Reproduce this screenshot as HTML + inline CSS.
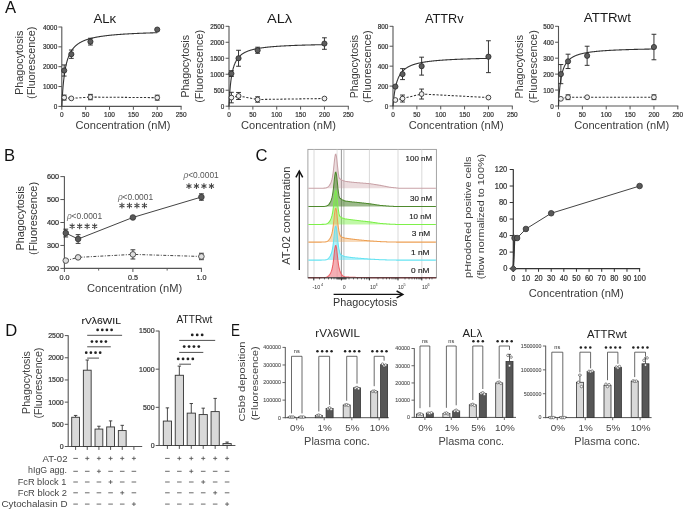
<!DOCTYPE html>
<html><head><meta charset="utf-8"><style>
html,body{margin:0;padding:0;background:#fff;}
svg{display:block;font-family:"Liberation Sans", sans-serif;-webkit-font-smoothing:antialiased;will-change:transform;}
</style></head><body>
<svg width="685" height="511" viewBox="0 0 685 511">
<rect width="685" height="511" fill="#fff"/>
<text x="4.90" y="12.90" font-size="16.6" fill="#111" >A</text>
<text x="3.95" y="160.80" font-size="16.6" fill="#111" >B</text>
<text x="255.60" y="161.20" font-size="16.6" fill="#111" >C</text>
<text x="5.25" y="335.50" font-size="16.6" fill="#111" >D</text>
<text x="230.90" y="335.80" font-size="16.6" fill="#111" textLength="9.0" lengthAdjust="spacingAndGlyphs" >E</text>
<line x1="61.80" y1="26.70" x2="61.80" y2="106.90" stroke="#555" stroke-width="1.1"/>
<line x1="61.30" y1="106.40" x2="181.60" y2="106.40" stroke="#555" stroke-width="1.1"/>
<line x1="61.80" y1="106.40" x2="61.80" y2="109.80" stroke="#555" stroke-width="1"/>
<text x="59.99" y="117.00" font-size="7.4" fill="#333" stroke="#333" stroke-width="0.22" textLength="3.61" lengthAdjust="spacingAndGlyphs">0</text>
<line x1="85.66" y1="106.40" x2="85.66" y2="109.80" stroke="#555" stroke-width="1"/>
<text x="82.05" y="117.00" font-size="7.4" fill="#333" stroke="#333" stroke-width="0.22" textLength="7.23" lengthAdjust="spacingAndGlyphs">50</text>
<line x1="109.52" y1="106.40" x2="109.52" y2="109.80" stroke="#555" stroke-width="1"/>
<text x="104.10" y="117.00" font-size="7.4" fill="#333" stroke="#333" stroke-width="0.22" textLength="10.84" lengthAdjust="spacingAndGlyphs">100</text>
<line x1="133.38" y1="106.40" x2="133.38" y2="109.80" stroke="#555" stroke-width="1"/>
<text x="127.96" y="117.00" font-size="7.4" fill="#333" stroke="#333" stroke-width="0.22" textLength="10.84" lengthAdjust="spacingAndGlyphs">150</text>
<line x1="157.24" y1="106.40" x2="157.24" y2="109.80" stroke="#555" stroke-width="1"/>
<text x="151.82" y="117.00" font-size="7.4" fill="#333" stroke="#333" stroke-width="0.22" textLength="10.84" lengthAdjust="spacingAndGlyphs">200</text>
<line x1="181.10" y1="106.40" x2="181.10" y2="109.80" stroke="#555" stroke-width="1"/>
<text x="175.68" y="117.00" font-size="7.4" fill="#333" stroke="#333" stroke-width="0.22" textLength="10.84" lengthAdjust="spacingAndGlyphs">250</text>
<line x1="58.40" y1="106.40" x2="61.80" y2="106.40" stroke="#555" stroke-width="1"/>
<text x="53.64" y="108.90" font-size="7.0" fill="#333" stroke="#333" stroke-width="0.22" textLength="3.56" lengthAdjust="spacingAndGlyphs">0</text>
<line x1="58.40" y1="86.55" x2="61.80" y2="86.55" stroke="#555" stroke-width="1"/>
<text x="42.96" y="89.05" font-size="7.0" fill="#333" stroke="#333" stroke-width="0.22" textLength="14.24" lengthAdjust="spacingAndGlyphs">1000</text>
<line x1="58.40" y1="66.70" x2="61.80" y2="66.70" stroke="#555" stroke-width="1"/>
<text x="42.96" y="69.20" font-size="7.0" fill="#333" stroke="#333" stroke-width="0.22" textLength="14.24" lengthAdjust="spacingAndGlyphs">2000</text>
<line x1="58.40" y1="46.85" x2="61.80" y2="46.85" stroke="#555" stroke-width="1"/>
<text x="42.96" y="49.35" font-size="7.0" fill="#333" stroke="#333" stroke-width="0.22" textLength="14.24" lengthAdjust="spacingAndGlyphs">3000</text>
<line x1="58.40" y1="27.00" x2="61.80" y2="27.00" stroke="#555" stroke-width="1"/>
<text x="42.96" y="29.50" font-size="7.0" fill="#333" stroke="#333" stroke-width="0.22" textLength="14.24" lengthAdjust="spacingAndGlyphs">4000</text>
<text x="123.00" y="128.80" font-size="10.2" fill="#3a3a3a" text-anchor="middle" textLength="94.8" lengthAdjust="spacingAndGlyphs" >Concentration (nM)</text>
<text x="22.60" y="62.80" font-size="10.9" fill="#3a3a3a" text-anchor="middle" textLength="64.3" lengthAdjust="spacingAndGlyphs" transform="rotate(-90 22.60 62.80)" >Phagocytosis</text>
<text x="35.00" y="62.80" font-size="10.9" fill="#3a3a3a" text-anchor="middle" textLength="72.2" lengthAdjust="spacingAndGlyphs" transform="rotate(-90 35.00 62.80)" >(Fluorescence)</text>
<text x="93.48" y="22.60" font-size="13.4" fill="#1a1a1a" textLength="22.75" lengthAdjust="spacingAndGlyphs">ALκ</text>
<polyline points="61.80,106.40 61.80,106.39 61.80,106.35 61.81,106.29 61.81,106.20 61.81,106.09 61.82,105.95 61.83,105.79 61.84,105.61 61.85,105.40 61.86,105.17 61.87,104.91 61.89,104.63 61.90,104.34 61.92,104.02 61.93,103.68 61.95,103.32 61.97,102.94 61.99,102.54 62.02,102.12 62.04,101.69 62.06,101.24 62.09,100.77 62.12,100.29 62.14,99.80 62.17,99.29 62.20,98.76 62.23,98.23 62.27,97.68 62.30,97.13 62.34,96.56 62.37,95.98 62.41,95.40 62.45,94.80 62.49,94.21 62.53,93.60 62.57,92.99 62.62,92.37 62.66,91.75 62.71,91.12 62.75,90.50 62.80,89.86 62.85,89.23 62.90,88.60 62.95,87.96 63.01,87.32 63.06,86.69 63.12,86.05 63.17,85.42 63.23,84.78 63.29,84.15 63.35,83.52 63.41,82.89 63.48,82.27 63.54,81.65 63.60,81.03 63.67,80.41 63.74,79.80 63.81,79.20 63.88,78.59 63.95,78.00 64.02,77.40 64.09,76.82 64.17,76.23 64.24,75.66 64.32,75.08 64.40,74.52 64.48,73.96 64.56,73.40 64.64,72.85 64.72,72.31 64.81,71.77 64.89,71.24 64.98,70.72 65.07,70.20 65.16,69.69 65.25,69.18 65.34,68.68 65.43,68.19 65.52,67.70 65.62,67.22 65.71,66.74 65.81,66.28 65.91,65.81 66.01,65.36 66.11,64.91 66.21,64.46 66.31,64.03 66.42,63.59 66.52,63.17 66.63,62.75 66.74,62.34 66.85,61.93 66.96,61.53 67.07,61.13 67.18,60.74 67.30,60.35 67.41,59.98 67.53,59.60 67.65,59.23 67.77,58.87 67.88,58.51 68.01,58.16 68.13,57.82 68.25,57.47 68.38,57.14 68.50,56.81 68.63,56.48 68.76,56.16 68.89,55.84 69.02,55.53 69.15,55.22 69.28,54.92 69.42,54.62 69.55,54.32 69.69,54.04 69.83,53.75 69.97,53.47 70.11,53.19 70.25,52.92 70.39,52.65 70.53,52.39 70.68,52.13 70.82,51.87 70.97,51.62 71.12,51.37 71.27,51.12 71.42,50.88 71.57,50.64 71.73,50.41 71.88,50.18 72.04,49.95 72.19,49.73 72.35,49.51 72.51,49.29 72.67,49.07 72.83,48.86 73.00,48.65 73.16,48.45 73.32,48.25 73.49,48.05 73.66,47.85 73.83,47.66 74.00,47.47 74.17,47.28 74.34,47.09 74.51,46.91 74.69,46.73 74.87,46.55 75.04,46.38 75.22,46.21 75.40,46.04 75.58,45.87 75.76,45.70 75.95,45.54 76.13,45.38 76.32,45.22 76.50,45.07 76.69,44.91 76.88,44.76 77.07,44.61 77.26,44.46 77.45,44.32 77.65,44.18 77.84,44.03 78.04,43.89 78.24,43.76 78.44,43.62 78.64,43.49 78.84,43.35 79.04,43.22 79.24,43.10 79.45,42.97 79.65,42.84 79.86,42.72 80.07,42.60 80.28,42.48 80.49,42.36 80.70,42.24 80.91,42.13 81.13,42.01 81.34,41.90 81.56,41.79 81.78,41.68 82.00,41.57 82.22,41.46 82.44,41.36 82.66,41.25 82.88,41.15 83.11,41.05 83.33,40.95 83.56,40.85 83.79,40.75 84.02,40.66 84.25,40.56 84.48,40.47 84.72,40.38 84.95,40.28 85.19,40.19 85.42,40.10 85.66,40.02 85.90,39.93 86.14,39.84 86.38,39.76 86.62,39.67 86.87,39.59 87.11,39.51 87.36,39.43 87.61,39.35 87.86,39.27 88.11,39.19 88.36,39.11 88.61,39.04 88.86,38.96 89.12,38.89 89.37,38.81 89.63,38.74 89.89,38.67 90.15,38.60 90.41,38.53 90.67,38.46 90.93,38.39 91.20,38.32 91.46,38.25 91.73,38.19 92.00,38.12 92.27,38.06 92.54,37.99 92.81,37.93 93.08,37.86 93.35,37.80 93.63,37.74 93.91,37.68 94.18,37.62 94.46,37.56 94.74,37.50 95.02,37.45 95.30,37.39 95.59,37.33 95.87,37.28 96.16,37.22 96.45,37.16 96.73,37.11 97.02,37.06 97.31,37.00 97.60,36.95 97.90,36.90 98.19,36.85 98.49,36.80 98.78,36.75 99.08,36.70 99.38,36.65 99.68,36.60 99.98,36.55 100.28,36.50 100.59,36.46 100.89,36.41 101.20,36.36 101.51,36.32 101.81,36.27 102.12,36.23 102.43,36.18 102.75,36.14 103.06,36.09 103.37,36.05 103.69,36.01 104.01,35.97 104.32,35.92 104.64,35.88 104.96,35.84 105.28,35.80 105.61,35.76 105.93,35.72 106.26,35.68 106.58,35.64 106.91,35.60 107.24,35.57 107.57,35.53 107.90,35.49 108.23,35.45 108.57,35.42 108.90,35.38 109.24,35.34 109.57,35.31 109.91,35.27 110.25,35.24 110.59,35.20 110.93,35.17 111.28,35.14 111.62,35.10 111.97,35.07 112.31,35.04 112.66,35.00 113.01,34.97 113.36,34.94 113.71,34.91 114.06,34.87 114.42,34.84 114.77,34.81 115.13,34.78 115.48,34.75 115.84,34.72 116.20,34.69 116.56,34.66 116.93,34.63 117.29,34.60 117.65,34.57 118.02,34.55 118.39,34.52 118.75,34.49 119.12,34.46 119.49,34.43 119.87,34.41 120.24,34.38 120.61,34.35 120.99,34.33 121.36,34.30 121.74,34.27 122.12,34.25 122.50,34.22 122.88,34.20 123.26,34.17 123.65,34.15 124.03,34.12 124.42,34.10 124.81,34.07 125.19,34.05 125.58,34.02 125.97,34.00 126.37,33.98 126.76,33.95 127.15,33.93 127.55,33.91 127.95,33.88 128.34,33.86 128.74,33.84 129.14,33.82 129.54,33.80 129.95,33.77 130.35,33.75 130.76,33.73 131.16,33.71 131.57,33.69 131.98,33.67 132.39,33.65 132.80,33.63 133.21,33.60 133.62,33.58 134.04,33.56 134.45,33.54 134.87,33.52 135.29,33.50 135.71,33.49 136.13,33.47 136.55,33.45 136.97,33.43 137.40,33.41 137.82,33.39 138.25,33.37 138.68,33.35 139.11,33.33 139.54,33.32 139.97,33.30 140.40,33.28 140.83,33.26 141.27,33.25 141.70,33.23 142.14,33.21 142.58,33.19 143.02,33.18 143.46,33.16 143.90,33.14 144.35,33.13 144.79,33.11 145.24,33.09 145.68,33.08 146.13,33.06 146.58,33.04 147.03,33.03 147.48,33.01 147.93,33.00 148.39,32.98 148.84,32.97 149.30,32.95 149.76,32.94 150.22,32.92 150.68,32.91 151.14,32.89 151.60,32.88 152.06,32.86 152.53,32.85 152.99,32.83 153.46,32.82 153.93,32.80 154.40,32.79 154.87,32.77 155.34,32.76 155.81,32.75 156.29,32.73 156.76,32.72 157.24,32.71" stroke="#333" stroke-width="1.1" fill="none"/>
<polyline points="64.19,97.59 71.34,98.38 90.43,97.07 157.24,97.67" stroke="#333" stroke-width="1.05" fill="none" stroke-dasharray="2.2,1.6"/>
<line x1="64.19" y1="100.07" x2="64.19" y2="95.11" stroke="#2a2a2a" stroke-width="0.95"/>
<line x1="61.79" y1="95.11" x2="66.59" y2="95.11" stroke="#2a2a2a" stroke-width="0.95"/>
<line x1="61.79" y1="100.07" x2="66.59" y2="100.07" stroke="#2a2a2a" stroke-width="0.95"/>
<circle cx="64.19" cy="97.59" r="2.4" fill="#eeeeee" stroke="#333" stroke-width="0.9"/>
<circle cx="71.34" cy="98.38" r="2.4" fill="#eeeeee" stroke="#333" stroke-width="0.9"/>
<line x1="90.43" y1="99.75" x2="90.43" y2="94.39" stroke="#2a2a2a" stroke-width="0.95"/>
<line x1="88.03" y1="94.39" x2="92.83" y2="94.39" stroke="#2a2a2a" stroke-width="0.95"/>
<line x1="88.03" y1="99.75" x2="92.83" y2="99.75" stroke="#2a2a2a" stroke-width="0.95"/>
<circle cx="90.43" cy="97.07" r="2.4" fill="#eeeeee" stroke="#333" stroke-width="0.9"/>
<line x1="157.24" y1="100.15" x2="157.24" y2="95.18" stroke="#2a2a2a" stroke-width="0.95"/>
<line x1="154.84" y1="95.18" x2="159.64" y2="95.18" stroke="#2a2a2a" stroke-width="0.95"/>
<line x1="154.84" y1="100.15" x2="159.64" y2="100.15" stroke="#2a2a2a" stroke-width="0.95"/>
<circle cx="157.24" cy="97.67" r="2.4" fill="#eeeeee" stroke="#333" stroke-width="0.9"/>
<line x1="64.19" y1="76.07" x2="64.19" y2="64.95" stroke="#2a2a2a" stroke-width="0.95"/>
<line x1="61.79" y1="64.95" x2="66.59" y2="64.95" stroke="#2a2a2a" stroke-width="0.95"/>
<line x1="61.79" y1="76.07" x2="66.59" y2="76.07" stroke="#2a2a2a" stroke-width="0.95"/>
<circle cx="64.19" cy="70.51" r="2.6" fill="#5e5e5e" stroke="#2a2a2a" stroke-width="0.8"/>
<line x1="71.34" y1="58.36" x2="71.34" y2="50.03" stroke="#2a2a2a" stroke-width="0.95"/>
<line x1="68.94" y1="50.03" x2="73.74" y2="50.03" stroke="#2a2a2a" stroke-width="0.95"/>
<line x1="68.94" y1="58.36" x2="73.74" y2="58.36" stroke="#2a2a2a" stroke-width="0.95"/>
<circle cx="71.34" cy="54.19" r="2.6" fill="#5e5e5e" stroke="#2a2a2a" stroke-width="0.8"/>
<line x1="90.43" y1="45.02" x2="90.43" y2="38.27" stroke="#2a2a2a" stroke-width="0.95"/>
<line x1="88.03" y1="38.27" x2="92.83" y2="38.27" stroke="#2a2a2a" stroke-width="0.95"/>
<line x1="88.03" y1="45.02" x2="92.83" y2="45.02" stroke="#2a2a2a" stroke-width="0.95"/>
<circle cx="90.43" cy="41.65" r="2.6" fill="#5e5e5e" stroke="#2a2a2a" stroke-width="0.8"/>
<circle cx="157.24" cy="29.58" r="2.6" fill="#5e5e5e" stroke="#2a2a2a" stroke-width="0.8"/>
<line x1="229.00" y1="26.00" x2="229.00" y2="106.70" stroke="#555" stroke-width="1.1"/>
<line x1="228.50" y1="106.20" x2="348.80" y2="106.20" stroke="#555" stroke-width="1.1"/>
<line x1="229.00" y1="106.20" x2="229.00" y2="109.60" stroke="#555" stroke-width="1"/>
<text x="227.19" y="116.80" font-size="7.4" fill="#333" stroke="#333" stroke-width="0.22" textLength="3.61" lengthAdjust="spacingAndGlyphs">0</text>
<line x1="252.86" y1="106.20" x2="252.86" y2="109.60" stroke="#555" stroke-width="1"/>
<text x="249.25" y="116.80" font-size="7.4" fill="#333" stroke="#333" stroke-width="0.22" textLength="7.23" lengthAdjust="spacingAndGlyphs">50</text>
<line x1="276.72" y1="106.20" x2="276.72" y2="109.60" stroke="#555" stroke-width="1"/>
<text x="271.30" y="116.80" font-size="7.4" fill="#333" stroke="#333" stroke-width="0.22" textLength="10.84" lengthAdjust="spacingAndGlyphs">100</text>
<line x1="300.58" y1="106.20" x2="300.58" y2="109.60" stroke="#555" stroke-width="1"/>
<text x="295.16" y="116.80" font-size="7.4" fill="#333" stroke="#333" stroke-width="0.22" textLength="10.84" lengthAdjust="spacingAndGlyphs">150</text>
<line x1="324.44" y1="106.20" x2="324.44" y2="109.60" stroke="#555" stroke-width="1"/>
<text x="319.02" y="116.80" font-size="7.4" fill="#333" stroke="#333" stroke-width="0.22" textLength="10.84" lengthAdjust="spacingAndGlyphs">200</text>
<line x1="348.30" y1="106.20" x2="348.30" y2="109.60" stroke="#555" stroke-width="1"/>
<text x="342.88" y="116.80" font-size="7.4" fill="#333" stroke="#333" stroke-width="0.22" textLength="10.84" lengthAdjust="spacingAndGlyphs">250</text>
<line x1="225.60" y1="106.20" x2="229.00" y2="106.20" stroke="#555" stroke-width="1"/>
<text x="220.84" y="108.70" font-size="7.0" fill="#333" stroke="#333" stroke-width="0.22" textLength="3.56" lengthAdjust="spacingAndGlyphs">0</text>
<line x1="225.60" y1="90.22" x2="229.00" y2="90.22" stroke="#555" stroke-width="1"/>
<text x="213.72" y="92.72" font-size="7.0" fill="#333" stroke="#333" stroke-width="0.22" textLength="10.68" lengthAdjust="spacingAndGlyphs">500</text>
<line x1="225.60" y1="74.24" x2="229.00" y2="74.24" stroke="#555" stroke-width="1"/>
<text x="210.16" y="76.74" font-size="7.0" fill="#333" stroke="#333" stroke-width="0.22" textLength="14.24" lengthAdjust="spacingAndGlyphs">1000</text>
<line x1="225.60" y1="58.26" x2="229.00" y2="58.26" stroke="#555" stroke-width="1"/>
<text x="210.16" y="60.76" font-size="7.0" fill="#333" stroke="#333" stroke-width="0.22" textLength="14.24" lengthAdjust="spacingAndGlyphs">1500</text>
<line x1="225.60" y1="42.28" x2="229.00" y2="42.28" stroke="#555" stroke-width="1"/>
<text x="210.16" y="44.78" font-size="7.0" fill="#333" stroke="#333" stroke-width="0.22" textLength="14.24" lengthAdjust="spacingAndGlyphs">2000</text>
<line x1="225.60" y1="26.30" x2="229.00" y2="26.30" stroke="#555" stroke-width="1"/>
<text x="210.16" y="28.80" font-size="7.0" fill="#333" stroke="#333" stroke-width="0.22" textLength="14.24" lengthAdjust="spacingAndGlyphs">2500</text>
<text x="288.50" y="128.80" font-size="10.2" fill="#3a3a3a" text-anchor="middle" textLength="94.8" lengthAdjust="spacingAndGlyphs" >Concentration (nM)</text>
<text x="189.50" y="66.30" font-size="10.0" fill="#3a3a3a" text-anchor="middle" textLength="62.5" lengthAdjust="spacingAndGlyphs" transform="rotate(-90 189.50 66.30)" >Phagocytosis</text>
<text x="203.20" y="66.30" font-size="10.0" fill="#3a3a3a" text-anchor="middle" textLength="73.0" lengthAdjust="spacingAndGlyphs" transform="rotate(-90 203.20 66.30)" >(Fluorescence)</text>
<text x="267.02" y="23.30" font-size="13.5" fill="#1a1a1a" textLength="25.16" lengthAdjust="spacingAndGlyphs">ALλ</text>
<polyline points="229.00,106.20 229.00,106.19 229.00,106.15 229.01,106.08 229.01,105.99 229.01,105.87 229.02,105.73 229.03,105.56 229.04,105.36 229.05,105.14 229.06,104.90 229.07,104.63 229.09,104.34 229.10,104.03 229.12,103.70 229.13,103.35 229.15,102.97 229.17,102.58 229.19,102.17 229.22,101.74 229.24,101.30 229.26,100.84 229.29,100.37 229.32,99.88 229.34,99.38 229.37,98.86 229.40,98.34 229.43,97.80 229.47,97.26 229.50,96.71 229.54,96.15 229.57,95.58 229.61,95.01 229.65,94.43 229.69,93.84 229.73,93.26 229.77,92.67 229.82,92.07 229.86,91.48 229.91,90.88 229.95,90.29 230.00,89.69 230.05,89.10 230.10,88.50 230.15,87.91 230.21,87.32 230.26,86.73 230.32,86.15 230.37,85.57 230.43,84.99 230.49,84.41 230.55,83.84 230.61,83.28 230.68,82.72 230.74,82.16 230.80,81.61 230.87,81.07 230.94,80.53 231.01,80.00 231.08,79.47 231.15,78.95 231.22,78.43 231.29,77.92 231.37,77.42 231.44,76.93 231.52,76.44 231.60,75.95 231.68,75.48 231.76,75.01 231.84,74.55 231.92,74.09 232.01,73.64 232.09,73.20 232.18,72.76 232.27,72.33 232.36,71.91 232.45,71.49 232.54,71.08 232.63,70.68 232.72,70.28 232.82,69.89 232.91,69.50 233.01,69.13 233.11,68.75 233.21,68.39 233.31,68.03 233.41,67.67 233.51,67.32 233.62,66.98 233.72,66.64 233.83,66.31 233.94,65.99 234.05,65.66 234.16,65.35 234.27,65.04 234.38,64.73 234.50,64.44 234.61,64.14 234.73,63.85 234.85,63.57 234.97,63.29 235.08,63.01 235.21,62.74 235.33,62.48 235.45,62.21 235.58,61.96 235.70,61.70 235.83,61.46 235.96,61.21 236.09,60.97 236.22,60.74 236.35,60.50 236.48,60.28 236.62,60.05 236.75,59.83 236.89,59.61 237.03,59.40 237.17,59.19 237.31,58.99 237.45,58.78 237.59,58.58 237.73,58.39 237.88,58.20 238.02,58.01 238.17,57.82 238.32,57.64 238.47,57.46 238.62,57.28 238.77,57.10 238.93,56.93 239.08,56.76 239.24,56.60 239.39,56.43 239.55,56.27 239.71,56.11 239.87,55.96 240.03,55.80 240.20,55.65 240.36,55.51 240.52,55.36 240.69,55.22 240.86,55.07 241.03,54.93 241.20,54.80 241.37,54.66 241.54,54.53 241.71,54.40 241.89,54.27 242.07,54.14 242.24,54.02 242.42,53.89 242.60,53.77 242.78,53.65 242.96,53.54 243.15,53.42 243.33,53.31 243.52,53.19 243.70,53.08 243.89,52.97 244.08,52.87 244.27,52.76 244.46,52.66 244.65,52.55 244.85,52.45 245.04,52.35 245.24,52.25 245.44,52.16 245.64,52.06 245.84,51.97 246.04,51.88 246.24,51.78 246.44,51.69 246.65,51.61 246.85,51.52 247.06,51.43 247.27,51.35 247.48,51.26 247.69,51.18 247.90,51.10 248.11,51.02 248.33,50.94 248.54,50.86 248.76,50.78 248.98,50.71 249.20,50.63 249.42,50.56 249.64,50.48 249.86,50.41 250.08,50.34 250.31,50.27 250.53,50.20 250.76,50.13 250.99,50.06 251.22,50.00 251.45,49.93 251.68,49.87 251.92,49.80 252.15,49.74 252.39,49.68 252.62,49.62 252.86,49.55 253.10,49.49 253.34,49.44 253.58,49.38 253.82,49.32 254.07,49.26 254.31,49.21 254.56,49.15 254.81,49.10 255.06,49.04 255.31,48.99 255.56,48.93 255.81,48.88 256.06,48.83 256.32,48.78 256.57,48.73 256.83,48.68 257.09,48.63 257.35,48.58 257.61,48.53 257.87,48.49 258.13,48.44 258.40,48.39 258.66,48.35 258.93,48.30 259.20,48.26 259.47,48.21 259.74,48.17 260.01,48.13 260.28,48.08 260.55,48.04 260.83,48.00 261.11,47.96 261.38,47.92 261.66,47.88 261.94,47.84 262.22,47.80 262.50,47.76 262.79,47.72 263.07,47.68 263.36,47.65 263.65,47.61 263.93,47.57 264.22,47.54 264.51,47.50 264.80,47.46 265.10,47.43 265.39,47.39 265.69,47.36 265.98,47.33 266.28,47.29 266.58,47.26 266.88,47.23 267.18,47.19 267.48,47.16 267.79,47.13 268.09,47.10 268.40,47.07 268.71,47.04 269.01,47.01 269.32,46.98 269.63,46.95 269.95,46.92 270.26,46.89 270.57,46.86 270.89,46.83 271.21,46.80 271.52,46.77 271.84,46.74 272.16,46.72 272.48,46.69 272.81,46.66 273.13,46.64 273.46,46.61 273.78,46.58 274.11,46.56 274.44,46.53 274.77,46.51 275.10,46.48 275.43,46.46 275.77,46.43 276.10,46.41 276.44,46.38 276.77,46.36 277.11,46.34 277.45,46.31 277.79,46.29 278.13,46.27 278.48,46.24 278.82,46.22 279.17,46.20 279.51,46.18 279.86,46.15 280.21,46.13 280.56,46.11 280.91,46.09 281.26,46.07 281.62,46.05 281.97,46.03 282.33,46.01 282.69,45.99 283.04,45.97 283.40,45.95 283.76,45.93 284.13,45.91 284.49,45.89 284.85,45.87 285.22,45.85 285.59,45.83 285.95,45.81 286.32,45.79 286.69,45.78 287.07,45.76 287.44,45.74 287.81,45.72 288.19,45.70 288.56,45.69 288.94,45.67 289.32,45.65 289.70,45.63 290.08,45.62 290.46,45.60 290.85,45.58 291.23,45.57 291.62,45.55 292.01,45.53 292.39,45.52 292.78,45.50 293.17,45.49 293.57,45.47 293.96,45.46 294.35,45.44 294.75,45.42 295.15,45.41 295.54,45.39 295.94,45.38 296.34,45.36 296.74,45.35 297.15,45.34 297.55,45.32 297.96,45.31 298.36,45.29 298.77,45.28 299.18,45.27 299.59,45.25 300.00,45.24 300.41,45.22 300.82,45.21 301.24,45.20 301.65,45.18 302.07,45.17 302.49,45.16 302.91,45.14 303.33,45.13 303.75,45.12 304.17,45.11 304.60,45.09 305.02,45.08 305.45,45.07 305.88,45.06 306.31,45.05 306.74,45.03 307.17,45.02 307.60,45.01 308.03,45.00 308.47,44.99 308.90,44.97 309.34,44.96 309.78,44.95 310.22,44.94 310.66,44.93 311.10,44.92 311.55,44.91 311.99,44.90 312.44,44.88 312.88,44.87 313.33,44.86 313.78,44.85 314.23,44.84 314.68,44.83 315.13,44.82 315.59,44.81 316.04,44.80 316.50,44.79 316.96,44.78 317.42,44.77 317.88,44.76 318.34,44.75 318.80,44.74 319.26,44.73 319.73,44.72 320.19,44.71 320.66,44.70 321.13,44.69 321.60,44.68 322.07,44.67 322.54,44.67 323.01,44.66 323.49,44.65 323.96,44.64 324.44,44.63" stroke="#333" stroke-width="1.1" fill="none"/>
<polyline points="231.39,97.57 238.54,95.97 257.63,99.49 324.44,98.53" stroke="#333" stroke-width="1.05" fill="none" stroke-dasharray="2.2,1.6"/>
<line x1="231.39" y1="102.84" x2="231.39" y2="92.30" stroke="#2a2a2a" stroke-width="0.95"/>
<line x1="228.99" y1="92.30" x2="233.79" y2="92.30" stroke="#2a2a2a" stroke-width="0.95"/>
<line x1="228.99" y1="102.84" x2="233.79" y2="102.84" stroke="#2a2a2a" stroke-width="0.95"/>
<circle cx="231.39" cy="97.57" r="2.4" fill="#eeeeee" stroke="#333" stroke-width="0.9"/>
<line x1="238.54" y1="99.49" x2="238.54" y2="92.46" stroke="#2a2a2a" stroke-width="0.95"/>
<line x1="236.14" y1="92.46" x2="240.94" y2="92.46" stroke="#2a2a2a" stroke-width="0.95"/>
<line x1="236.14" y1="99.49" x2="240.94" y2="99.49" stroke="#2a2a2a" stroke-width="0.95"/>
<circle cx="238.54" cy="95.97" r="2.4" fill="#eeeeee" stroke="#333" stroke-width="0.9"/>
<line x1="257.63" y1="102.20" x2="257.63" y2="96.77" stroke="#2a2a2a" stroke-width="0.95"/>
<line x1="255.23" y1="96.77" x2="260.03" y2="96.77" stroke="#2a2a2a" stroke-width="0.95"/>
<line x1="255.23" y1="102.20" x2="260.03" y2="102.20" stroke="#2a2a2a" stroke-width="0.95"/>
<circle cx="257.63" cy="99.49" r="2.4" fill="#eeeeee" stroke="#333" stroke-width="0.9"/>
<circle cx="324.44" cy="98.53" r="2.4" fill="#eeeeee" stroke="#333" stroke-width="0.9"/>
<line x1="231.39" y1="76.48" x2="231.39" y2="70.72" stroke="#2a2a2a" stroke-width="0.95"/>
<line x1="228.99" y1="70.72" x2="233.79" y2="70.72" stroke="#2a2a2a" stroke-width="0.95"/>
<line x1="228.99" y1="76.48" x2="233.79" y2="76.48" stroke="#2a2a2a" stroke-width="0.95"/>
<circle cx="231.39" cy="73.60" r="2.6" fill="#5e5e5e" stroke="#2a2a2a" stroke-width="0.8"/>
<line x1="238.54" y1="66.25" x2="238.54" y2="50.27" stroke="#2a2a2a" stroke-width="0.95"/>
<line x1="236.14" y1="50.27" x2="240.94" y2="50.27" stroke="#2a2a2a" stroke-width="0.95"/>
<line x1="236.14" y1="66.25" x2="240.94" y2="66.25" stroke="#2a2a2a" stroke-width="0.95"/>
<circle cx="238.54" cy="58.26" r="2.6" fill="#5e5e5e" stroke="#2a2a2a" stroke-width="0.8"/>
<line x1="257.63" y1="53.31" x2="257.63" y2="47.23" stroke="#2a2a2a" stroke-width="0.95"/>
<line x1="255.23" y1="47.23" x2="260.03" y2="47.23" stroke="#2a2a2a" stroke-width="0.95"/>
<line x1="255.23" y1="53.31" x2="260.03" y2="53.31" stroke="#2a2a2a" stroke-width="0.95"/>
<circle cx="257.63" cy="50.27" r="2.6" fill="#5e5e5e" stroke="#2a2a2a" stroke-width="0.8"/>
<line x1="324.44" y1="49.31" x2="324.44" y2="37.81" stroke="#2a2a2a" stroke-width="0.95"/>
<line x1="322.04" y1="37.81" x2="326.84" y2="37.81" stroke="#2a2a2a" stroke-width="0.95"/>
<line x1="322.04" y1="49.31" x2="326.84" y2="49.31" stroke="#2a2a2a" stroke-width="0.95"/>
<circle cx="324.44" cy="43.56" r="2.6" fill="#5e5e5e" stroke="#2a2a2a" stroke-width="0.8"/>
<line x1="393.00" y1="26.00" x2="393.00" y2="106.50" stroke="#555" stroke-width="1.1"/>
<line x1="392.50" y1="106.00" x2="512.80" y2="106.00" stroke="#555" stroke-width="1.1"/>
<line x1="393.00" y1="106.00" x2="393.00" y2="109.40" stroke="#555" stroke-width="1"/>
<text x="391.19" y="116.60" font-size="7.4" fill="#333" stroke="#333" stroke-width="0.22" textLength="3.61" lengthAdjust="spacingAndGlyphs">0</text>
<line x1="416.86" y1="106.00" x2="416.86" y2="109.40" stroke="#555" stroke-width="1"/>
<text x="413.25" y="116.60" font-size="7.4" fill="#333" stroke="#333" stroke-width="0.22" textLength="7.23" lengthAdjust="spacingAndGlyphs">50</text>
<line x1="440.72" y1="106.00" x2="440.72" y2="109.40" stroke="#555" stroke-width="1"/>
<text x="435.30" y="116.60" font-size="7.4" fill="#333" stroke="#333" stroke-width="0.22" textLength="10.84" lengthAdjust="spacingAndGlyphs">100</text>
<line x1="464.58" y1="106.00" x2="464.58" y2="109.40" stroke="#555" stroke-width="1"/>
<text x="459.16" y="116.60" font-size="7.4" fill="#333" stroke="#333" stroke-width="0.22" textLength="10.84" lengthAdjust="spacingAndGlyphs">150</text>
<line x1="488.44" y1="106.00" x2="488.44" y2="109.40" stroke="#555" stroke-width="1"/>
<text x="483.02" y="116.60" font-size="7.4" fill="#333" stroke="#333" stroke-width="0.22" textLength="10.84" lengthAdjust="spacingAndGlyphs">200</text>
<line x1="512.30" y1="106.00" x2="512.30" y2="109.40" stroke="#555" stroke-width="1"/>
<text x="506.88" y="116.60" font-size="7.4" fill="#333" stroke="#333" stroke-width="0.22" textLength="10.84" lengthAdjust="spacingAndGlyphs">250</text>
<line x1="389.60" y1="106.00" x2="393.00" y2="106.00" stroke="#555" stroke-width="1"/>
<text x="384.84" y="108.50" font-size="7.0" fill="#333" stroke="#333" stroke-width="0.22" textLength="3.56" lengthAdjust="spacingAndGlyphs">0</text>
<line x1="389.60" y1="86.08" x2="393.00" y2="86.08" stroke="#555" stroke-width="1"/>
<text x="377.72" y="88.58" font-size="7.0" fill="#333" stroke="#333" stroke-width="0.22" textLength="10.68" lengthAdjust="spacingAndGlyphs">200</text>
<line x1="389.60" y1="66.15" x2="393.00" y2="66.15" stroke="#555" stroke-width="1"/>
<text x="377.72" y="68.65" font-size="7.0" fill="#333" stroke="#333" stroke-width="0.22" textLength="10.68" lengthAdjust="spacingAndGlyphs">400</text>
<line x1="389.60" y1="46.22" x2="393.00" y2="46.22" stroke="#555" stroke-width="1"/>
<text x="377.72" y="48.72" font-size="7.0" fill="#333" stroke="#333" stroke-width="0.22" textLength="10.68" lengthAdjust="spacingAndGlyphs">600</text>
<line x1="389.60" y1="26.30" x2="393.00" y2="26.30" stroke="#555" stroke-width="1"/>
<text x="377.72" y="28.80" font-size="7.0" fill="#333" stroke="#333" stroke-width="0.22" textLength="10.68" lengthAdjust="spacingAndGlyphs">800</text>
<text x="456.20" y="128.80" font-size="10.2" fill="#3a3a3a" text-anchor="middle" textLength="94.8" lengthAdjust="spacingAndGlyphs" >Concentration (nM)</text>
<text x="357.70" y="66.60" font-size="10.0" fill="#3a3a3a" text-anchor="middle" textLength="63.4" lengthAdjust="spacingAndGlyphs" transform="rotate(-90 357.70 66.60)" >Phagocytosis</text>
<text x="371.40" y="66.60" font-size="10.0" fill="#3a3a3a" text-anchor="middle" textLength="72.6" lengthAdjust="spacingAndGlyphs" transform="rotate(-90 371.40 66.60)" >(Fluorescence)</text>
<text x="425.07" y="22.50" font-size="13.1" fill="#1a1a1a" textLength="38.56" lengthAdjust="spacingAndGlyphs">ATTRv</text>
<polyline points="393.00,106.00 393.00,105.99 393.00,105.97 393.01,105.94 393.01,105.88 393.01,105.82 393.02,105.74 393.03,105.65 393.04,105.54 393.05,105.42 393.06,105.29 393.07,105.14 393.09,104.98 393.10,104.81 393.12,104.62 393.13,104.43 393.15,104.22 393.17,104.00 393.19,103.77 393.22,103.52 393.24,103.27 393.26,103.01 393.29,102.74 393.32,102.45 393.34,102.16 393.37,101.86 393.40,101.56 393.43,101.24 393.47,100.92 393.50,100.59 393.54,100.25 393.57,99.91 393.61,99.56 393.65,99.21 393.69,98.85 393.73,98.49 393.77,98.13 393.82,97.76 393.86,97.38 393.91,97.01 393.95,96.63 394.00,96.25 394.05,95.86 394.10,95.48 394.15,95.09 394.21,94.70 394.26,94.32 394.32,93.93 394.37,93.54 394.43,93.15 394.49,92.76 394.55,92.37 394.61,91.99 394.68,91.60 394.74,91.21 394.80,90.83 394.87,90.45 394.94,90.07 395.01,89.69 395.08,89.31 395.15,88.94 395.22,88.56 395.29,88.19 395.37,87.83 395.44,87.46 395.52,87.10 395.60,86.74 395.68,86.39 395.76,86.03 395.84,85.68 395.92,85.34 396.01,84.99 396.09,84.66 396.18,84.32 396.27,83.99 396.36,83.66 396.45,83.33 396.54,83.01 396.63,82.69 396.72,82.37 396.82,82.06 396.91,81.75 397.01,81.45 397.11,81.15 397.21,80.85 397.31,80.56 397.41,80.27 397.51,79.98 397.62,79.70 397.72,79.42 397.83,79.14 397.94,78.87 398.05,78.60 398.16,78.33 398.27,78.07 398.38,77.81 398.50,77.56 398.61,77.31 398.73,77.06 398.85,76.81 398.96,76.57 399.08,76.33 399.21,76.10 399.33,75.87 399.45,75.64 399.58,75.41 399.70,75.19 399.83,74.97 399.96,74.76 400.09,74.54 400.22,74.33 400.35,74.13 400.48,73.92 400.62,73.72 400.75,73.52 400.89,73.33 401.03,73.13 401.17,72.94 401.31,72.75 401.45,72.57 401.59,72.39 401.73,72.21 401.88,72.03 402.02,71.85 402.17,71.68 402.32,71.51 402.47,71.35 402.62,71.18 402.77,71.02 402.93,70.86 403.08,70.70 403.24,70.54 403.39,70.39 403.55,70.24 403.71,70.09 403.87,69.94 404.03,69.79 404.20,69.65 404.36,69.51 404.52,69.37 404.69,69.23 404.86,69.10 405.03,68.96 405.20,68.83 405.37,68.70 405.54,68.57 405.71,68.45 405.89,68.32 406.07,68.20 406.24,68.08 406.42,67.96 406.60,67.84 406.78,67.72 406.96,67.61 407.15,67.50 407.33,67.39 407.52,67.27 407.70,67.17 407.89,67.06 408.08,66.95 408.27,66.85 408.46,66.75 408.65,66.64 408.85,66.54 409.04,66.45 409.24,66.35 409.44,66.25 409.64,66.16 409.84,66.06 410.04,65.97 410.24,65.88 410.44,65.79 410.65,65.70 410.85,65.61 411.06,65.52 411.27,65.44 411.48,65.35 411.69,65.27 411.90,65.19 412.11,65.11 412.33,65.03 412.54,64.95 412.76,64.87 412.98,64.79 413.20,64.72 413.42,64.64 413.64,64.57 413.86,64.49 414.08,64.42 414.31,64.35 414.53,64.28 414.76,64.21 414.99,64.14 415.22,64.07 415.45,64.00 415.68,63.94 415.92,63.87 416.15,63.81 416.39,63.74 416.62,63.68 416.86,63.62 417.10,63.56 417.34,63.49 417.58,63.43 417.82,63.37 418.07,63.32 418.31,63.26 418.56,63.20 418.81,63.14 419.06,63.09 419.31,63.03 419.56,62.98 419.81,62.92 420.06,62.87 420.32,62.81 420.57,62.76 420.83,62.71 421.09,62.66 421.35,62.61 421.61,62.56 421.87,62.51 422.13,62.46 422.40,62.41 422.66,62.36 422.93,62.32 423.20,62.27 423.47,62.22 423.74,62.18 424.01,62.13 424.28,62.09 424.55,62.04 424.83,62.00 425.11,61.96 425.38,61.91 425.66,61.87 425.94,61.83 426.22,61.79 426.50,61.75 426.79,61.71 427.07,61.67 427.36,61.63 427.65,61.59 427.93,61.55 428.22,61.51 428.51,61.47 428.80,61.43 429.10,61.40 429.39,61.36 429.69,61.32 429.98,61.29 430.28,61.25 430.58,61.22 430.88,61.18 431.18,61.15 431.48,61.11 431.79,61.08 432.09,61.05 432.40,61.01 432.71,60.98 433.01,60.95 433.32,60.92 433.63,60.88 433.95,60.85 434.26,60.82 434.57,60.79 434.89,60.76 435.21,60.73 435.52,60.70 435.84,60.67 436.16,60.64 436.48,60.61 436.81,60.58 437.13,60.55 437.46,60.52 437.78,60.50 438.11,60.47 438.44,60.44 438.77,60.41 439.10,60.39 439.43,60.36 439.77,60.33 440.10,60.31 440.44,60.28 440.77,60.26 441.11,60.23 441.45,60.21 441.79,60.18 442.13,60.16 442.48,60.13 442.82,60.11 443.17,60.08 443.51,60.06 443.86,60.04 444.21,60.01 444.56,59.99 444.91,59.97 445.26,59.94 445.62,59.92 445.97,59.90 446.33,59.88 446.69,59.85 447.04,59.83 447.40,59.81 447.76,59.79 448.13,59.77 448.49,59.75 448.85,59.73 449.22,59.71 449.59,59.69 449.95,59.67 450.32,59.65 450.69,59.63 451.07,59.61 451.44,59.59 451.81,59.57 452.19,59.55 452.56,59.53 452.94,59.51 453.32,59.49 453.70,59.47 454.08,59.45 454.46,59.44 454.85,59.42 455.23,59.40 455.62,59.38 456.01,59.36 456.39,59.35 456.78,59.33 457.17,59.31 457.57,59.30 457.96,59.28 458.35,59.26 458.75,59.25 459.15,59.23 459.54,59.21 459.94,59.20 460.34,59.18 460.74,59.16 461.15,59.15 461.55,59.13 461.96,59.12 462.36,59.10 462.77,59.09 463.18,59.07 463.59,59.06 464.00,59.04 464.41,59.03 464.82,59.01 465.24,59.00 465.65,58.98 466.07,58.97 466.49,58.95 466.91,58.94 467.33,58.93 467.75,58.91 468.17,58.90 468.60,58.88 469.02,58.87 469.45,58.86 469.88,58.84 470.31,58.83 470.74,58.82 471.17,58.80 471.60,58.79 472.03,58.78 472.47,58.77 472.90,58.75 473.34,58.74 473.78,58.73 474.22,58.72 474.66,58.70 475.10,58.69 475.55,58.68 475.99,58.67 476.44,58.66 476.88,58.64 477.33,58.63 477.78,58.62 478.23,58.61 478.68,58.60 479.13,58.59 479.59,58.57 480.04,58.56 480.50,58.55 480.96,58.54 481.42,58.53 481.88,58.52 482.34,58.51 482.80,58.50 483.26,58.49 483.73,58.48 484.19,58.47 484.66,58.46 485.13,58.45 485.60,58.44 486.07,58.42 486.54,58.41 487.01,58.40 487.49,58.39 487.96,58.38 488.44,58.37" stroke="#333" stroke-width="1.1" fill="none"/>
<polyline points="395.39,100.02 402.54,98.53 421.63,94.05 488.44,97.53" stroke="#333" stroke-width="1.05" fill="none" stroke-dasharray="2.2,1.6"/>
<circle cx="395.39" cy="100.02" r="2.4" fill="#eeeeee" stroke="#333" stroke-width="0.9"/>
<line x1="402.54" y1="102.02" x2="402.54" y2="95.04" stroke="#2a2a2a" stroke-width="0.95"/>
<line x1="400.14" y1="95.04" x2="404.94" y2="95.04" stroke="#2a2a2a" stroke-width="0.95"/>
<line x1="400.14" y1="102.02" x2="404.94" y2="102.02" stroke="#2a2a2a" stroke-width="0.95"/>
<circle cx="402.54" cy="98.53" r="2.4" fill="#eeeeee" stroke="#333" stroke-width="0.9"/>
<line x1="421.63" y1="99.03" x2="421.63" y2="89.06" stroke="#2a2a2a" stroke-width="0.95"/>
<line x1="419.23" y1="89.06" x2="424.03" y2="89.06" stroke="#2a2a2a" stroke-width="0.95"/>
<line x1="419.23" y1="99.03" x2="424.03" y2="99.03" stroke="#2a2a2a" stroke-width="0.95"/>
<circle cx="421.63" cy="94.05" r="2.4" fill="#eeeeee" stroke="#333" stroke-width="0.9"/>
<circle cx="488.44" cy="97.53" r="2.4" fill="#eeeeee" stroke="#333" stroke-width="0.9"/>
<circle cx="395.39" cy="86.57" r="2.6" fill="#5e5e5e" stroke="#2a2a2a" stroke-width="0.8"/>
<line x1="402.54" y1="79.60" x2="402.54" y2="68.64" stroke="#2a2a2a" stroke-width="0.95"/>
<line x1="400.14" y1="68.64" x2="404.94" y2="68.64" stroke="#2a2a2a" stroke-width="0.95"/>
<line x1="400.14" y1="79.60" x2="404.94" y2="79.60" stroke="#2a2a2a" stroke-width="0.95"/>
<circle cx="402.54" cy="74.12" r="2.6" fill="#5e5e5e" stroke="#2a2a2a" stroke-width="0.8"/>
<line x1="421.63" y1="75.12" x2="421.63" y2="57.18" stroke="#2a2a2a" stroke-width="0.95"/>
<line x1="419.23" y1="57.18" x2="424.03" y2="57.18" stroke="#2a2a2a" stroke-width="0.95"/>
<line x1="419.23" y1="75.12" x2="424.03" y2="75.12" stroke="#2a2a2a" stroke-width="0.95"/>
<circle cx="421.63" cy="66.15" r="2.6" fill="#5e5e5e" stroke="#2a2a2a" stroke-width="0.8"/>
<line x1="488.44" y1="72.63" x2="488.44" y2="40.75" stroke="#2a2a2a" stroke-width="0.95"/>
<line x1="486.04" y1="40.75" x2="490.84" y2="40.75" stroke="#2a2a2a" stroke-width="0.95"/>
<line x1="486.04" y1="72.63" x2="490.84" y2="72.63" stroke="#2a2a2a" stroke-width="0.95"/>
<circle cx="488.44" cy="56.69" r="2.6" fill="#5e5e5e" stroke="#2a2a2a" stroke-width="0.8"/>
<line x1="558.50" y1="26.00" x2="558.50" y2="106.50" stroke="#555" stroke-width="1.1"/>
<line x1="558.00" y1="106.00" x2="678.30" y2="106.00" stroke="#555" stroke-width="1.1"/>
<line x1="558.50" y1="106.00" x2="558.50" y2="109.40" stroke="#555" stroke-width="1"/>
<text x="556.69" y="116.60" font-size="7.4" fill="#333" stroke="#333" stroke-width="0.22" textLength="3.61" lengthAdjust="spacingAndGlyphs">0</text>
<line x1="582.36" y1="106.00" x2="582.36" y2="109.40" stroke="#555" stroke-width="1"/>
<text x="578.75" y="116.60" font-size="7.4" fill="#333" stroke="#333" stroke-width="0.22" textLength="7.23" lengthAdjust="spacingAndGlyphs">50</text>
<line x1="606.22" y1="106.00" x2="606.22" y2="109.40" stroke="#555" stroke-width="1"/>
<text x="600.80" y="116.60" font-size="7.4" fill="#333" stroke="#333" stroke-width="0.22" textLength="10.84" lengthAdjust="spacingAndGlyphs">100</text>
<line x1="630.08" y1="106.00" x2="630.08" y2="109.40" stroke="#555" stroke-width="1"/>
<text x="624.66" y="116.60" font-size="7.4" fill="#333" stroke="#333" stroke-width="0.22" textLength="10.84" lengthAdjust="spacingAndGlyphs">150</text>
<line x1="653.94" y1="106.00" x2="653.94" y2="109.40" stroke="#555" stroke-width="1"/>
<text x="648.52" y="116.60" font-size="7.4" fill="#333" stroke="#333" stroke-width="0.22" textLength="10.84" lengthAdjust="spacingAndGlyphs">200</text>
<line x1="677.80" y1="106.00" x2="677.80" y2="109.40" stroke="#555" stroke-width="1"/>
<text x="672.38" y="116.60" font-size="7.4" fill="#333" stroke="#333" stroke-width="0.22" textLength="10.84" lengthAdjust="spacingAndGlyphs">250</text>
<line x1="555.10" y1="106.00" x2="558.50" y2="106.00" stroke="#555" stroke-width="1"/>
<text x="550.34" y="108.50" font-size="7.0" fill="#333" stroke="#333" stroke-width="0.22" textLength="3.56" lengthAdjust="spacingAndGlyphs">0</text>
<line x1="555.10" y1="90.06" x2="558.50" y2="90.06" stroke="#555" stroke-width="1"/>
<text x="543.22" y="92.56" font-size="7.0" fill="#333" stroke="#333" stroke-width="0.22" textLength="10.68" lengthAdjust="spacingAndGlyphs">100</text>
<line x1="555.10" y1="74.12" x2="558.50" y2="74.12" stroke="#555" stroke-width="1"/>
<text x="543.22" y="76.62" font-size="7.0" fill="#333" stroke="#333" stroke-width="0.22" textLength="10.68" lengthAdjust="spacingAndGlyphs">200</text>
<line x1="555.10" y1="58.18" x2="558.50" y2="58.18" stroke="#555" stroke-width="1"/>
<text x="543.22" y="60.68" font-size="7.0" fill="#333" stroke="#333" stroke-width="0.22" textLength="10.68" lengthAdjust="spacingAndGlyphs">300</text>
<line x1="555.10" y1="42.24" x2="558.50" y2="42.24" stroke="#555" stroke-width="1"/>
<text x="543.22" y="44.74" font-size="7.0" fill="#333" stroke="#333" stroke-width="0.22" textLength="10.68" lengthAdjust="spacingAndGlyphs">400</text>
<line x1="555.10" y1="26.30" x2="558.50" y2="26.30" stroke="#555" stroke-width="1"/>
<text x="543.22" y="28.80" font-size="7.0" fill="#333" stroke="#333" stroke-width="0.22" textLength="10.68" lengthAdjust="spacingAndGlyphs">500</text>
<text x="621.70" y="128.80" font-size="10.2" fill="#3a3a3a" text-anchor="middle" textLength="94.8" lengthAdjust="spacingAndGlyphs" >Concentration (nM)</text>
<text x="523.00" y="66.70" font-size="10.0" fill="#3a3a3a" text-anchor="middle" textLength="63.4" lengthAdjust="spacingAndGlyphs" transform="rotate(-90 523.00 66.70)" >Phagocytosis</text>
<text x="536.80" y="66.70" font-size="10.0" fill="#3a3a3a" text-anchor="middle" textLength="73.0" lengthAdjust="spacingAndGlyphs" transform="rotate(-90 536.80 66.70)" >(Fluorescence)</text>
<text x="583.88" y="22.40" font-size="12.7" fill="#1a1a1a" textLength="47.04" lengthAdjust="spacingAndGlyphs">ATTRwt</text>
<polyline points="558.50,106.00 558.50,105.99 558.50,105.95 558.51,105.89 558.51,105.80 558.51,105.69 558.52,105.56 558.53,105.40 558.54,105.22 558.55,105.02 558.56,104.79 558.57,104.55 558.59,104.28 558.60,103.99 558.62,103.68 558.63,103.35 558.65,103.01 558.67,102.64 558.69,102.26 558.72,101.87 558.74,101.46 558.76,101.03 558.79,100.59 558.82,100.14 558.84,99.67 558.87,99.20 558.90,98.71 558.93,98.21 558.97,97.71 559.00,97.20 559.04,96.68 559.07,96.15 559.11,95.62 559.15,95.08 559.19,94.54 559.23,94.00 559.27,93.45 559.32,92.90 559.36,92.35 559.41,91.80 559.45,91.25 559.50,90.70 559.55,90.15 559.60,89.60 559.65,89.05 559.71,88.50 559.76,87.95 559.82,87.41 559.87,86.87 559.93,86.34 559.99,85.81 560.05,85.28 560.11,84.75 560.18,84.24 560.24,83.72 560.30,83.21 560.37,82.71 560.44,82.21 560.51,81.71 560.58,81.23 560.65,80.74 560.72,80.27 560.79,79.80 560.87,79.33 560.94,78.87 561.02,78.42 561.10,77.97 561.18,77.53 561.26,77.10 561.34,76.67 561.42,76.25 561.51,75.83 561.59,75.42 561.68,75.02 561.77,74.62 561.86,74.23 561.95,73.84 562.04,73.46 562.13,73.09 562.22,72.72 562.32,72.36 562.41,72.00 562.51,71.65 562.61,71.31 562.71,70.97 562.81,70.63 562.91,70.30 563.01,69.98 563.12,69.66 563.22,69.35 563.33,69.05 563.44,68.74 563.55,68.45 563.66,68.16 563.77,67.87 563.88,67.59 564.00,67.31 564.11,67.04 564.23,66.77 564.35,66.51 564.47,66.25 564.58,65.99 564.71,65.74 564.83,65.50 564.95,65.25 565.08,65.02 565.20,64.78 565.33,64.55 565.46,64.33 565.59,64.11 565.72,63.89 565.85,63.67 565.98,63.46 566.12,63.25 566.25,63.05 566.39,62.85 566.53,62.65 566.67,62.46 566.81,62.27 566.95,62.08 567.09,61.90 567.23,61.71 567.38,61.54 567.52,61.36 567.67,61.19 567.82,61.02 567.97,60.85 568.12,60.69 568.27,60.53 568.43,60.37 568.58,60.21 568.74,60.06 568.89,59.91 569.05,59.76 569.21,59.61 569.37,59.47 569.53,59.33 569.70,59.19 569.86,59.05 570.02,58.91 570.19,58.78 570.36,58.65 570.53,58.52 570.70,58.39 570.87,58.27 571.04,58.15 571.21,58.02 571.39,57.91 571.57,57.79 571.74,57.67 571.92,57.56 572.10,57.45 572.28,57.34 572.46,57.23 572.65,57.12 572.83,57.01 573.02,56.91 573.20,56.81 573.39,56.71 573.58,56.61 573.77,56.51 573.96,56.41 574.15,56.32 574.35,56.23 574.54,56.13 574.74,56.04 574.94,55.95 575.14,55.86 575.34,55.78 575.54,55.69 575.74,55.61 575.94,55.52 576.15,55.44 576.35,55.36 576.56,55.28 576.77,55.20 576.98,55.12 577.19,55.05 577.40,54.97 577.61,54.90 577.83,54.82 578.04,54.75 578.26,54.68 578.48,54.61 578.70,54.54 578.92,54.47 579.14,54.40 579.36,54.34 579.58,54.27 579.81,54.21 580.03,54.14 580.26,54.08 580.49,54.02 580.72,53.95 580.95,53.89 581.18,53.83 581.42,53.77 581.65,53.72 581.89,53.66 582.12,53.60 582.36,53.55 582.60,53.49 582.84,53.44 583.08,53.38 583.32,53.33 583.57,53.27 583.81,53.22 584.06,53.17 584.31,53.12 584.56,53.07 584.81,53.02 585.06,52.97 585.31,52.92 585.56,52.88 585.82,52.83 586.07,52.78 586.33,52.74 586.59,52.69 586.85,52.65 587.11,52.60 587.37,52.56 587.63,52.51 587.90,52.47 588.16,52.43 588.43,52.39 588.70,52.35 588.97,52.31 589.24,52.27 589.51,52.23 589.78,52.19 590.05,52.15 590.33,52.11 590.61,52.07 590.88,52.03 591.16,52.00 591.44,51.96 591.72,51.92 592.00,51.89 592.29,51.85 592.57,51.82 592.86,51.78 593.15,51.75 593.43,51.71 593.72,51.68 594.01,51.65 594.30,51.61 594.60,51.58 594.89,51.55 595.19,51.52 595.48,51.49 595.78,51.45 596.08,51.42 596.38,51.39 596.68,51.36 596.98,51.33 597.29,51.30 597.59,51.27 597.90,51.25 598.21,51.22 598.51,51.19 598.82,51.16 599.13,51.13 599.45,51.11 599.76,51.08 600.07,51.05 600.39,51.03 600.71,51.00 601.02,50.97 601.34,50.95 601.66,50.92 601.98,50.90 602.31,50.87 602.63,50.85 602.96,50.82 603.28,50.80 603.61,50.77 603.94,50.75 604.27,50.73 604.60,50.70 604.93,50.68 605.27,50.66 605.60,50.64 605.94,50.61 606.27,50.59 606.61,50.57 606.95,50.55 607.29,50.53 607.63,50.51 607.98,50.48 608.32,50.46 608.67,50.44 609.01,50.42 609.36,50.40 609.71,50.38 610.06,50.36 610.41,50.34 610.76,50.32 611.12,50.30 611.47,50.28 611.83,50.27 612.18,50.25 612.54,50.23 612.90,50.21 613.26,50.19 613.63,50.17 613.99,50.16 614.35,50.14 614.72,50.12 615.09,50.10 615.45,50.09 615.82,50.07 616.19,50.05 616.57,50.03 616.94,50.02 617.31,50.00 617.69,49.98 618.06,49.97 618.44,49.95 618.82,49.94 619.20,49.92 619.58,49.90 619.96,49.89 620.35,49.87 620.73,49.86 621.12,49.84 621.51,49.83 621.89,49.81 622.28,49.80 622.67,49.78 623.07,49.77 623.46,49.76 623.85,49.74 624.25,49.73 624.65,49.71 625.04,49.70 625.44,49.69 625.84,49.67 626.24,49.66 626.65,49.64 627.05,49.63 627.46,49.62 627.86,49.61 628.27,49.59 628.68,49.58 629.09,49.57 629.50,49.55 629.91,49.54 630.32,49.53 630.74,49.52 631.15,49.50 631.57,49.49 631.99,49.48 632.41,49.47 632.83,49.46 633.25,49.44 633.67,49.43 634.10,49.42 634.52,49.41 634.95,49.40 635.38,49.39 635.81,49.38 636.24,49.37 636.67,49.35 637.10,49.34 637.53,49.33 637.97,49.32 638.40,49.31 638.84,49.30 639.28,49.29 639.72,49.28 640.16,49.27 640.60,49.26 641.05,49.25 641.49,49.24 641.94,49.23 642.38,49.22 642.83,49.21 643.28,49.20 643.73,49.19 644.18,49.18 644.63,49.17 645.09,49.16 645.54,49.15 646.00,49.14 646.46,49.13 646.92,49.12 647.38,49.11 647.84,49.10 648.30,49.10 648.76,49.09 649.23,49.08 649.69,49.07 650.16,49.06 650.63,49.05 651.10,49.04 651.57,49.03 652.04,49.03 652.51,49.02 652.99,49.01 653.46,49.00 653.94,48.99" stroke="#333" stroke-width="1.1" fill="none"/>
<polyline points="560.89,98.83 568.04,97.23 587.13,97.23 653.94,97.23" stroke="#333" stroke-width="1.05" fill="none" stroke-dasharray="2.2,1.6"/>
<circle cx="560.89" cy="98.83" r="2.4" fill="#eeeeee" stroke="#333" stroke-width="0.9"/>
<line x1="568.04" y1="99.62" x2="568.04" y2="94.84" stroke="#2a2a2a" stroke-width="0.95"/>
<line x1="565.64" y1="94.84" x2="570.44" y2="94.84" stroke="#2a2a2a" stroke-width="0.95"/>
<line x1="565.64" y1="99.62" x2="570.44" y2="99.62" stroke="#2a2a2a" stroke-width="0.95"/>
<circle cx="568.04" cy="97.23" r="2.4" fill="#eeeeee" stroke="#333" stroke-width="0.9"/>
<circle cx="587.13" cy="97.23" r="2.4" fill="#eeeeee" stroke="#333" stroke-width="0.9"/>
<line x1="653.94" y1="99.62" x2="653.94" y2="94.84" stroke="#2a2a2a" stroke-width="0.95"/>
<line x1="651.54" y1="94.84" x2="656.34" y2="94.84" stroke="#2a2a2a" stroke-width="0.95"/>
<line x1="651.54" y1="99.62" x2="656.34" y2="99.62" stroke="#2a2a2a" stroke-width="0.95"/>
<circle cx="653.94" cy="97.23" r="2.4" fill="#eeeeee" stroke="#333" stroke-width="0.9"/>
<line x1="560.89" y1="83.68" x2="560.89" y2="64.56" stroke="#2a2a2a" stroke-width="0.95"/>
<line x1="558.49" y1="64.56" x2="563.29" y2="64.56" stroke="#2a2a2a" stroke-width="0.95"/>
<line x1="558.49" y1="83.68" x2="563.29" y2="83.68" stroke="#2a2a2a" stroke-width="0.95"/>
<circle cx="560.89" cy="74.12" r="2.6" fill="#5e5e5e" stroke="#2a2a2a" stroke-width="0.8"/>
<line x1="568.04" y1="68.54" x2="568.04" y2="54.19" stroke="#2a2a2a" stroke-width="0.95"/>
<line x1="565.64" y1="54.19" x2="570.44" y2="54.19" stroke="#2a2a2a" stroke-width="0.95"/>
<line x1="565.64" y1="68.54" x2="570.44" y2="68.54" stroke="#2a2a2a" stroke-width="0.95"/>
<circle cx="568.04" cy="61.37" r="2.6" fill="#5e5e5e" stroke="#2a2a2a" stroke-width="0.8"/>
<line x1="587.13" y1="65.35" x2="587.13" y2="46.22" stroke="#2a2a2a" stroke-width="0.95"/>
<line x1="584.73" y1="46.22" x2="589.53" y2="46.22" stroke="#2a2a2a" stroke-width="0.95"/>
<line x1="584.73" y1="65.35" x2="589.53" y2="65.35" stroke="#2a2a2a" stroke-width="0.95"/>
<circle cx="587.13" cy="55.79" r="2.6" fill="#5e5e5e" stroke="#2a2a2a" stroke-width="0.8"/>
<line x1="653.94" y1="59.77" x2="653.94" y2="34.27" stroke="#2a2a2a" stroke-width="0.95"/>
<line x1="651.54" y1="34.27" x2="656.34" y2="34.27" stroke="#2a2a2a" stroke-width="0.95"/>
<line x1="651.54" y1="59.77" x2="656.34" y2="59.77" stroke="#2a2a2a" stroke-width="0.95"/>
<circle cx="653.94" cy="47.02" r="2.6" fill="#5e5e5e" stroke="#2a2a2a" stroke-width="0.8"/>
<line x1="64.40" y1="176.30" x2="64.40" y2="268.90" stroke="#555" stroke-width="1.1"/>
<line x1="63.90" y1="268.40" x2="201.90" y2="268.40" stroke="#555" stroke-width="1.1"/>
<line x1="64.40" y1="268.40" x2="64.40" y2="272.00" stroke="#555" stroke-width="1"/>
<text x="59.40" y="280.00" font-size="7.7" fill="#333" stroke="#333" stroke-width="0.22" textLength="10.01" lengthAdjust="spacingAndGlyphs">0.0</text>
<line x1="132.90" y1="268.40" x2="132.90" y2="272.00" stroke="#555" stroke-width="1"/>
<text x="127.90" y="280.00" font-size="7.7" fill="#333" stroke="#333" stroke-width="0.22" textLength="10.01" lengthAdjust="spacingAndGlyphs">0.5</text>
<line x1="201.40" y1="268.40" x2="201.40" y2="272.00" stroke="#555" stroke-width="1"/>
<text x="196.40" y="280.00" font-size="7.7" fill="#333" stroke="#333" stroke-width="0.22" textLength="10.01" lengthAdjust="spacingAndGlyphs">1.0</text>
<line x1="98.65" y1="268.40" x2="98.65" y2="270.60" stroke="#555" stroke-width="0.9"/>
<line x1="167.15" y1="268.40" x2="167.15" y2="270.60" stroke="#555" stroke-width="0.9"/>
<line x1="60.40" y1="268.40" x2="64.40" y2="268.40" stroke="#555" stroke-width="1"/>
<text x="46.90" y="270.70" font-size="7.1" fill="#333" stroke="#333" stroke-width="0.22" textLength="12.10" lengthAdjust="spacingAndGlyphs">200</text>
<line x1="60.40" y1="245.45" x2="64.40" y2="245.45" stroke="#555" stroke-width="1"/>
<text x="46.90" y="247.75" font-size="7.1" fill="#333" stroke="#333" stroke-width="0.22" textLength="12.10" lengthAdjust="spacingAndGlyphs">300</text>
<line x1="60.40" y1="222.50" x2="64.40" y2="222.50" stroke="#555" stroke-width="1"/>
<text x="46.90" y="224.80" font-size="7.1" fill="#333" stroke="#333" stroke-width="0.22" textLength="12.10" lengthAdjust="spacingAndGlyphs">400</text>
<line x1="60.40" y1="199.55" x2="64.40" y2="199.55" stroke="#555" stroke-width="1"/>
<text x="46.90" y="201.85" font-size="7.1" fill="#333" stroke="#333" stroke-width="0.22" textLength="12.10" lengthAdjust="spacingAndGlyphs">500</text>
<line x1="60.40" y1="176.60" x2="64.40" y2="176.60" stroke="#555" stroke-width="1"/>
<text x="46.90" y="178.90" font-size="7.1" fill="#333" stroke="#333" stroke-width="0.22" textLength="12.10" lengthAdjust="spacingAndGlyphs">600</text>
<text x="134.60" y="291.70" font-size="10.4" fill="#3a3a3a" text-anchor="middle" textLength="95" lengthAdjust="spacingAndGlyphs" >Concentration (nM)</text>
<text x="24.00" y="218.30" font-size="10.6" fill="#333" text-anchor="middle" textLength="64.6" lengthAdjust="spacingAndGlyphs" transform="rotate(-90 24.00 218.30)" >Phagocytosis</text>
<text x="36.60" y="218.40" font-size="10.6" fill="#333" text-anchor="middle" textLength="73" lengthAdjust="spacingAndGlyphs" transform="rotate(-90 36.60 218.40)" >(Fluorescence)</text>
<polyline points="65.77,233.06 78.10,239.02 132.90,217.45 201.40,197.03" stroke="#444" stroke-width="1.0" fill="none"/>
<polyline points="65.77,260.60 78.10,257.38 132.90,254.40 201.40,256.47" stroke="#444" stroke-width="1.0" fill="none" stroke-dasharray="3,1.5,1,1.5"/>
<circle cx="65.77" cy="260.60" r="2.8" fill="#dedede" stroke="#444" stroke-width="0.9"/>
<circle cx="78.10" cy="257.38" r="2.8" fill="#dedede" stroke="#444" stroke-width="0.9"/>
<line x1="132.90" y1="258.99" x2="132.90" y2="249.81" stroke="#2a2a2a" stroke-width="0.95"/>
<line x1="130.50" y1="249.81" x2="135.30" y2="249.81" stroke="#2a2a2a" stroke-width="0.95"/>
<line x1="130.50" y1="258.99" x2="135.30" y2="258.99" stroke="#2a2a2a" stroke-width="0.95"/>
<circle cx="132.90" cy="254.40" r="2.8" fill="#dedede" stroke="#444" stroke-width="0.9"/>
<line x1="201.40" y1="259.68" x2="201.40" y2="253.25" stroke="#2a2a2a" stroke-width="0.95"/>
<line x1="199.00" y1="253.25" x2="203.80" y2="253.25" stroke="#2a2a2a" stroke-width="0.95"/>
<line x1="199.00" y1="259.68" x2="203.80" y2="259.68" stroke="#2a2a2a" stroke-width="0.95"/>
<circle cx="201.40" cy="256.47" r="2.8" fill="#dedede" stroke="#444" stroke-width="0.9"/>
<line x1="65.77" y1="236.96" x2="65.77" y2="229.16" stroke="#2a2a2a" stroke-width="0.95"/>
<line x1="63.37" y1="229.16" x2="68.17" y2="229.16" stroke="#2a2a2a" stroke-width="0.95"/>
<line x1="63.37" y1="236.96" x2="68.17" y2="236.96" stroke="#2a2a2a" stroke-width="0.95"/>
<circle cx="65.77" cy="233.06" r="2.8" fill="#595959" stroke="#333" stroke-width="0.8"/>
<line x1="78.10" y1="243.38" x2="78.10" y2="234.66" stroke="#2a2a2a" stroke-width="0.95"/>
<line x1="75.70" y1="234.66" x2="80.50" y2="234.66" stroke="#2a2a2a" stroke-width="0.95"/>
<line x1="75.70" y1="243.38" x2="80.50" y2="243.38" stroke="#2a2a2a" stroke-width="0.95"/>
<circle cx="78.10" cy="239.02" r="2.8" fill="#595959" stroke="#333" stroke-width="0.8"/>
<circle cx="132.90" cy="217.45" r="2.8" fill="#595959" stroke="#333" stroke-width="0.8"/>
<line x1="201.40" y1="200.24" x2="201.40" y2="193.81" stroke="#2a2a2a" stroke-width="0.95"/>
<line x1="199.00" y1="193.81" x2="203.80" y2="193.81" stroke="#2a2a2a" stroke-width="0.95"/>
<line x1="199.00" y1="200.24" x2="203.80" y2="200.24" stroke="#2a2a2a" stroke-width="0.95"/>
<circle cx="201.40" cy="197.03" r="2.8" fill="#595959" stroke="#333" stroke-width="0.8"/>
<text x="67.00" y="218.80" font-size="8.4" fill="#666" font-style="italic" >ρ</text>
<text x="71.60" y="218.80" font-size="8.2" fill="#555" textLength="30.6" lengthAdjust="spacingAndGlyphs" >&lt;0.0001</text>
<path d="M72.15,223.75L72.15,228.65M70.03,224.97L74.27,227.42M74.27,224.97L70.03,227.42" stroke="#444" stroke-width="1.1" stroke-linecap="round" fill="none"/>
<path d="M79.65,223.75L79.65,228.65M77.53,224.97L81.77,227.42M81.77,224.97L77.53,227.42" stroke="#444" stroke-width="1.1" stroke-linecap="round" fill="none"/>
<path d="M87.15,223.75L87.15,228.65M85.03,224.97L89.27,227.42M89.27,224.97L85.03,227.42" stroke="#444" stroke-width="1.1" stroke-linecap="round" fill="none"/>
<path d="M94.65,223.75L94.65,228.65M92.53,224.97L96.77,227.42M96.77,224.97L92.53,227.42" stroke="#444" stroke-width="1.1" stroke-linecap="round" fill="none"/>
<text x="117.90" y="199.50" font-size="8.4" fill="#666" font-style="italic" >ρ</text>
<text x="122.50" y="199.50" font-size="8.2" fill="#555" textLength="30.6" lengthAdjust="spacingAndGlyphs" >&lt;0.0001</text>
<path d="M121.95,203.15L121.95,208.05M119.83,204.38L124.07,206.82M124.07,204.38L119.83,206.82" stroke="#444" stroke-width="1.1" stroke-linecap="round" fill="none"/>
<path d="M129.45,203.15L129.45,208.05M127.33,204.38L131.57,206.82M131.57,204.38L127.33,206.82" stroke="#444" stroke-width="1.1" stroke-linecap="round" fill="none"/>
<path d="M136.95,203.15L136.95,208.05M134.83,204.38L139.07,206.82M139.07,204.38L134.83,206.82" stroke="#444" stroke-width="1.1" stroke-linecap="round" fill="none"/>
<path d="M144.45,203.15L144.45,208.05M142.33,204.38L146.57,206.82M146.57,204.38L142.33,206.82" stroke="#444" stroke-width="1.1" stroke-linecap="round" fill="none"/>
<text x="183.60" y="178.10" font-size="8.4" fill="#666" font-style="italic" >ρ</text>
<text x="188.20" y="178.10" font-size="8.2" fill="#555" textLength="30.6" lengthAdjust="spacingAndGlyphs" >&lt;0.0001</text>
<path d="M188.95,183.65L188.95,188.55M186.83,184.88L191.07,187.32M191.07,184.88L186.83,187.32" stroke="#444" stroke-width="1.1" stroke-linecap="round" fill="none"/>
<path d="M196.45,183.65L196.45,188.55M194.33,184.88L198.57,187.32M198.57,184.88L194.33,187.32" stroke="#444" stroke-width="1.1" stroke-linecap="round" fill="none"/>
<path d="M203.95,183.65L203.95,188.55M201.83,184.88L206.07,187.32M206.07,184.88L201.83,187.32" stroke="#444" stroke-width="1.1" stroke-linecap="round" fill="none"/>
<path d="M211.45,183.65L211.45,188.55M209.33,184.88L213.57,187.32M213.57,184.88L209.33,187.32" stroke="#444" stroke-width="1.1" stroke-linecap="round" fill="none"/>
<rect x="307.9" y="149.4" width="128.5" height="128.4" fill="none" stroke="#9a9a9a" stroke-width="0.9"/>
<line x1="314.00" y1="149.40" x2="314.00" y2="277.80" stroke="#d0d0d0" stroke-width="0.8"/>
<line x1="337.10" y1="149.40" x2="337.10" y2="277.80" stroke="#d8d8d8" stroke-width="0.7"/>
<line x1="343.90" y1="149.40" x2="343.90" y2="277.80" stroke="#b0b0b0" stroke-width="0.8"/>
<line x1="369.40" y1="149.40" x2="369.40" y2="277.80" stroke="#cfcfcf" stroke-width="0.8"/>
<line x1="398.00" y1="149.40" x2="398.00" y2="277.80" stroke="#cfcfcf" stroke-width="0.8"/>
<line x1="421.80" y1="149.40" x2="421.80" y2="277.80" stroke="#cfcfcf" stroke-width="0.8"/>
<line x1="341.40" y1="149.40" x2="341.40" y2="277.80" stroke="#8c8c8c" stroke-width="0.9"/>
<path d="M308.40,188.20 L308.40,188.20 L308.90,188.20 L309.40,188.20 L309.90,188.20 L310.40,188.20 L310.90,188.20 L311.40,188.20 L311.90,188.20 L312.40,188.20 L312.90,188.20 L313.40,188.20 L313.90,188.20 L314.40,188.20 L314.90,188.20 L315.40,188.20 L315.90,188.20 L316.40,188.20 L316.90,188.20 L317.40,188.20 L317.90,188.20 L318.40,188.20 L318.90,188.20 L319.40,188.20 L319.90,188.20 L320.40,188.20 L320.90,188.20 L321.40,188.20 L321.90,188.19 L322.40,188.19 L322.90,188.18 L323.40,188.16 L323.90,188.14 L324.40,188.11 L324.90,188.06 L325.40,187.98 L325.90,187.88 L326.40,187.74 L326.90,187.54 L327.40,187.29 L327.90,186.96 L328.40,186.54 L328.90,186.02 L329.40,185.38 L329.90,184.63 L330.40,183.74 L330.90,182.68 L331.40,181.38 L331.90,179.70 L332.40,177.46 L332.90,174.45 L333.40,170.55 L333.90,165.93 L334.40,161.11 L334.90,156.96 L335.40,154.44 L335.90,154.20 L336.40,156.30 L336.90,160.19 L337.40,164.96 L337.90,169.67 L338.40,173.74 L338.90,176.93 L339.40,178.47 L339.90,178.80 L340.40,179.13 L340.90,179.47 L341.40,179.80 L341.90,180.13 L342.40,180.35 L342.90,180.53 L343.40,180.71 L343.90,180.90 L344.40,181.08 L344.90,181.26 L345.40,181.35 L345.90,181.42 L346.40,181.48 L346.90,181.54 L347.40,181.61 L347.90,181.67 L348.40,181.74 L348.90,181.80 L349.40,181.87 L349.90,181.93 L350.40,181.99 L350.90,182.06 L351.40,182.12 L351.90,182.19 L352.40,182.23 L352.90,182.28 L353.40,182.32 L353.90,182.37 L354.40,182.41 L354.90,182.45 L355.40,182.50 L355.90,182.54 L356.40,182.58 L356.90,182.63 L357.40,182.67 L357.90,182.72 L358.40,182.76 L358.90,182.80 L359.40,182.85 L359.90,182.89 L360.40,182.93 L360.90,182.97 L361.40,183.01 L361.90,183.05 L362.40,183.09 L362.90,183.13 L363.40,183.17 L363.90,183.21 L364.40,183.25 L364.90,183.29 L365.40,183.33 L365.90,183.37 L366.40,183.41 L366.90,183.45 L367.40,183.49 L367.90,183.53 L368.40,183.57 L368.90,183.61 L369.40,183.65 L369.90,183.69 L370.40,183.76 L370.90,183.84 L371.40,183.92 L371.90,184.00 L372.40,184.08 L372.90,184.16 L373.40,184.24 L373.90,184.32 L374.40,184.40 L374.90,184.48 L375.40,184.56 L375.90,184.64 L376.40,184.72 L376.90,184.80 L377.40,184.88 L377.90,184.96 L378.40,185.04 L378.90,185.12 L379.40,185.20 L379.90,185.28 L380.40,185.38 L380.90,185.48 L381.40,185.58 L381.90,185.68 L382.40,185.78 L382.90,185.88 L383.40,185.98 L383.90,186.08 L384.40,186.18 L384.90,186.28 L385.40,186.38 L385.90,186.48 L386.40,186.58 L386.90,186.68 L387.40,186.78 L387.90,186.88 L388.40,186.98 L388.90,187.08 L389.40,187.18 L389.90,187.28 L390.40,187.34 L390.90,187.39 L391.40,187.44 L391.90,187.49 L392.40,187.54 L392.90,187.59 L393.40,187.64 L393.90,187.69 L394.40,187.74 L394.90,187.79 L395.40,187.84 L395.90,187.89 L396.40,187.94 L396.90,187.99 L397.40,188.04 L397.90,188.09 L398.40,188.20 L398.90,188.20 L399.40,188.20 L399.90,188.20 L400.40,188.20 L400.90,188.20 L401.40,188.20 L401.90,188.20 L402.40,188.20 L402.90,188.20 L403.40,188.20 L403.90,188.20 L404.40,188.20 L404.90,188.20 L405.40,188.20 L405.90,188.20 L406.40,188.20 L406.90,188.20 L407.40,188.20 L407.90,188.20 L408.40,188.20 L408.90,188.20 L409.40,188.20 L409.90,188.20 L410.40,188.20 L410.90,188.20 L411.40,188.20 L411.90,188.20 L412.40,188.20 L412.90,188.20 L413.40,188.20 L413.90,188.20 L414.40,188.20 L414.90,188.20 L415.40,188.20 L415.90,188.20 L416.40,188.20 L416.90,188.20 L417.40,188.20 L417.90,188.20 L418.40,188.20 L418.90,188.20 L419.40,188.20 L419.90,188.20 L420.40,188.20 L420.90,188.20 L421.40,188.20 L421.90,188.20 L422.40,188.20 L422.90,188.20 L423.40,188.20 L423.90,188.20 L424.40,188.20 L424.90,188.20 L425.40,188.20 L425.90,188.20 L426.40,188.20 L426.90,188.20 L427.40,188.20 L427.90,188.20 L428.40,188.20 L428.90,188.20 L429.40,188.20 L429.90,188.20 L430.40,188.20 L430.90,188.20 L431.40,188.20 L431.90,188.20 L432.40,188.20 L432.90,188.20 L433.40,188.20 L433.90,188.20 L434.40,188.20 L434.90,188.20 L435.40,188.20 L435.90,188.20 L435.90,188.20 Z" fill="rgba(196,150,156,0.33)" stroke="none"/>
<path d="M308.40,188.20 L308.90,188.20 L309.40,188.20 L309.90,188.20 L310.40,188.20 L310.90,188.20 L311.40,188.20 L311.90,188.20 L312.40,188.20 L312.90,188.20 L313.40,188.20 L313.90,188.20 L314.40,188.20 L314.90,188.20 L315.40,188.20 L315.90,188.20 L316.40,188.20 L316.90,188.20 L317.40,188.20 L317.90,188.20 L318.40,188.20 L318.90,188.20 L319.40,188.20 L319.90,188.20 L320.40,188.20 L320.90,188.20 L321.40,188.20 L321.90,188.19 L322.40,188.19 L322.90,188.18 L323.40,188.16 L323.90,188.14 L324.40,188.11 L324.90,188.06 L325.40,187.98 L325.90,187.88 L326.40,187.74 L326.90,187.54 L327.40,187.29 L327.90,186.96 L328.40,186.54 L328.90,186.02 L329.40,185.38 L329.90,184.63 L330.40,183.74 L330.90,182.68 L331.40,181.38 L331.90,179.70 L332.40,177.46 L332.90,174.45 L333.40,170.55 L333.90,165.93 L334.40,161.11 L334.90,156.96 L335.40,154.44 L335.90,154.20 L336.40,156.30 L336.90,160.19 L337.40,164.96 L337.90,169.67 L338.40,173.74 L338.90,176.93 L339.40,178.47 L339.90,178.80 L340.40,179.13 L340.90,179.47 L341.40,179.80 L341.90,180.13 L342.40,180.35 L342.90,180.53 L343.40,180.71 L343.90,180.90 L344.40,181.08 L344.90,181.26 L345.40,181.35 L345.90,181.42 L346.40,181.48 L346.90,181.54 L347.40,181.61 L347.90,181.67 L348.40,181.74 L348.90,181.80 L349.40,181.87 L349.90,181.93 L350.40,181.99 L350.90,182.06 L351.40,182.12 L351.90,182.19 L352.40,182.23 L352.90,182.28 L353.40,182.32 L353.90,182.37 L354.40,182.41 L354.90,182.45 L355.40,182.50 L355.90,182.54 L356.40,182.58 L356.90,182.63 L357.40,182.67 L357.90,182.72 L358.40,182.76 L358.90,182.80 L359.40,182.85 L359.90,182.89 L360.40,182.93 L360.90,182.97 L361.40,183.01 L361.90,183.05 L362.40,183.09 L362.90,183.13 L363.40,183.17 L363.90,183.21 L364.40,183.25 L364.90,183.29 L365.40,183.33 L365.90,183.37 L366.40,183.41 L366.90,183.45 L367.40,183.49 L367.90,183.53 L368.40,183.57 L368.90,183.61 L369.40,183.65 L369.90,183.69 L370.40,183.76 L370.90,183.84 L371.40,183.92 L371.90,184.00 L372.40,184.08 L372.90,184.16 L373.40,184.24 L373.90,184.32 L374.40,184.40 L374.90,184.48 L375.40,184.56 L375.90,184.64 L376.40,184.72 L376.90,184.80 L377.40,184.88 L377.90,184.96 L378.40,185.04 L378.90,185.12 L379.40,185.20 L379.90,185.28 L380.40,185.38 L380.90,185.48 L381.40,185.58 L381.90,185.68 L382.40,185.78 L382.90,185.88 L383.40,185.98 L383.90,186.08 L384.40,186.18 L384.90,186.28 L385.40,186.38 L385.90,186.48 L386.40,186.58 L386.90,186.68 L387.40,186.78 L387.90,186.88 L388.40,186.98 L388.90,187.08 L389.40,187.18 L389.90,187.28 L390.40,187.34 L390.90,187.39 L391.40,187.44 L391.90,187.49 L392.40,187.54 L392.90,187.59 L393.40,187.64 L393.90,187.69 L394.40,187.74 L394.90,187.79 L395.40,187.84 L395.90,187.89 L396.40,187.94 L396.90,187.99 L397.40,188.04 L397.90,188.09 L398.40,188.20 L398.90,188.20 L399.40,188.20 L399.90,188.20 L400.40,188.20 L400.90,188.20 L401.40,188.20 L401.90,188.20 L402.40,188.20 L402.90,188.20 L403.40,188.20 L403.90,188.20 L404.40,188.20 L404.90,188.20 L405.40,188.20 L405.90,188.20 L406.40,188.20 L406.90,188.20 L407.40,188.20 L407.90,188.20 L408.40,188.20 L408.90,188.20 L409.40,188.20 L409.90,188.20 L410.40,188.20 L410.90,188.20 L411.40,188.20 L411.90,188.20 L412.40,188.20 L412.90,188.20 L413.40,188.20 L413.90,188.20 L414.40,188.20 L414.90,188.20 L415.40,188.20 L415.90,188.20 L416.40,188.20 L416.90,188.20 L417.40,188.20 L417.90,188.20 L418.40,188.20 L418.90,188.20 L419.40,188.20 L419.90,188.20 L420.40,188.20 L420.90,188.20 L421.40,188.20 L421.90,188.20 L422.40,188.20 L422.90,188.20 L423.40,188.20 L423.90,188.20 L424.40,188.20 L424.90,188.20 L425.40,188.20 L425.90,188.20 L426.40,188.20 L426.90,188.20 L427.40,188.20 L427.90,188.20 L428.40,188.20 L428.90,188.20 L429.40,188.20 L429.90,188.20 L430.40,188.20 L430.90,188.20 L431.40,188.20 L431.90,188.20 L432.40,188.20 L432.90,188.20 L433.40,188.20 L433.90,188.20 L434.40,188.20 L434.90,188.20 L435.40,188.20 L435.90,188.20" fill="none" stroke="#c9a3a8" stroke-width="1.05"/>
<path d="M308.40,206.50 L308.40,206.50 L308.90,206.50 L309.40,206.50 L309.90,206.50 L310.40,206.50 L310.90,206.50 L311.40,206.50 L311.90,206.50 L312.40,206.50 L312.90,206.50 L313.40,206.50 L313.90,206.50 L314.40,206.50 L314.90,206.50 L315.40,206.50 L315.90,206.50 L316.40,206.50 L316.90,206.50 L317.40,206.50 L317.90,206.50 L318.40,206.50 L318.90,206.50 L319.40,206.50 L319.90,206.50 L320.40,206.50 L320.90,206.50 L321.40,206.50 L321.90,206.49 L322.40,206.49 L322.90,206.48 L323.40,206.46 L323.90,206.44 L324.40,206.40 L324.90,206.35 L325.40,206.28 L325.90,206.18 L326.40,206.03 L326.90,205.84 L327.40,205.58 L327.90,205.25 L328.40,204.82 L328.90,204.30 L329.40,203.66 L329.90,202.90 L330.40,202.00 L330.90,200.93 L331.40,199.62 L331.90,197.93 L332.40,195.67 L332.90,192.63 L333.40,188.70 L333.90,184.03 L334.40,179.17 L334.90,174.99 L335.40,172.44 L335.90,172.20 L336.40,174.32 L336.90,178.25 L337.40,183.05 L337.90,187.81 L338.40,191.91 L338.90,195.13 L339.40,197.53 L339.90,198.16 L340.40,198.53 L340.90,198.89 L341.40,199.26 L341.90,199.63 L342.40,199.87 L342.90,200.09 L343.40,200.31 L343.90,200.52 L344.40,200.74 L344.90,200.96 L345.40,201.05 L345.90,201.12 L346.40,201.18 L346.90,201.24 L347.40,201.31 L347.90,201.37 L348.40,201.44 L348.90,201.50 L349.40,201.57 L349.90,201.63 L350.40,201.69 L350.90,201.76 L351.40,201.82 L351.90,201.89 L352.40,201.94 L352.90,201.99 L353.40,202.04 L353.90,202.09 L354.40,202.14 L354.90,202.19 L355.40,202.24 L355.90,202.29 L356.40,202.34 L356.90,202.39 L357.40,202.44 L357.90,202.49 L358.40,202.54 L358.90,202.59 L359.40,202.64 L359.90,202.69 L360.40,202.74 L360.90,202.80 L361.40,202.85 L361.90,202.91 L362.40,202.96 L362.90,203.02 L363.40,203.07 L363.90,203.13 L364.40,203.18 L364.90,203.24 L365.40,203.29 L365.90,203.35 L366.40,203.40 L366.90,203.46 L367.40,203.51 L367.90,203.57 L368.40,203.62 L368.90,203.68 L369.40,203.73 L369.90,203.79 L370.40,203.86 L370.90,203.94 L371.40,204.02 L371.90,204.10 L372.40,204.18 L372.90,204.26 L373.40,204.34 L373.90,204.42 L374.40,204.50 L374.90,204.58 L375.40,204.66 L375.90,204.74 L376.40,204.82 L376.90,204.90 L377.40,204.98 L377.90,205.06 L378.40,205.14 L378.90,205.22 L379.40,205.30 L379.90,205.38 L380.40,205.43 L380.90,205.47 L381.40,205.51 L381.90,205.55 L382.40,205.59 L382.90,205.63 L383.40,205.67 L383.90,205.71 L384.40,205.75 L384.90,205.79 L385.40,205.83 L385.90,205.87 L386.40,205.91 L386.90,205.95 L387.40,205.99 L387.90,206.03 L388.40,206.07 L388.90,206.11 L389.40,206.15 L389.90,206.19 L390.40,206.22 L390.90,206.25 L391.40,206.27 L391.90,206.29 L392.40,206.32 L392.90,206.34 L393.40,206.37 L393.90,206.40 L394.40,206.42 L394.90,206.44 L395.40,206.47 L395.90,206.50 L396.40,206.50 L396.90,206.50 L397.40,206.50 L397.90,206.50 L398.40,206.50 L398.90,206.50 L399.40,206.50 L399.90,206.50 L400.40,206.50 L400.90,206.50 L401.40,206.50 L401.90,206.50 L402.40,206.50 L402.90,206.50 L403.40,206.50 L403.90,206.50 L404.40,206.50 L404.90,206.50 L405.40,206.50 L405.90,206.50 L406.40,206.50 L406.90,206.50 L407.40,206.50 L407.90,206.50 L408.40,206.50 L408.90,206.50 L409.40,206.50 L409.90,206.50 L410.40,206.50 L410.90,206.50 L411.40,206.50 L411.90,206.50 L412.40,206.50 L412.90,206.50 L413.40,206.50 L413.90,206.50 L414.40,206.50 L414.90,206.50 L415.40,206.50 L415.90,206.50 L416.40,206.50 L416.90,206.50 L417.40,206.50 L417.90,206.50 L418.40,206.50 L418.90,206.50 L419.40,206.50 L419.90,206.50 L420.40,206.50 L420.90,206.50 L421.40,206.50 L421.90,206.50 L422.40,206.50 L422.90,206.50 L423.40,206.50 L423.90,206.50 L424.40,206.50 L424.90,206.50 L425.40,206.50 L425.90,206.50 L426.40,206.50 L426.90,206.50 L427.40,206.50 L427.90,206.50 L428.40,206.50 L428.90,206.50 L429.40,206.50 L429.90,206.50 L430.40,206.50 L430.90,206.50 L431.40,206.50 L431.90,206.50 L432.40,206.50 L432.90,206.50 L433.40,206.50 L433.90,206.50 L434.40,206.50 L434.90,206.50 L435.40,206.50 L435.90,206.50 L435.90,206.50 Z" fill="rgba(72,128,42,0.55)" stroke="none"/>
<path d="M308.40,206.50 L308.90,206.50 L309.40,206.50 L309.90,206.50 L310.40,206.50 L310.90,206.50 L311.40,206.50 L311.90,206.50 L312.40,206.50 L312.90,206.50 L313.40,206.50 L313.90,206.50 L314.40,206.50 L314.90,206.50 L315.40,206.50 L315.90,206.50 L316.40,206.50 L316.90,206.50 L317.40,206.50 L317.90,206.50 L318.40,206.50 L318.90,206.50 L319.40,206.50 L319.90,206.50 L320.40,206.50 L320.90,206.50 L321.40,206.50 L321.90,206.49 L322.40,206.49 L322.90,206.48 L323.40,206.46 L323.90,206.44 L324.40,206.40 L324.90,206.35 L325.40,206.28 L325.90,206.18 L326.40,206.03 L326.90,205.84 L327.40,205.58 L327.90,205.25 L328.40,204.82 L328.90,204.30 L329.40,203.66 L329.90,202.90 L330.40,202.00 L330.90,200.93 L331.40,199.62 L331.90,197.93 L332.40,195.67 L332.90,192.63 L333.40,188.70 L333.90,184.03 L334.40,179.17 L334.90,174.99 L335.40,172.44 L335.90,172.20 L336.40,174.32 L336.90,178.25 L337.40,183.05 L337.90,187.81 L338.40,191.91 L338.90,195.13 L339.40,197.53 L339.90,198.16 L340.40,198.53 L340.90,198.89 L341.40,199.26 L341.90,199.63 L342.40,199.87 L342.90,200.09 L343.40,200.31 L343.90,200.52 L344.40,200.74 L344.90,200.96 L345.40,201.05 L345.90,201.12 L346.40,201.18 L346.90,201.24 L347.40,201.31 L347.90,201.37 L348.40,201.44 L348.90,201.50 L349.40,201.57 L349.90,201.63 L350.40,201.69 L350.90,201.76 L351.40,201.82 L351.90,201.89 L352.40,201.94 L352.90,201.99 L353.40,202.04 L353.90,202.09 L354.40,202.14 L354.90,202.19 L355.40,202.24 L355.90,202.29 L356.40,202.34 L356.90,202.39 L357.40,202.44 L357.90,202.49 L358.40,202.54 L358.90,202.59 L359.40,202.64 L359.90,202.69 L360.40,202.74 L360.90,202.80 L361.40,202.85 L361.90,202.91 L362.40,202.96 L362.90,203.02 L363.40,203.07 L363.90,203.13 L364.40,203.18 L364.90,203.24 L365.40,203.29 L365.90,203.35 L366.40,203.40 L366.90,203.46 L367.40,203.51 L367.90,203.57 L368.40,203.62 L368.90,203.68 L369.40,203.73 L369.90,203.79 L370.40,203.86 L370.90,203.94 L371.40,204.02 L371.90,204.10 L372.40,204.18 L372.90,204.26 L373.40,204.34 L373.90,204.42 L374.40,204.50 L374.90,204.58 L375.40,204.66 L375.90,204.74 L376.40,204.82 L376.90,204.90 L377.40,204.98 L377.90,205.06 L378.40,205.14 L378.90,205.22 L379.40,205.30 L379.90,205.38 L380.40,205.43 L380.90,205.47 L381.40,205.51 L381.90,205.55 L382.40,205.59 L382.90,205.63 L383.40,205.67 L383.90,205.71 L384.40,205.75 L384.90,205.79 L385.40,205.83 L385.90,205.87 L386.40,205.91 L386.90,205.95 L387.40,205.99 L387.90,206.03 L388.40,206.07 L388.90,206.11 L389.40,206.15 L389.90,206.19 L390.40,206.22 L390.90,206.25 L391.40,206.27 L391.90,206.29 L392.40,206.32 L392.90,206.34 L393.40,206.37 L393.90,206.40 L394.40,206.42 L394.90,206.44 L395.40,206.47 L395.90,206.50 L396.40,206.50 L396.90,206.50 L397.40,206.50 L397.90,206.50 L398.40,206.50 L398.90,206.50 L399.40,206.50 L399.90,206.50 L400.40,206.50 L400.90,206.50 L401.40,206.50 L401.90,206.50 L402.40,206.50 L402.90,206.50 L403.40,206.50 L403.90,206.50 L404.40,206.50 L404.90,206.50 L405.40,206.50 L405.90,206.50 L406.40,206.50 L406.90,206.50 L407.40,206.50 L407.90,206.50 L408.40,206.50 L408.90,206.50 L409.40,206.50 L409.90,206.50 L410.40,206.50 L410.90,206.50 L411.40,206.50 L411.90,206.50 L412.40,206.50 L412.90,206.50 L413.40,206.50 L413.90,206.50 L414.40,206.50 L414.90,206.50 L415.40,206.50 L415.90,206.50 L416.40,206.50 L416.90,206.50 L417.40,206.50 L417.90,206.50 L418.40,206.50 L418.90,206.50 L419.40,206.50 L419.90,206.50 L420.40,206.50 L420.90,206.50 L421.40,206.50 L421.90,206.50 L422.40,206.50 L422.90,206.50 L423.40,206.50 L423.90,206.50 L424.40,206.50 L424.90,206.50 L425.40,206.50 L425.90,206.50 L426.40,206.50 L426.90,206.50 L427.40,206.50 L427.90,206.50 L428.40,206.50 L428.90,206.50 L429.40,206.50 L429.90,206.50 L430.40,206.50 L430.90,206.50 L431.40,206.50 L431.90,206.50 L432.40,206.50 L432.90,206.50 L433.40,206.50 L433.90,206.50 L434.40,206.50 L434.90,206.50 L435.40,206.50 L435.90,206.50" fill="none" stroke="#4f8a2e" stroke-width="1.05"/>
<path d="M308.40,224.40 L308.40,224.40 L308.90,224.40 L309.40,224.40 L309.90,224.40 L310.40,224.40 L310.90,224.40 L311.40,224.40 L311.90,224.40 L312.40,224.40 L312.90,224.40 L313.40,224.40 L313.90,224.40 L314.40,224.40 L314.90,224.40 L315.40,224.40 L315.90,224.40 L316.40,224.40 L316.90,224.40 L317.40,224.40 L317.90,224.40 L318.40,224.40 L318.90,224.40 L319.40,224.40 L319.90,224.40 L320.40,224.40 L320.90,224.40 L321.40,224.40 L321.90,224.39 L322.40,224.39 L322.90,224.38 L323.40,224.36 L323.90,224.34 L324.40,224.31 L324.90,224.26 L325.40,224.18 L325.90,224.08 L326.40,223.94 L326.90,223.75 L327.40,223.49 L327.90,223.16 L328.40,222.75 L328.90,222.23 L329.40,221.60 L329.90,220.85 L330.40,219.97 L330.90,218.91 L331.40,217.62 L331.90,215.95 L332.40,213.73 L332.90,210.73 L333.40,206.85 L333.90,202.26 L334.40,197.47 L334.90,193.34 L335.40,190.84 L335.90,190.59 L336.40,192.69 L336.90,196.56 L337.40,201.29 L337.90,205.98 L338.40,210.02 L338.90,213.19 L339.40,215.56 L339.90,216.50 L340.40,216.83 L340.90,217.17 L341.40,217.50 L341.90,217.83 L342.40,218.03 L342.90,218.20 L343.40,218.37 L343.90,218.53 L344.40,218.70 L344.90,218.87 L345.40,218.95 L345.90,219.02 L346.40,219.08 L346.90,219.14 L347.40,219.21 L347.90,219.27 L348.40,219.34 L348.90,219.40 L349.40,219.47 L349.90,219.53 L350.40,219.59 L350.90,219.66 L351.40,219.72 L351.90,219.79 L352.40,219.85 L352.90,219.91 L353.40,219.97 L353.90,220.04 L354.40,220.10 L354.90,220.16 L355.40,220.22 L355.90,220.29 L356.40,220.35 L356.90,220.41 L357.40,220.47 L357.90,220.54 L358.40,220.60 L358.90,220.66 L359.40,220.72 L359.90,220.79 L360.40,220.84 L360.90,220.90 L361.40,220.95 L361.90,221.01 L362.40,221.06 L362.90,221.12 L363.40,221.17 L363.90,221.23 L364.40,221.28 L364.90,221.34 L365.40,221.39 L365.90,221.45 L366.40,221.50 L366.90,221.56 L367.40,221.61 L367.90,221.67 L368.40,221.72 L368.90,221.78 L369.40,221.83 L369.90,221.89 L370.40,221.96 L370.90,222.03 L371.40,222.11 L371.90,222.19 L372.40,222.26 L372.90,222.34 L373.40,222.41 L373.90,222.49 L374.40,222.56 L374.90,222.63 L375.40,222.71 L375.90,222.78 L376.40,222.86 L376.90,222.94 L377.40,223.01 L377.90,223.09 L378.40,223.16 L378.90,223.24 L379.40,223.31 L379.90,223.38 L380.40,223.43 L380.90,223.47 L381.40,223.50 L381.90,223.54 L382.40,223.58 L382.90,223.62 L383.40,223.66 L383.90,223.69 L384.40,223.73 L384.90,223.77 L385.40,223.81 L385.90,223.84 L386.40,223.88 L386.90,223.92 L387.40,223.96 L387.90,223.99 L388.40,224.03 L388.90,224.07 L389.40,224.11 L389.90,224.14 L390.40,224.17 L390.90,224.19 L391.40,224.21 L391.90,224.23 L392.40,224.25 L392.90,224.27 L393.40,224.29 L393.90,224.31 L394.40,224.33 L394.90,224.35 L395.40,224.38 L395.90,224.40 L396.40,224.40 L396.90,224.40 L397.40,224.40 L397.90,224.40 L398.40,224.40 L398.90,224.40 L399.40,224.40 L399.90,224.40 L400.40,224.40 L400.90,224.40 L401.40,224.40 L401.90,224.40 L402.40,224.40 L402.90,224.40 L403.40,224.40 L403.90,224.40 L404.40,224.40 L404.90,224.40 L405.40,224.40 L405.90,224.40 L406.40,224.40 L406.90,224.40 L407.40,224.40 L407.90,224.40 L408.40,224.40 L408.90,224.40 L409.40,224.40 L409.90,224.40 L410.40,224.40 L410.90,224.40 L411.40,224.40 L411.90,224.40 L412.40,224.40 L412.90,224.40 L413.40,224.40 L413.90,224.40 L414.40,224.40 L414.90,224.40 L415.40,224.40 L415.90,224.40 L416.40,224.40 L416.90,224.40 L417.40,224.40 L417.90,224.40 L418.40,224.40 L418.90,224.40 L419.40,224.40 L419.90,224.40 L420.40,224.40 L420.90,224.40 L421.40,224.40 L421.90,224.40 L422.40,224.40 L422.90,224.40 L423.40,224.40 L423.90,224.40 L424.40,224.40 L424.90,224.40 L425.40,224.40 L425.90,224.40 L426.40,224.40 L426.90,224.40 L427.40,224.40 L427.90,224.40 L428.40,224.40 L428.90,224.40 L429.40,224.40 L429.90,224.40 L430.40,224.40 L430.90,224.40 L431.40,224.40 L431.90,224.40 L432.40,224.40 L432.90,224.40 L433.40,224.40 L433.90,224.40 L434.40,224.40 L434.90,224.40 L435.40,224.40 L435.90,224.40 L435.90,224.40 Z" fill="rgba(115,240,60,0.45)" stroke="none"/>
<path d="M308.40,224.40 L308.90,224.40 L309.40,224.40 L309.90,224.40 L310.40,224.40 L310.90,224.40 L311.40,224.40 L311.90,224.40 L312.40,224.40 L312.90,224.40 L313.40,224.40 L313.90,224.40 L314.40,224.40 L314.90,224.40 L315.40,224.40 L315.90,224.40 L316.40,224.40 L316.90,224.40 L317.40,224.40 L317.90,224.40 L318.40,224.40 L318.90,224.40 L319.40,224.40 L319.90,224.40 L320.40,224.40 L320.90,224.40 L321.40,224.40 L321.90,224.39 L322.40,224.39 L322.90,224.38 L323.40,224.36 L323.90,224.34 L324.40,224.31 L324.90,224.26 L325.40,224.18 L325.90,224.08 L326.40,223.94 L326.90,223.75 L327.40,223.49 L327.90,223.16 L328.40,222.75 L328.90,222.23 L329.40,221.60 L329.90,220.85 L330.40,219.97 L330.90,218.91 L331.40,217.62 L331.90,215.95 L332.40,213.73 L332.90,210.73 L333.40,206.85 L333.90,202.26 L334.40,197.47 L334.90,193.34 L335.40,190.84 L335.90,190.59 L336.40,192.69 L336.90,196.56 L337.40,201.29 L337.90,205.98 L338.40,210.02 L338.90,213.19 L339.40,215.56 L339.90,216.50 L340.40,216.83 L340.90,217.17 L341.40,217.50 L341.90,217.83 L342.40,218.03 L342.90,218.20 L343.40,218.37 L343.90,218.53 L344.40,218.70 L344.90,218.87 L345.40,218.95 L345.90,219.02 L346.40,219.08 L346.90,219.14 L347.40,219.21 L347.90,219.27 L348.40,219.34 L348.90,219.40 L349.40,219.47 L349.90,219.53 L350.40,219.59 L350.90,219.66 L351.40,219.72 L351.90,219.79 L352.40,219.85 L352.90,219.91 L353.40,219.97 L353.90,220.04 L354.40,220.10 L354.90,220.16 L355.40,220.22 L355.90,220.29 L356.40,220.35 L356.90,220.41 L357.40,220.47 L357.90,220.54 L358.40,220.60 L358.90,220.66 L359.40,220.72 L359.90,220.79 L360.40,220.84 L360.90,220.90 L361.40,220.95 L361.90,221.01 L362.40,221.06 L362.90,221.12 L363.40,221.17 L363.90,221.23 L364.40,221.28 L364.90,221.34 L365.40,221.39 L365.90,221.45 L366.40,221.50 L366.90,221.56 L367.40,221.61 L367.90,221.67 L368.40,221.72 L368.90,221.78 L369.40,221.83 L369.90,221.89 L370.40,221.96 L370.90,222.03 L371.40,222.11 L371.90,222.19 L372.40,222.26 L372.90,222.34 L373.40,222.41 L373.90,222.49 L374.40,222.56 L374.90,222.63 L375.40,222.71 L375.90,222.78 L376.40,222.86 L376.90,222.94 L377.40,223.01 L377.90,223.09 L378.40,223.16 L378.90,223.24 L379.40,223.31 L379.90,223.38 L380.40,223.43 L380.90,223.47 L381.40,223.50 L381.90,223.54 L382.40,223.58 L382.90,223.62 L383.40,223.66 L383.90,223.69 L384.40,223.73 L384.90,223.77 L385.40,223.81 L385.90,223.84 L386.40,223.88 L386.90,223.92 L387.40,223.96 L387.90,223.99 L388.40,224.03 L388.90,224.07 L389.40,224.11 L389.90,224.14 L390.40,224.17 L390.90,224.19 L391.40,224.21 L391.90,224.23 L392.40,224.25 L392.90,224.27 L393.40,224.29 L393.90,224.31 L394.40,224.33 L394.90,224.35 L395.40,224.38 L395.90,224.40 L396.40,224.40 L396.90,224.40 L397.40,224.40 L397.90,224.40 L398.40,224.40 L398.90,224.40 L399.40,224.40 L399.90,224.40 L400.40,224.40 L400.90,224.40 L401.40,224.40 L401.90,224.40 L402.40,224.40 L402.90,224.40 L403.40,224.40 L403.90,224.40 L404.40,224.40 L404.90,224.40 L405.40,224.40 L405.90,224.40 L406.40,224.40 L406.90,224.40 L407.40,224.40 L407.90,224.40 L408.40,224.40 L408.90,224.40 L409.40,224.40 L409.90,224.40 L410.40,224.40 L410.90,224.40 L411.40,224.40 L411.90,224.40 L412.40,224.40 L412.90,224.40 L413.40,224.40 L413.90,224.40 L414.40,224.40 L414.90,224.40 L415.40,224.40 L415.90,224.40 L416.40,224.40 L416.90,224.40 L417.40,224.40 L417.90,224.40 L418.40,224.40 L418.90,224.40 L419.40,224.40 L419.90,224.40 L420.40,224.40 L420.90,224.40 L421.40,224.40 L421.90,224.40 L422.40,224.40 L422.90,224.40 L423.40,224.40 L423.90,224.40 L424.40,224.40 L424.90,224.40 L425.40,224.40 L425.90,224.40 L426.40,224.40 L426.90,224.40 L427.40,224.40 L427.90,224.40 L428.40,224.40 L428.90,224.40 L429.40,224.40 L429.90,224.40 L430.40,224.40 L430.90,224.40 L431.40,224.40 L431.90,224.40 L432.40,224.40 L432.90,224.40 L433.40,224.40 L433.90,224.40 L434.40,224.40 L434.90,224.40 L435.40,224.40 L435.90,224.40" fill="none" stroke="#7ef04a" stroke-width="1.05"/>
<path d="M308.40,242.10 L308.40,242.10 L308.90,242.10 L309.40,242.10 L309.90,242.10 L310.40,242.10 L310.90,242.10 L311.40,242.10 L311.90,242.10 L312.40,242.10 L312.90,242.10 L313.40,242.10 L313.90,242.10 L314.40,242.10 L314.90,242.10 L315.40,242.10 L315.90,242.10 L316.40,242.10 L316.90,242.10 L317.40,242.10 L317.90,242.10 L318.40,242.10 L318.90,242.10 L319.40,242.10 L319.90,242.10 L320.40,242.10 L320.90,242.10 L321.40,242.10 L321.90,242.09 L322.40,242.09 L322.90,242.08 L323.40,242.06 L323.90,242.04 L324.40,242.01 L324.90,241.96 L325.40,241.88 L325.90,241.78 L326.40,241.64 L326.90,241.45 L327.40,241.19 L327.90,240.86 L328.40,240.45 L328.90,239.93 L329.40,239.30 L329.90,238.55 L330.40,237.67 L330.90,236.61 L331.40,235.32 L331.90,233.65 L332.40,231.43 L332.90,228.43 L333.40,224.55 L333.90,219.96 L334.40,215.17 L334.90,211.04 L335.40,208.54 L335.90,208.29 L336.40,210.39 L336.90,214.26 L337.40,218.99 L337.90,223.68 L338.40,227.72 L338.90,230.89 L339.40,233.26 L339.90,235.02 L340.40,236.03 L340.90,236.37 L341.40,236.70 L341.90,237.03 L342.40,237.23 L342.90,237.40 L343.40,237.57 L343.90,237.73 L344.40,237.90 L344.90,238.07 L345.40,238.16 L345.90,238.23 L346.40,238.30 L346.90,238.37 L347.40,238.44 L347.90,238.51 L348.40,238.59 L348.90,238.66 L349.40,238.73 L349.90,238.80 L350.40,238.87 L350.90,238.94 L351.40,239.01 L351.90,239.09 L352.40,239.14 L352.90,239.20 L353.40,239.26 L353.90,239.31 L354.40,239.37 L354.90,239.43 L355.40,239.48 L355.90,239.54 L356.40,239.59 L356.90,239.65 L357.40,239.71 L357.90,239.76 L358.40,239.82 L358.90,239.88 L359.40,239.93 L359.90,239.99 L360.40,240.04 L360.90,240.08 L361.40,240.13 L361.90,240.17 L362.40,240.22 L362.90,240.26 L363.40,240.31 L363.90,240.35 L364.40,240.40 L364.90,240.44 L365.40,240.49 L365.90,240.53 L366.40,240.58 L366.90,240.62 L367.40,240.67 L367.90,240.71 L368.40,240.76 L368.90,240.80 L369.40,240.85 L369.90,240.89 L370.40,240.93 L370.90,240.96 L371.40,241.00 L371.90,241.03 L372.40,241.07 L372.90,241.10 L373.40,241.14 L373.90,241.17 L374.40,241.21 L374.90,241.24 L375.40,241.28 L375.90,241.31 L376.40,241.35 L376.90,241.38 L377.40,241.42 L377.90,241.45 L378.40,241.49 L378.90,241.52 L379.40,241.56 L379.90,241.59 L380.40,241.62 L380.90,241.64 L381.40,241.66 L381.90,241.68 L382.40,241.70 L382.90,241.72 L383.40,241.74 L383.90,241.76 L384.40,241.78 L384.90,241.80 L385.40,241.82 L385.90,241.84 L386.40,241.86 L386.90,241.88 L387.40,241.90 L387.90,241.92 L388.40,241.94 L388.90,241.96 L389.40,241.98 L389.90,242.00 L390.40,242.01 L390.90,242.01 L391.40,242.02 L391.90,242.03 L392.40,242.04 L392.90,242.05 L393.40,242.06 L393.90,242.06 L394.40,242.07 L394.90,242.08 L395.40,242.09 L395.90,242.10 L396.40,242.10 L396.90,242.10 L397.40,242.10 L397.90,242.10 L398.40,242.10 L398.90,242.10 L399.40,242.10 L399.90,242.10 L400.40,242.10 L400.90,242.10 L401.40,242.10 L401.90,242.10 L402.40,242.10 L402.90,242.10 L403.40,242.10 L403.90,242.10 L404.40,242.10 L404.90,242.10 L405.40,242.10 L405.90,242.10 L406.40,242.10 L406.90,242.10 L407.40,242.10 L407.90,242.10 L408.40,242.10 L408.90,242.10 L409.40,242.10 L409.90,242.10 L410.40,242.10 L410.90,242.10 L411.40,242.10 L411.90,242.10 L412.40,242.10 L412.90,242.10 L413.40,242.10 L413.90,242.10 L414.40,242.10 L414.90,242.10 L415.40,242.10 L415.90,242.10 L416.40,242.10 L416.90,242.10 L417.40,242.10 L417.90,242.10 L418.40,242.10 L418.90,242.10 L419.40,242.10 L419.90,242.10 L420.40,242.10 L420.90,242.10 L421.40,242.10 L421.90,242.10 L422.40,242.10 L422.90,242.10 L423.40,242.10 L423.90,242.10 L424.40,242.10 L424.90,242.10 L425.40,242.10 L425.90,242.10 L426.40,242.10 L426.90,242.10 L427.40,242.10 L427.90,242.10 L428.40,242.10 L428.90,242.10 L429.40,242.10 L429.90,242.10 L430.40,242.10 L430.90,242.10 L431.40,242.10 L431.90,242.10 L432.40,242.10 L432.90,242.10 L433.40,242.10 L433.90,242.10 L434.40,242.10 L434.90,242.10 L435.40,242.10 L435.90,242.10 L435.90,242.10 Z" fill="rgba(240,165,85,0.40)" stroke="none"/>
<path d="M308.40,242.10 L308.90,242.10 L309.40,242.10 L309.90,242.10 L310.40,242.10 L310.90,242.10 L311.40,242.10 L311.90,242.10 L312.40,242.10 L312.90,242.10 L313.40,242.10 L313.90,242.10 L314.40,242.10 L314.90,242.10 L315.40,242.10 L315.90,242.10 L316.40,242.10 L316.90,242.10 L317.40,242.10 L317.90,242.10 L318.40,242.10 L318.90,242.10 L319.40,242.10 L319.90,242.10 L320.40,242.10 L320.90,242.10 L321.40,242.10 L321.90,242.09 L322.40,242.09 L322.90,242.08 L323.40,242.06 L323.90,242.04 L324.40,242.01 L324.90,241.96 L325.40,241.88 L325.90,241.78 L326.40,241.64 L326.90,241.45 L327.40,241.19 L327.90,240.86 L328.40,240.45 L328.90,239.93 L329.40,239.30 L329.90,238.55 L330.40,237.67 L330.90,236.61 L331.40,235.32 L331.90,233.65 L332.40,231.43 L332.90,228.43 L333.40,224.55 L333.90,219.96 L334.40,215.17 L334.90,211.04 L335.40,208.54 L335.90,208.29 L336.40,210.39 L336.90,214.26 L337.40,218.99 L337.90,223.68 L338.40,227.72 L338.90,230.89 L339.40,233.26 L339.90,235.02 L340.40,236.03 L340.90,236.37 L341.40,236.70 L341.90,237.03 L342.40,237.23 L342.90,237.40 L343.40,237.57 L343.90,237.73 L344.40,237.90 L344.90,238.07 L345.40,238.16 L345.90,238.23 L346.40,238.30 L346.90,238.37 L347.40,238.44 L347.90,238.51 L348.40,238.59 L348.90,238.66 L349.40,238.73 L349.90,238.80 L350.40,238.87 L350.90,238.94 L351.40,239.01 L351.90,239.09 L352.40,239.14 L352.90,239.20 L353.40,239.26 L353.90,239.31 L354.40,239.37 L354.90,239.43 L355.40,239.48 L355.90,239.54 L356.40,239.59 L356.90,239.65 L357.40,239.71 L357.90,239.76 L358.40,239.82 L358.90,239.88 L359.40,239.93 L359.90,239.99 L360.40,240.04 L360.90,240.08 L361.40,240.13 L361.90,240.17 L362.40,240.22 L362.90,240.26 L363.40,240.31 L363.90,240.35 L364.40,240.40 L364.90,240.44 L365.40,240.49 L365.90,240.53 L366.40,240.58 L366.90,240.62 L367.40,240.67 L367.90,240.71 L368.40,240.76 L368.90,240.80 L369.40,240.85 L369.90,240.89 L370.40,240.93 L370.90,240.96 L371.40,241.00 L371.90,241.03 L372.40,241.07 L372.90,241.10 L373.40,241.14 L373.90,241.17 L374.40,241.21 L374.90,241.24 L375.40,241.28 L375.90,241.31 L376.40,241.35 L376.90,241.38 L377.40,241.42 L377.90,241.45 L378.40,241.49 L378.90,241.52 L379.40,241.56 L379.90,241.59 L380.40,241.62 L380.90,241.64 L381.40,241.66 L381.90,241.68 L382.40,241.70 L382.90,241.72 L383.40,241.74 L383.90,241.76 L384.40,241.78 L384.90,241.80 L385.40,241.82 L385.90,241.84 L386.40,241.86 L386.90,241.88 L387.40,241.90 L387.90,241.92 L388.40,241.94 L388.90,241.96 L389.40,241.98 L389.90,242.00 L390.40,242.01 L390.90,242.01 L391.40,242.02 L391.90,242.03 L392.40,242.04 L392.90,242.05 L393.40,242.06 L393.90,242.06 L394.40,242.07 L394.90,242.08 L395.40,242.09 L395.90,242.10 L396.40,242.10 L396.90,242.10 L397.40,242.10 L397.90,242.10 L398.40,242.10 L398.90,242.10 L399.40,242.10 L399.90,242.10 L400.40,242.10 L400.90,242.10 L401.40,242.10 L401.90,242.10 L402.40,242.10 L402.90,242.10 L403.40,242.10 L403.90,242.10 L404.40,242.10 L404.90,242.10 L405.40,242.10 L405.90,242.10 L406.40,242.10 L406.90,242.10 L407.40,242.10 L407.90,242.10 L408.40,242.10 L408.90,242.10 L409.40,242.10 L409.90,242.10 L410.40,242.10 L410.90,242.10 L411.40,242.10 L411.90,242.10 L412.40,242.10 L412.90,242.10 L413.40,242.10 L413.90,242.10 L414.40,242.10 L414.90,242.10 L415.40,242.10 L415.90,242.10 L416.40,242.10 L416.90,242.10 L417.40,242.10 L417.90,242.10 L418.40,242.10 L418.90,242.10 L419.40,242.10 L419.90,242.10 L420.40,242.10 L420.90,242.10 L421.40,242.10 L421.90,242.10 L422.40,242.10 L422.90,242.10 L423.40,242.10 L423.90,242.10 L424.40,242.10 L424.90,242.10 L425.40,242.10 L425.90,242.10 L426.40,242.10 L426.90,242.10 L427.40,242.10 L427.90,242.10 L428.40,242.10 L428.90,242.10 L429.40,242.10 L429.90,242.10 L430.40,242.10 L430.90,242.10 L431.40,242.10 L431.90,242.10 L432.40,242.10 L432.90,242.10 L433.40,242.10 L433.90,242.10 L434.40,242.10 L434.90,242.10 L435.40,242.10 L435.90,242.10" fill="none" stroke="#eda054" stroke-width="1.05"/>
<path d="M308.40,260.10 L308.40,260.10 L308.90,260.10 L309.40,260.10 L309.90,260.10 L310.40,260.10 L310.90,260.10 L311.40,260.10 L311.90,260.10 L312.40,260.10 L312.90,260.10 L313.40,260.10 L313.90,260.10 L314.40,260.10 L314.90,260.10 L315.40,260.10 L315.90,260.10 L316.40,260.10 L316.90,260.10 L317.40,260.10 L317.90,260.10 L318.40,260.10 L318.90,260.10 L319.40,260.10 L319.90,260.10 L320.40,260.10 L320.90,260.10 L321.40,260.10 L321.90,260.09 L322.40,260.09 L322.90,260.08 L323.40,260.06 L323.90,260.04 L324.40,260.01 L324.90,259.96 L325.40,259.88 L325.90,259.78 L326.40,259.64 L326.90,259.44 L327.40,259.19 L327.90,258.86 L328.40,258.44 L328.90,257.92 L329.40,257.28 L329.90,256.53 L330.40,255.64 L330.90,254.58 L331.40,253.28 L331.90,251.60 L332.40,249.36 L332.90,246.35 L333.40,242.45 L333.90,237.83 L334.40,233.01 L334.90,228.86 L335.40,226.34 L335.90,226.10 L336.40,228.20 L336.90,232.09 L337.40,236.86 L337.90,241.57 L338.40,245.64 L338.90,248.83 L339.40,251.21 L339.90,252.98 L340.40,254.34 L340.90,254.80 L341.40,255.12 L341.90,255.44 L342.40,255.65 L342.90,255.83 L343.40,256.01 L343.90,256.20 L344.40,256.38 L344.90,256.56 L345.40,256.66 L345.90,256.73 L346.40,256.80 L346.90,256.87 L347.40,256.94 L347.90,257.01 L348.40,257.09 L348.90,257.16 L349.40,257.23 L349.90,257.30 L350.40,257.37 L350.90,257.44 L351.40,257.51 L351.90,257.59 L352.40,257.64 L352.90,257.68 L353.40,257.72 L353.90,257.77 L354.40,257.81 L354.90,257.85 L355.40,257.90 L355.90,257.94 L356.40,257.99 L356.90,258.03 L357.40,258.07 L357.90,258.12 L358.40,258.16 L358.90,258.20 L359.40,258.25 L359.90,258.29 L360.40,258.33 L360.90,258.37 L361.40,258.41 L361.90,258.45 L362.40,258.49 L362.90,258.53 L363.40,258.57 L363.90,258.61 L364.40,258.65 L364.90,258.69 L365.40,258.73 L365.90,258.77 L366.40,258.81 L366.90,258.85 L367.40,258.89 L367.90,258.93 L368.40,258.97 L368.90,259.01 L369.40,259.05 L369.90,259.09 L370.40,259.12 L370.90,259.15 L371.40,259.18 L371.90,259.21 L372.40,259.24 L372.90,259.27 L373.40,259.30 L373.90,259.33 L374.40,259.36 L374.90,259.39 L375.40,259.42 L375.90,259.45 L376.40,259.48 L376.90,259.51 L377.40,259.54 L377.90,259.57 L378.40,259.60 L378.90,259.63 L379.40,259.66 L379.90,259.69 L380.40,259.71 L380.90,259.73 L381.40,259.74 L381.90,259.76 L382.40,259.77 L382.90,259.79 L383.40,259.80 L383.90,259.82 L384.40,259.83 L384.90,259.85 L385.40,259.86 L385.90,259.88 L386.40,259.89 L386.90,259.91 L387.40,259.92 L387.90,259.94 L388.40,259.95 L388.90,259.97 L389.40,259.98 L389.90,260.00 L390.40,260.01 L390.90,260.02 L391.40,260.02 L391.90,260.03 L392.40,260.04 L392.90,260.05 L393.40,260.06 L393.90,260.06 L394.40,260.07 L394.90,260.08 L395.40,260.09 L395.90,260.10 L396.40,260.10 L396.90,260.10 L397.40,260.10 L397.90,260.10 L398.40,260.10 L398.90,260.10 L399.40,260.10 L399.90,260.10 L400.40,260.10 L400.90,260.10 L401.40,260.10 L401.90,260.10 L402.40,260.10 L402.90,260.10 L403.40,260.10 L403.90,260.10 L404.40,260.10 L404.90,260.10 L405.40,260.10 L405.90,260.10 L406.40,260.10 L406.90,260.10 L407.40,260.10 L407.90,260.10 L408.40,260.10 L408.90,260.10 L409.40,260.10 L409.90,260.10 L410.40,260.10 L410.90,260.10 L411.40,260.10 L411.90,260.10 L412.40,260.10 L412.90,260.10 L413.40,260.10 L413.90,260.10 L414.40,260.10 L414.90,260.10 L415.40,260.10 L415.90,260.10 L416.40,260.10 L416.90,260.10 L417.40,260.10 L417.90,260.10 L418.40,260.10 L418.90,260.10 L419.40,260.10 L419.90,260.10 L420.40,260.10 L420.90,260.10 L421.40,260.10 L421.90,260.10 L422.40,260.10 L422.90,260.10 L423.40,260.10 L423.90,260.10 L424.40,260.10 L424.90,260.10 L425.40,260.10 L425.90,260.10 L426.40,260.10 L426.90,260.10 L427.40,260.10 L427.90,260.10 L428.40,260.10 L428.90,260.10 L429.40,260.10 L429.90,260.10 L430.40,260.10 L430.90,260.10 L431.40,260.10 L431.90,260.10 L432.40,260.10 L432.90,260.10 L433.40,260.10 L433.90,260.10 L434.40,260.10 L434.90,260.10 L435.40,260.10 L435.90,260.10 L435.90,260.10 Z" fill="rgba(90,225,245,0.48)" stroke="none"/>
<path d="M308.40,260.10 L308.90,260.10 L309.40,260.10 L309.90,260.10 L310.40,260.10 L310.90,260.10 L311.40,260.10 L311.90,260.10 L312.40,260.10 L312.90,260.10 L313.40,260.10 L313.90,260.10 L314.40,260.10 L314.90,260.10 L315.40,260.10 L315.90,260.10 L316.40,260.10 L316.90,260.10 L317.40,260.10 L317.90,260.10 L318.40,260.10 L318.90,260.10 L319.40,260.10 L319.90,260.10 L320.40,260.10 L320.90,260.10 L321.40,260.10 L321.90,260.09 L322.40,260.09 L322.90,260.08 L323.40,260.06 L323.90,260.04 L324.40,260.01 L324.90,259.96 L325.40,259.88 L325.90,259.78 L326.40,259.64 L326.90,259.44 L327.40,259.19 L327.90,258.86 L328.40,258.44 L328.90,257.92 L329.40,257.28 L329.90,256.53 L330.40,255.64 L330.90,254.58 L331.40,253.28 L331.90,251.60 L332.40,249.36 L332.90,246.35 L333.40,242.45 L333.90,237.83 L334.40,233.01 L334.90,228.86 L335.40,226.34 L335.90,226.10 L336.40,228.20 L336.90,232.09 L337.40,236.86 L337.90,241.57 L338.40,245.64 L338.90,248.83 L339.40,251.21 L339.90,252.98 L340.40,254.34 L340.90,254.80 L341.40,255.12 L341.90,255.44 L342.40,255.65 L342.90,255.83 L343.40,256.01 L343.90,256.20 L344.40,256.38 L344.90,256.56 L345.40,256.66 L345.90,256.73 L346.40,256.80 L346.90,256.87 L347.40,256.94 L347.90,257.01 L348.40,257.09 L348.90,257.16 L349.40,257.23 L349.90,257.30 L350.40,257.37 L350.90,257.44 L351.40,257.51 L351.90,257.59 L352.40,257.64 L352.90,257.68 L353.40,257.72 L353.90,257.77 L354.40,257.81 L354.90,257.85 L355.40,257.90 L355.90,257.94 L356.40,257.99 L356.90,258.03 L357.40,258.07 L357.90,258.12 L358.40,258.16 L358.90,258.20 L359.40,258.25 L359.90,258.29 L360.40,258.33 L360.90,258.37 L361.40,258.41 L361.90,258.45 L362.40,258.49 L362.90,258.53 L363.40,258.57 L363.90,258.61 L364.40,258.65 L364.90,258.69 L365.40,258.73 L365.90,258.77 L366.40,258.81 L366.90,258.85 L367.40,258.89 L367.90,258.93 L368.40,258.97 L368.90,259.01 L369.40,259.05 L369.90,259.09 L370.40,259.12 L370.90,259.15 L371.40,259.18 L371.90,259.21 L372.40,259.24 L372.90,259.27 L373.40,259.30 L373.90,259.33 L374.40,259.36 L374.90,259.39 L375.40,259.42 L375.90,259.45 L376.40,259.48 L376.90,259.51 L377.40,259.54 L377.90,259.57 L378.40,259.60 L378.90,259.63 L379.40,259.66 L379.90,259.69 L380.40,259.71 L380.90,259.73 L381.40,259.74 L381.90,259.76 L382.40,259.77 L382.90,259.79 L383.40,259.80 L383.90,259.82 L384.40,259.83 L384.90,259.85 L385.40,259.86 L385.90,259.88 L386.40,259.89 L386.90,259.91 L387.40,259.92 L387.90,259.94 L388.40,259.95 L388.90,259.97 L389.40,259.98 L389.90,260.00 L390.40,260.01 L390.90,260.02 L391.40,260.02 L391.90,260.03 L392.40,260.04 L392.90,260.05 L393.40,260.06 L393.90,260.06 L394.40,260.07 L394.90,260.08 L395.40,260.09 L395.90,260.10 L396.40,260.10 L396.90,260.10 L397.40,260.10 L397.90,260.10 L398.40,260.10 L398.90,260.10 L399.40,260.10 L399.90,260.10 L400.40,260.10 L400.90,260.10 L401.40,260.10 L401.90,260.10 L402.40,260.10 L402.90,260.10 L403.40,260.10 L403.90,260.10 L404.40,260.10 L404.90,260.10 L405.40,260.10 L405.90,260.10 L406.40,260.10 L406.90,260.10 L407.40,260.10 L407.90,260.10 L408.40,260.10 L408.90,260.10 L409.40,260.10 L409.90,260.10 L410.40,260.10 L410.90,260.10 L411.40,260.10 L411.90,260.10 L412.40,260.10 L412.90,260.10 L413.40,260.10 L413.90,260.10 L414.40,260.10 L414.90,260.10 L415.40,260.10 L415.90,260.10 L416.40,260.10 L416.90,260.10 L417.40,260.10 L417.90,260.10 L418.40,260.10 L418.90,260.10 L419.40,260.10 L419.90,260.10 L420.40,260.10 L420.90,260.10 L421.40,260.10 L421.90,260.10 L422.40,260.10 L422.90,260.10 L423.40,260.10 L423.90,260.10 L424.40,260.10 L424.90,260.10 L425.40,260.10 L425.90,260.10 L426.40,260.10 L426.90,260.10 L427.40,260.10 L427.90,260.10 L428.40,260.10 L428.90,260.10 L429.40,260.10 L429.90,260.10 L430.40,260.10 L430.90,260.10 L431.40,260.10 L431.90,260.10 L432.40,260.10 L432.90,260.10 L433.40,260.10 L433.90,260.10 L434.40,260.10 L434.90,260.10 L435.40,260.10 L435.90,260.10" fill="none" stroke="#66e3f2" stroke-width="1.05"/>
<path d="M308.40,277.60 L308.40,277.60 L308.90,277.60 L309.40,277.60 L309.90,277.60 L310.40,277.60 L310.90,277.60 L311.40,277.60 L311.90,277.60 L312.40,277.60 L312.90,277.60 L313.40,277.60 L313.90,277.60 L314.40,277.60 L314.90,277.60 L315.40,277.60 L315.90,277.60 L316.40,277.60 L316.90,277.60 L317.40,277.60 L317.90,277.60 L318.40,277.60 L318.90,277.60 L319.40,277.60 L319.90,277.60 L320.40,277.60 L320.90,277.60 L321.40,277.60 L321.90,277.59 L322.40,277.59 L322.90,277.58 L323.40,277.56 L323.90,277.54 L324.40,277.51 L324.90,277.46 L325.40,277.40 L325.90,277.30 L326.40,277.17 L326.90,276.98 L327.40,276.74 L327.90,276.43 L328.40,276.03 L328.90,275.54 L329.40,274.95 L329.90,274.24 L330.40,273.40 L330.90,272.40 L331.40,271.18 L331.90,269.60 L332.40,267.49 L332.90,264.65 L333.40,260.98 L333.90,256.63 L334.40,252.09 L334.90,248.19 L335.40,245.81 L335.90,245.58 L336.40,247.56 L336.90,251.23 L337.40,255.71 L337.90,260.16 L338.40,263.99 L338.90,266.99 L339.40,269.23 L339.90,270.90 L340.40,272.18 L340.90,273.22 L341.40,274.08 L341.90,274.82 L342.40,275.43 L342.90,275.94 L343.40,276.36 L343.90,276.61 L344.40,276.74 L344.90,276.87 L345.40,276.92 L345.90,276.95 L346.40,276.98 L346.90,277.01 L347.40,277.04 L347.90,277.07 L348.40,277.09 L348.90,277.12 L349.40,277.15 L349.90,277.18 L350.40,277.21 L350.90,277.24 L351.40,277.27 L351.90,277.29 L352.40,277.31 L352.90,277.32 L353.40,277.34 L353.90,277.35 L354.40,277.36 L354.90,277.37 L355.40,277.39 L355.90,277.40 L356.40,277.41 L356.90,277.42 L357.40,277.44 L357.90,277.45 L358.40,277.46 L358.90,277.47 L359.40,277.49 L359.90,277.50 L360.40,277.50 L360.90,277.51 L361.40,277.51 L361.90,277.52 L362.40,277.52 L362.90,277.53 L363.40,277.53 L363.90,277.54 L364.40,277.54 L364.90,277.55 L365.40,277.55 L365.90,277.56 L366.40,277.56 L366.90,277.57 L367.40,277.57 L367.90,277.58 L368.40,277.58 L368.90,277.59 L369.40,277.59 L369.90,277.60 L370.40,277.60 L370.90,277.60 L371.40,277.60 L371.90,277.60 L372.40,277.60 L372.90,277.60 L373.40,277.60 L373.90,277.60 L374.40,277.60 L374.90,277.60 L375.40,277.60 L375.90,277.60 L376.40,277.60 L376.90,277.60 L377.40,277.60 L377.90,277.60 L378.40,277.60 L378.90,277.60 L379.40,277.60 L379.90,277.60 L380.40,277.60 L380.90,277.60 L381.40,277.60 L381.90,277.60 L382.40,277.60 L382.90,277.60 L383.40,277.60 L383.90,277.60 L384.40,277.60 L384.90,277.60 L385.40,277.60 L385.90,277.60 L386.40,277.60 L386.90,277.60 L387.40,277.60 L387.90,277.60 L388.40,277.60 L388.90,277.60 L389.40,277.60 L389.90,277.60 L390.40,277.60 L390.90,277.60 L391.40,277.60 L391.90,277.60 L392.40,277.60 L392.90,277.60 L393.40,277.60 L393.90,277.60 L394.40,277.60 L394.90,277.60 L395.40,277.60 L395.90,277.60 L396.40,277.60 L396.90,277.60 L397.40,277.60 L397.90,277.60 L398.40,277.60 L398.90,277.60 L399.40,277.60 L399.90,277.60 L400.40,277.60 L400.90,277.60 L401.40,277.60 L401.90,277.60 L402.40,277.60 L402.90,277.60 L403.40,277.60 L403.90,277.60 L404.40,277.60 L404.90,277.60 L405.40,277.60 L405.90,277.60 L406.40,277.60 L406.90,277.60 L407.40,277.60 L407.90,277.60 L408.40,277.60 L408.90,277.60 L409.40,277.60 L409.90,277.60 L410.40,277.60 L410.90,277.60 L411.40,277.60 L411.90,277.60 L412.40,277.60 L412.90,277.60 L413.40,277.60 L413.90,277.60 L414.40,277.60 L414.90,277.60 L415.40,277.60 L415.90,277.60 L416.40,277.60 L416.90,277.60 L417.40,277.60 L417.90,277.60 L418.40,277.60 L418.90,277.60 L419.40,277.60 L419.90,277.60 L420.40,277.60 L420.90,277.60 L421.40,277.60 L421.90,277.60 L422.40,277.60 L422.90,277.60 L423.40,277.60 L423.90,277.60 L424.40,277.60 L424.90,277.60 L425.40,277.60 L425.90,277.60 L426.40,277.60 L426.90,277.60 L427.40,277.60 L427.90,277.60 L428.40,277.60 L428.90,277.60 L429.40,277.60 L429.90,277.60 L430.40,277.60 L430.90,277.60 L431.40,277.60 L431.90,277.60 L432.40,277.60 L432.90,277.60 L433.40,277.60 L433.90,277.60 L434.40,277.60 L434.90,277.60 L435.40,277.60 L435.90,277.60 L435.90,277.60 Z" fill="rgba(236,95,105,0.50)" stroke="none"/>
<path d="M308.40,277.60 L308.90,277.60 L309.40,277.60 L309.90,277.60 L310.40,277.60 L310.90,277.60 L311.40,277.60 L311.90,277.60 L312.40,277.60 L312.90,277.60 L313.40,277.60 L313.90,277.60 L314.40,277.60 L314.90,277.60 L315.40,277.60 L315.90,277.60 L316.40,277.60 L316.90,277.60 L317.40,277.60 L317.90,277.60 L318.40,277.60 L318.90,277.60 L319.40,277.60 L319.90,277.60 L320.40,277.60 L320.90,277.60 L321.40,277.60 L321.90,277.59 L322.40,277.59 L322.90,277.58 L323.40,277.56 L323.90,277.54 L324.40,277.51 L324.90,277.46 L325.40,277.40 L325.90,277.30 L326.40,277.17 L326.90,276.98 L327.40,276.74 L327.90,276.43 L328.40,276.03 L328.90,275.54 L329.40,274.95 L329.90,274.24 L330.40,273.40 L330.90,272.40 L331.40,271.18 L331.90,269.60 L332.40,267.49 L332.90,264.65 L333.40,260.98 L333.90,256.63 L334.40,252.09 L334.90,248.19 L335.40,245.81 L335.90,245.58 L336.40,247.56 L336.90,251.23 L337.40,255.71 L337.90,260.16 L338.40,263.99 L338.90,266.99 L339.40,269.23 L339.90,270.90 L340.40,272.18 L340.90,273.22 L341.40,274.08 L341.90,274.82 L342.40,275.43 L342.90,275.94 L343.40,276.36 L343.90,276.61 L344.40,276.74 L344.90,276.87 L345.40,276.92 L345.90,276.95 L346.40,276.98 L346.90,277.01 L347.40,277.04 L347.90,277.07 L348.40,277.09 L348.90,277.12 L349.40,277.15 L349.90,277.18 L350.40,277.21 L350.90,277.24 L351.40,277.27 L351.90,277.29 L352.40,277.31 L352.90,277.32 L353.40,277.34 L353.90,277.35 L354.40,277.36 L354.90,277.37 L355.40,277.39 L355.90,277.40 L356.40,277.41 L356.90,277.42 L357.40,277.44 L357.90,277.45 L358.40,277.46 L358.90,277.47 L359.40,277.49 L359.90,277.50 L360.40,277.50 L360.90,277.51 L361.40,277.51 L361.90,277.52 L362.40,277.52 L362.90,277.53 L363.40,277.53 L363.90,277.54 L364.40,277.54 L364.90,277.55 L365.40,277.55 L365.90,277.56 L366.40,277.56 L366.90,277.57 L367.40,277.57 L367.90,277.58 L368.40,277.58 L368.90,277.59 L369.40,277.59 L369.90,277.60 L370.40,277.60 L370.90,277.60 L371.40,277.60 L371.90,277.60 L372.40,277.60 L372.90,277.60 L373.40,277.60 L373.90,277.60 L374.40,277.60 L374.90,277.60 L375.40,277.60 L375.90,277.60 L376.40,277.60 L376.90,277.60 L377.40,277.60 L377.90,277.60 L378.40,277.60 L378.90,277.60 L379.40,277.60 L379.90,277.60 L380.40,277.60 L380.90,277.60 L381.40,277.60 L381.90,277.60 L382.40,277.60 L382.90,277.60 L383.40,277.60 L383.90,277.60 L384.40,277.60 L384.90,277.60 L385.40,277.60 L385.90,277.60 L386.40,277.60 L386.90,277.60 L387.40,277.60 L387.90,277.60 L388.40,277.60 L388.90,277.60 L389.40,277.60 L389.90,277.60 L390.40,277.60 L390.90,277.60 L391.40,277.60 L391.90,277.60 L392.40,277.60 L392.90,277.60 L393.40,277.60 L393.90,277.60 L394.40,277.60 L394.90,277.60 L395.40,277.60 L395.90,277.60 L396.40,277.60 L396.90,277.60 L397.40,277.60 L397.90,277.60 L398.40,277.60 L398.90,277.60 L399.40,277.60 L399.90,277.60 L400.40,277.60 L400.90,277.60 L401.40,277.60 L401.90,277.60 L402.40,277.60 L402.90,277.60 L403.40,277.60 L403.90,277.60 L404.40,277.60 L404.90,277.60 L405.40,277.60 L405.90,277.60 L406.40,277.60 L406.90,277.60 L407.40,277.60 L407.90,277.60 L408.40,277.60 L408.90,277.60 L409.40,277.60 L409.90,277.60 L410.40,277.60 L410.90,277.60 L411.40,277.60 L411.90,277.60 L412.40,277.60 L412.90,277.60 L413.40,277.60 L413.90,277.60 L414.40,277.60 L414.90,277.60 L415.40,277.60 L415.90,277.60 L416.40,277.60 L416.90,277.60 L417.40,277.60 L417.90,277.60 L418.40,277.60 L418.90,277.60 L419.40,277.60 L419.90,277.60 L420.40,277.60 L420.90,277.60 L421.40,277.60 L421.90,277.60 L422.40,277.60 L422.90,277.60 L423.40,277.60 L423.90,277.60 L424.40,277.60 L424.90,277.60 L425.40,277.60 L425.90,277.60 L426.40,277.60 L426.90,277.60 L427.40,277.60 L427.90,277.60 L428.40,277.60 L428.90,277.60 L429.40,277.60 L429.90,277.60 L430.40,277.60 L430.90,277.60 L431.40,277.60 L431.90,277.60 L432.40,277.60 L432.90,277.60 L433.40,277.60 L433.90,277.60 L434.40,277.60 L434.90,277.60 L435.40,277.60 L435.90,277.60" fill="none" stroke="#ec5d64" stroke-width="1.05"/>
<text x="405.59" y="160.90" font-size="7.6" fill="#222" stroke="#222" stroke-width="0.15" textLength="26.51" lengthAdjust="spacingAndGlyphs">100 nM</text>
<text x="410.01" y="201.40" font-size="7.6" fill="#222" stroke="#222" stroke-width="0.15" textLength="22.09" lengthAdjust="spacingAndGlyphs">30 nM</text>
<text x="409.21" y="219.00" font-size="7.6" fill="#222" stroke="#222" stroke-width="0.15" textLength="22.09" lengthAdjust="spacingAndGlyphs">10 nM</text>
<text x="411.85" y="236.40" font-size="7.6" fill="#222" stroke="#222" stroke-width="0.15" textLength="18.45" lengthAdjust="spacingAndGlyphs">3 nM</text>
<text x="411.05" y="254.80" font-size="7.6" fill="#222" stroke="#222" stroke-width="0.15" textLength="18.45" lengthAdjust="spacingAndGlyphs">1 nM</text>
<text x="411.05" y="272.80" font-size="7.6" fill="#222" stroke="#222" stroke-width="0.15" textLength="18.45" lengthAdjust="spacingAndGlyphs">0 nM</text>
<line x1="307.90" y1="277.80" x2="436.40" y2="277.80" stroke="#333" stroke-width="1.0"/>
<line x1="313.80" y1="277.80" x2="313.80" y2="280.40" stroke="#222" stroke-width="1.0"/>
<line x1="341.40" y1="277.80" x2="341.40" y2="280.40" stroke="#222" stroke-width="1.0"/>
<line x1="369.40" y1="277.80" x2="369.40" y2="280.40" stroke="#222" stroke-width="1.0"/>
<line x1="398.00" y1="277.80" x2="398.00" y2="280.40" stroke="#222" stroke-width="1.0"/>
<line x1="421.80" y1="277.80" x2="421.80" y2="280.40" stroke="#222" stroke-width="1.0"/>
<line x1="319.50" y1="277.80" x2="319.50" y2="279.40" stroke="#333" stroke-width="0.7"/>
<line x1="324.50" y1="277.80" x2="324.50" y2="279.40" stroke="#333" stroke-width="0.7"/>
<line x1="328.50" y1="277.80" x2="328.50" y2="279.40" stroke="#333" stroke-width="0.7"/>
<line x1="331.50" y1="277.80" x2="331.50" y2="279.40" stroke="#333" stroke-width="0.7"/>
<line x1="334.00" y1="277.80" x2="334.00" y2="279.40" stroke="#333" stroke-width="0.7"/>
<line x1="336.20" y1="277.80" x2="336.20" y2="279.40" stroke="#333" stroke-width="0.7"/>
<line x1="337.20" y1="277.80" x2="337.20" y2="279.40" stroke="#333" stroke-width="0.7"/>
<line x1="337.80" y1="277.80" x2="337.80" y2="279.40" stroke="#333" stroke-width="0.7"/>
<line x1="338.40" y1="277.80" x2="338.40" y2="279.40" stroke="#333" stroke-width="0.7"/>
<line x1="339.00" y1="277.80" x2="339.00" y2="279.40" stroke="#333" stroke-width="0.7"/>
<line x1="339.60" y1="277.80" x2="339.60" y2="279.40" stroke="#333" stroke-width="0.7"/>
<line x1="340.20" y1="277.80" x2="340.20" y2="279.40" stroke="#333" stroke-width="0.7"/>
<line x1="340.80" y1="277.80" x2="340.80" y2="279.40" stroke="#333" stroke-width="0.7"/>
<line x1="342.00" y1="277.80" x2="342.00" y2="279.40" stroke="#333" stroke-width="0.7"/>
<line x1="342.60" y1="277.80" x2="342.60" y2="279.40" stroke="#333" stroke-width="0.7"/>
<line x1="343.20" y1="277.80" x2="343.20" y2="279.40" stroke="#333" stroke-width="0.7"/>
<line x1="343.80" y1="277.80" x2="343.80" y2="279.40" stroke="#333" stroke-width="0.7"/>
<line x1="344.40" y1="277.80" x2="344.40" y2="279.40" stroke="#333" stroke-width="0.7"/>
<line x1="345.00" y1="277.80" x2="345.00" y2="279.40" stroke="#333" stroke-width="0.7"/>
<line x1="345.60" y1="277.80" x2="345.60" y2="279.40" stroke="#333" stroke-width="0.7"/>
<line x1="346.20" y1="277.80" x2="346.20" y2="279.40" stroke="#333" stroke-width="0.7"/>
<line x1="349.00" y1="277.80" x2="349.00" y2="279.40" stroke="#333" stroke-width="0.7"/>
<line x1="353.50" y1="277.80" x2="353.50" y2="279.40" stroke="#333" stroke-width="0.7"/>
<line x1="357.50" y1="277.80" x2="357.50" y2="279.40" stroke="#333" stroke-width="0.7"/>
<line x1="361.50" y1="277.80" x2="361.50" y2="279.40" stroke="#333" stroke-width="0.7"/>
<line x1="364.50" y1="277.80" x2="364.50" y2="279.40" stroke="#333" stroke-width="0.7"/>
<line x1="366.50" y1="277.80" x2="366.50" y2="279.40" stroke="#333" stroke-width="0.7"/>
<line x1="368.00" y1="277.80" x2="368.00" y2="279.40" stroke="#333" stroke-width="0.7"/>
<line x1="378.00" y1="277.80" x2="378.00" y2="279.40" stroke="#333" stroke-width="0.7"/>
<line x1="383.00" y1="277.80" x2="383.00" y2="279.40" stroke="#333" stroke-width="0.7"/>
<line x1="386.50" y1="277.80" x2="386.50" y2="279.40" stroke="#333" stroke-width="0.7"/>
<line x1="389.50" y1="277.80" x2="389.50" y2="279.40" stroke="#333" stroke-width="0.7"/>
<line x1="392.00" y1="277.80" x2="392.00" y2="279.40" stroke="#333" stroke-width="0.7"/>
<line x1="394.00" y1="277.80" x2="394.00" y2="279.40" stroke="#333" stroke-width="0.7"/>
<line x1="395.60" y1="277.80" x2="395.60" y2="279.40" stroke="#333" stroke-width="0.7"/>
<line x1="396.90" y1="277.80" x2="396.90" y2="279.40" stroke="#333" stroke-width="0.7"/>
<line x1="405.00" y1="277.80" x2="405.00" y2="279.40" stroke="#333" stroke-width="0.7"/>
<line x1="409.00" y1="277.80" x2="409.00" y2="279.40" stroke="#333" stroke-width="0.7"/>
<line x1="412.00" y1="277.80" x2="412.00" y2="279.40" stroke="#333" stroke-width="0.7"/>
<line x1="414.50" y1="277.80" x2="414.50" y2="279.40" stroke="#333" stroke-width="0.7"/>
<line x1="416.50" y1="277.80" x2="416.50" y2="279.40" stroke="#333" stroke-width="0.7"/>
<line x1="418.20" y1="277.80" x2="418.20" y2="279.40" stroke="#333" stroke-width="0.7"/>
<line x1="419.70" y1="277.80" x2="419.70" y2="279.40" stroke="#333" stroke-width="0.7"/>
<line x1="420.80" y1="277.80" x2="420.80" y2="279.40" stroke="#333" stroke-width="0.7"/>
<line x1="426.00" y1="277.80" x2="426.00" y2="279.40" stroke="#333" stroke-width="0.7"/>
<line x1="429.50" y1="277.80" x2="429.50" y2="279.40" stroke="#333" stroke-width="0.7"/>
<line x1="432.00" y1="277.80" x2="432.00" y2="279.40" stroke="#333" stroke-width="0.7"/>
<text x="312.60" y="289.00" font-size="5.2" fill="#333" >-10</text>
<text x="321.05" y="286.40" font-size="3.8" fill="#333" >4</text>
<text x="344.10" y="289.00" font-size="5.2" fill="#333" text-anchor="middle" >0</text>
<text x="369.90" y="289.00" font-size="5.2" fill="#333" >10</text>
<text x="375.60" y="286.40" font-size="3.8" fill="#333" >4</text>
<text x="397.90" y="289.00" font-size="5.2" fill="#333" >10</text>
<text x="403.60" y="286.40" font-size="3.8" fill="#333" >5</text>
<text x="421.90" y="289.00" font-size="5.2" fill="#333" >10</text>
<text x="427.60" y="286.40" font-size="3.8" fill="#333" >6</text>
<line x1="333.60" y1="294.40" x2="402.20" y2="294.40" stroke="#111" stroke-width="1.3"/>
<path d="M396.6,291.0 L402.8,294.4 L396.6,297.8" fill="none" stroke="#111" stroke-width="1.5"/>
<line x1="299.30" y1="171.50" x2="299.30" y2="269.90" stroke="#111" stroke-width="1.3"/>
<path d="M295.9,177.4 L299.3,171.0 L302.7,177.4" fill="none" stroke="#111" stroke-width="1.5"/>
<text x="365.20" y="306.30" font-size="10.3" fill="#333" text-anchor="middle" textLength="64.3" lengthAdjust="spacingAndGlyphs" >Phagocytosis</text>
<text x="289.90" y="215.70" font-size="10.0" fill="#3a3a3a" text-anchor="middle" textLength="98.2" lengthAdjust="spacingAndGlyphs" transform="rotate(-90 289.90 215.70)" >AT-02 concentration</text>
<line x1="513.30" y1="169.20" x2="513.30" y2="269.20" stroke="#333" stroke-width="1.2"/>
<line x1="512.70" y1="268.60" x2="640.20" y2="268.60" stroke="#333" stroke-width="1.2"/>
<line x1="513.30" y1="268.60" x2="513.30" y2="271.80" stroke="#333" stroke-width="1.0"/>
<text x="511.24" y="281.00" font-size="8.2" fill="#333" stroke="#333" stroke-width="0.22" textLength="4.12" lengthAdjust="spacingAndGlyphs">0</text>
<line x1="525.93" y1="268.60" x2="525.93" y2="271.80" stroke="#333" stroke-width="1.0"/>
<text x="521.81" y="281.00" font-size="8.2" fill="#333" stroke="#333" stroke-width="0.22" textLength="8.23" lengthAdjust="spacingAndGlyphs">10</text>
<line x1="538.56" y1="268.60" x2="538.56" y2="271.80" stroke="#333" stroke-width="1.0"/>
<text x="534.44" y="281.00" font-size="8.2" fill="#333" stroke="#333" stroke-width="0.22" textLength="8.23" lengthAdjust="spacingAndGlyphs">20</text>
<line x1="551.19" y1="268.60" x2="551.19" y2="271.80" stroke="#333" stroke-width="1.0"/>
<text x="547.07" y="281.00" font-size="8.2" fill="#333" stroke="#333" stroke-width="0.22" textLength="8.23" lengthAdjust="spacingAndGlyphs">30</text>
<line x1="563.82" y1="268.60" x2="563.82" y2="271.80" stroke="#333" stroke-width="1.0"/>
<text x="559.70" y="281.00" font-size="8.2" fill="#333" stroke="#333" stroke-width="0.22" textLength="8.23" lengthAdjust="spacingAndGlyphs">40</text>
<line x1="576.45" y1="268.60" x2="576.45" y2="271.80" stroke="#333" stroke-width="1.0"/>
<text x="572.33" y="281.00" font-size="8.2" fill="#333" stroke="#333" stroke-width="0.22" textLength="8.23" lengthAdjust="spacingAndGlyphs">50</text>
<line x1="589.08" y1="268.60" x2="589.08" y2="271.80" stroke="#333" stroke-width="1.0"/>
<text x="584.96" y="281.00" font-size="8.2" fill="#333" stroke="#333" stroke-width="0.22" textLength="8.23" lengthAdjust="spacingAndGlyphs">60</text>
<line x1="601.71" y1="268.60" x2="601.71" y2="271.80" stroke="#333" stroke-width="1.0"/>
<text x="597.59" y="281.00" font-size="8.2" fill="#333" stroke="#333" stroke-width="0.22" textLength="8.23" lengthAdjust="spacingAndGlyphs">70</text>
<line x1="614.34" y1="268.60" x2="614.34" y2="271.80" stroke="#333" stroke-width="1.0"/>
<text x="610.22" y="281.00" font-size="8.2" fill="#333" stroke="#333" stroke-width="0.22" textLength="8.23" lengthAdjust="spacingAndGlyphs">80</text>
<line x1="626.97" y1="268.60" x2="626.97" y2="271.80" stroke="#333" stroke-width="1.0"/>
<text x="622.85" y="281.00" font-size="8.2" fill="#333" stroke="#333" stroke-width="0.22" textLength="8.23" lengthAdjust="spacingAndGlyphs">90</text>
<line x1="639.60" y1="268.60" x2="639.60" y2="271.80" stroke="#333" stroke-width="1.0"/>
<text x="633.43" y="281.00" font-size="8.2" fill="#333" stroke="#333" stroke-width="0.22" textLength="12.35" lengthAdjust="spacingAndGlyphs">100</text>
<line x1="509.70" y1="268.60" x2="513.30" y2="268.60" stroke="#333" stroke-width="1.0"/>
<text x="503.13" y="271.30" font-size="8.2" fill="#333" stroke="#333" stroke-width="0.22" textLength="4.17" lengthAdjust="spacingAndGlyphs">0</text>
<line x1="509.70" y1="252.08" x2="513.30" y2="252.08" stroke="#333" stroke-width="1.0"/>
<text x="498.96" y="254.78" font-size="8.2" fill="#333" stroke="#333" stroke-width="0.22" textLength="8.34" lengthAdjust="spacingAndGlyphs">20</text>
<line x1="509.70" y1="235.57" x2="513.30" y2="235.57" stroke="#333" stroke-width="1.0"/>
<text x="498.96" y="238.27" font-size="8.2" fill="#333" stroke="#333" stroke-width="0.22" textLength="8.34" lengthAdjust="spacingAndGlyphs">40</text>
<line x1="509.70" y1="219.05" x2="513.30" y2="219.05" stroke="#333" stroke-width="1.0"/>
<text x="498.96" y="221.75" font-size="8.2" fill="#333" stroke="#333" stroke-width="0.22" textLength="8.34" lengthAdjust="spacingAndGlyphs">60</text>
<line x1="509.70" y1="202.53" x2="513.30" y2="202.53" stroke="#333" stroke-width="1.0"/>
<text x="498.96" y="205.23" font-size="8.2" fill="#333" stroke="#333" stroke-width="0.22" textLength="8.34" lengthAdjust="spacingAndGlyphs">80</text>
<line x1="509.70" y1="186.02" x2="513.30" y2="186.02" stroke="#333" stroke-width="1.0"/>
<text x="494.79" y="188.72" font-size="8.2" fill="#333" stroke="#333" stroke-width="0.22" textLength="12.51" lengthAdjust="spacingAndGlyphs">100</text>
<line x1="509.70" y1="169.50" x2="513.30" y2="169.50" stroke="#333" stroke-width="1.0"/>
<text x="494.79" y="172.20" font-size="8.2" fill="#333" stroke="#333" stroke-width="0.22" textLength="12.51" lengthAdjust="spacingAndGlyphs">120</text>
<text x="576.30" y="296.80" font-size="10.4" fill="#3a3a3a" text-anchor="middle" textLength="95.0" lengthAdjust="spacingAndGlyphs" >Concentration (nM)</text>
<text x="471.30" y="217.20" font-size="9.6" fill="#3a3a3a" text-anchor="middle" textLength="121.4" lengthAdjust="spacingAndGlyphs" transform="rotate(-90 471.30 217.20)" >pHrodoRed positive cells</text>
<text x="483.80" y="216.50" font-size="9.6" fill="#3a3a3a" text-anchor="middle" textLength="125.4" lengthAdjust="spacingAndGlyphs" transform="rotate(-90 483.80 216.50)" >(flow normalized to 100%)</text>
<polyline points="513.30,268.60 514.56,238.04 517.09,238.04 525.93,228.96 551.19,213.27 639.60,186.02" stroke="#444" stroke-width="1.0" fill="none"/>
<line x1="513.30" y1="268.60" x2="514.56" y2="238.04" stroke="#333" stroke-width="1.6"/>
<path d="M510.00,268.60 L513.30,265.30 L516.60,268.60 L513.30,271.90 Z" fill="#595959" stroke="#333" stroke-width="0.8"/>
<circle cx="514.56" cy="238.04" r="2.8" fill="#595959" stroke="#333" stroke-width="0.8"/>
<circle cx="517.09" cy="238.04" r="2.8" fill="#595959" stroke="#333" stroke-width="0.8"/>
<circle cx="525.93" cy="228.96" r="2.8" fill="#595959" stroke="#333" stroke-width="0.8"/>
<circle cx="551.19" cy="213.27" r="2.8" fill="#595959" stroke="#333" stroke-width="0.8"/>
<circle cx="639.60" cy="186.02" r="2.8" fill="#595959" stroke="#333" stroke-width="0.8"/>
<line x1="68.20" y1="335.30" x2="68.20" y2="447.00" stroke="#555" stroke-width="1.1"/>
<line x1="67.70" y1="446.50" x2="142.20" y2="446.50" stroke="#555" stroke-width="1.1"/>
<line x1="64.80" y1="446.50" x2="68.20" y2="446.50" stroke="#555" stroke-width="1"/>
<text x="59.81" y="448.90" font-size="7.6" fill="#333" stroke="#333" stroke-width="0.22" textLength="3.89" lengthAdjust="spacingAndGlyphs">0</text>
<line x1="64.80" y1="424.32" x2="68.20" y2="424.32" stroke="#555" stroke-width="1"/>
<text x="52.02" y="426.72" font-size="7.6" fill="#333" stroke="#333" stroke-width="0.22" textLength="11.68" lengthAdjust="spacingAndGlyphs">500</text>
<line x1="64.80" y1="402.14" x2="68.20" y2="402.14" stroke="#555" stroke-width="1"/>
<text x="48.13" y="404.54" font-size="7.6" fill="#333" stroke="#333" stroke-width="0.22" textLength="15.57" lengthAdjust="spacingAndGlyphs">1000</text>
<line x1="64.80" y1="379.96" x2="68.20" y2="379.96" stroke="#555" stroke-width="1"/>
<text x="48.13" y="382.36" font-size="7.6" fill="#333" stroke="#333" stroke-width="0.22" textLength="15.57" lengthAdjust="spacingAndGlyphs">1500</text>
<line x1="64.80" y1="357.78" x2="68.20" y2="357.78" stroke="#555" stroke-width="1"/>
<text x="48.13" y="360.18" font-size="7.6" fill="#333" stroke="#333" stroke-width="0.22" textLength="15.57" lengthAdjust="spacingAndGlyphs">2000</text>
<line x1="64.80" y1="335.60" x2="68.20" y2="335.60" stroke="#555" stroke-width="1"/>
<text x="48.13" y="338.00" font-size="7.6" fill="#333" stroke="#333" stroke-width="0.22" textLength="15.57" lengthAdjust="spacingAndGlyphs">2500</text>
<line x1="75.60" y1="446.50" x2="75.60" y2="449.90" stroke="#555" stroke-width="1"/>
<line x1="87.26" y1="446.50" x2="87.26" y2="449.90" stroke="#555" stroke-width="1"/>
<line x1="98.92" y1="446.50" x2="98.92" y2="449.90" stroke="#555" stroke-width="1"/>
<line x1="110.58" y1="446.50" x2="110.58" y2="449.90" stroke="#555" stroke-width="1"/>
<line x1="122.24" y1="446.50" x2="122.24" y2="449.90" stroke="#555" stroke-width="1"/>
<line x1="133.90" y1="446.50" x2="133.90" y2="449.90" stroke="#555" stroke-width="1"/>
<line x1="75.60" y1="417.27" x2="75.60" y2="415.45" stroke="#333" stroke-width="0.9"/>
<line x1="73.90" y1="415.45" x2="77.30" y2="415.45" stroke="#333" stroke-width="0.9"/>
<rect x="71.70" y="417.27" width="7.80" height="29.23" fill="#d9d9d9" stroke="#333" stroke-width="0.9"/>
<line x1="87.26" y1="370.20" x2="87.26" y2="360.00" stroke="#333" stroke-width="0.9"/>
<line x1="85.56" y1="360.00" x2="88.96" y2="360.00" stroke="#333" stroke-width="0.9"/>
<rect x="83.36" y="370.20" width="7.80" height="76.30" fill="#d9d9d9" stroke="#333" stroke-width="0.9"/>
<line x1="98.92" y1="429.07" x2="98.92" y2="426.23" stroke="#333" stroke-width="0.9"/>
<line x1="97.22" y1="426.23" x2="100.62" y2="426.23" stroke="#333" stroke-width="0.9"/>
<rect x="95.02" y="429.07" width="7.80" height="17.43" fill="#d9d9d9" stroke="#333" stroke-width="0.9"/>
<line x1="110.58" y1="426.94" x2="110.58" y2="420.90" stroke="#333" stroke-width="0.9"/>
<line x1="108.88" y1="420.90" x2="112.28" y2="420.90" stroke="#333" stroke-width="0.9"/>
<rect x="106.68" y="426.94" width="7.80" height="19.56" fill="#d9d9d9" stroke="#333" stroke-width="0.9"/>
<line x1="122.24" y1="430.57" x2="122.24" y2="425.34" stroke="#333" stroke-width="0.9"/>
<line x1="120.54" y1="425.34" x2="123.94" y2="425.34" stroke="#333" stroke-width="0.9"/>
<rect x="118.34" y="430.57" width="7.80" height="15.93" fill="#d9d9d9" stroke="#333" stroke-width="0.9"/>
<line x1="87.20" y1="335.30" x2="122.10" y2="335.30" stroke="#505050" stroke-width="1.0"/>
<line x1="87.20" y1="346.80" x2="110.80" y2="346.80" stroke="#505050" stroke-width="1.0"/>
<line x1="87.20" y1="358.10" x2="99.00" y2="358.10" stroke="#505050" stroke-width="1.0"/>
<circle cx="97.62" cy="329.90" r="1.35" fill="#222"/>
<circle cx="102.28" cy="329.90" r="1.35" fill="#222"/>
<circle cx="106.92" cy="329.90" r="1.35" fill="#222"/>
<circle cx="111.58" cy="329.90" r="1.35" fill="#222"/>
<circle cx="91.93" cy="341.60" r="1.35" fill="#222"/>
<circle cx="96.58" cy="341.60" r="1.35" fill="#222"/>
<circle cx="101.23" cy="341.60" r="1.35" fill="#222"/>
<circle cx="105.88" cy="341.60" r="1.35" fill="#222"/>
<circle cx="86.23" cy="352.70" r="1.35" fill="#222"/>
<circle cx="90.88" cy="352.70" r="1.35" fill="#222"/>
<circle cx="95.53" cy="352.70" r="1.35" fill="#222"/>
<circle cx="100.18" cy="352.70" r="1.35" fill="#222"/>
<text x="81.46" y="323.80" font-size="9.6" fill="#1a1a1a" stroke="#1a1a1a" stroke-width="0.1" textLength="39.49" lengthAdjust="spacingAndGlyphs">rVλ6WIL</text>
<text x="29.50" y="382.50" font-size="10.3" fill="#444" text-anchor="middle" textLength="62.8" lengthAdjust="spacingAndGlyphs" transform="rotate(-90 29.50 382.50)" >Phagocytosis</text>
<text x="42.00" y="383.10" font-size="10.3" fill="#444" text-anchor="middle" textLength="71.0" lengthAdjust="spacingAndGlyphs" transform="rotate(-90 42.00 383.10)" >(Fluorescence)</text>
<line x1="159.10" y1="330.70" x2="159.10" y2="446.00" stroke="#555" stroke-width="1.1"/>
<line x1="158.60" y1="445.50" x2="235.40" y2="445.50" stroke="#555" stroke-width="1.1"/>
<line x1="155.70" y1="445.50" x2="159.10" y2="445.50" stroke="#555" stroke-width="1"/>
<text x="150.71" y="447.90" font-size="7.6" fill="#333" stroke="#333" stroke-width="0.22" textLength="3.89" lengthAdjust="spacingAndGlyphs">0</text>
<line x1="155.70" y1="407.33" x2="159.10" y2="407.33" stroke="#555" stroke-width="1"/>
<text x="142.92" y="409.73" font-size="7.6" fill="#333" stroke="#333" stroke-width="0.22" textLength="11.68" lengthAdjust="spacingAndGlyphs">500</text>
<line x1="155.70" y1="369.17" x2="159.10" y2="369.17" stroke="#555" stroke-width="1"/>
<text x="139.03" y="371.57" font-size="7.6" fill="#333" stroke="#333" stroke-width="0.22" textLength="15.57" lengthAdjust="spacingAndGlyphs">1000</text>
<line x1="155.70" y1="331.00" x2="159.10" y2="331.00" stroke="#555" stroke-width="1"/>
<text x="139.03" y="333.40" font-size="7.6" fill="#333" stroke="#333" stroke-width="0.22" textLength="15.57" lengthAdjust="spacingAndGlyphs">1500</text>
<line x1="167.40" y1="445.50" x2="167.40" y2="448.90" stroke="#555" stroke-width="1"/>
<line x1="179.34" y1="445.50" x2="179.34" y2="448.90" stroke="#555" stroke-width="1"/>
<line x1="191.28" y1="445.50" x2="191.28" y2="448.90" stroke="#555" stroke-width="1"/>
<line x1="203.22" y1="445.50" x2="203.22" y2="448.90" stroke="#555" stroke-width="1"/>
<line x1="215.16" y1="445.50" x2="215.16" y2="448.90" stroke="#555" stroke-width="1"/>
<line x1="227.10" y1="445.50" x2="227.10" y2="448.90" stroke="#555" stroke-width="1"/>
<line x1="167.40" y1="421.07" x2="167.40" y2="407.87" stroke="#333" stroke-width="0.9"/>
<line x1="165.70" y1="407.87" x2="169.10" y2="407.87" stroke="#333" stroke-width="0.9"/>
<rect x="163.30" y="421.07" width="8.20" height="24.43" fill="#d9d9d9" stroke="#333" stroke-width="0.9"/>
<line x1="179.34" y1="375.27" x2="179.34" y2="366.11" stroke="#333" stroke-width="0.9"/>
<line x1="177.64" y1="366.11" x2="181.04" y2="366.11" stroke="#333" stroke-width="0.9"/>
<rect x="175.24" y="375.27" width="8.20" height="70.23" fill="#d9d9d9" stroke="#333" stroke-width="0.9"/>
<line x1="191.28" y1="413.13" x2="191.28" y2="403.52" stroke="#333" stroke-width="0.9"/>
<line x1="189.58" y1="403.52" x2="192.98" y2="403.52" stroke="#333" stroke-width="0.9"/>
<rect x="187.18" y="413.13" width="8.20" height="32.37" fill="#d9d9d9" stroke="#333" stroke-width="0.9"/>
<line x1="203.22" y1="414.58" x2="203.22" y2="408.17" stroke="#333" stroke-width="0.9"/>
<line x1="201.52" y1="408.17" x2="204.92" y2="408.17" stroke="#333" stroke-width="0.9"/>
<rect x="199.12" y="414.58" width="8.20" height="30.92" fill="#d9d9d9" stroke="#333" stroke-width="0.9"/>
<line x1="215.16" y1="411.61" x2="215.16" y2="398.40" stroke="#333" stroke-width="0.9"/>
<line x1="213.46" y1="398.40" x2="216.86" y2="398.40" stroke="#333" stroke-width="0.9"/>
<rect x="211.06" y="411.61" width="8.20" height="33.89" fill="#d9d9d9" stroke="#333" stroke-width="0.9"/>
<line x1="227.10" y1="443.59" x2="227.10" y2="442.06" stroke="#333" stroke-width="0.9"/>
<line x1="225.40" y1="442.06" x2="228.80" y2="442.06" stroke="#333" stroke-width="0.9"/>
<rect x="223.00" y="443.59" width="8.20" height="1.91" fill="#d9d9d9" stroke="#333" stroke-width="0.9"/>
<line x1="179.20" y1="340.40" x2="215.20" y2="340.40" stroke="#505050" stroke-width="1.0"/>
<line x1="179.20" y1="352.40" x2="203.30" y2="352.40" stroke="#505050" stroke-width="1.0"/>
<line x1="179.20" y1="364.20" x2="191.00" y2="364.20" stroke="#505050" stroke-width="1.0"/>
<circle cx="192.25" cy="334.90" r="1.4" fill="#222"/>
<circle cx="197.20" cy="334.90" r="1.4" fill="#222"/>
<circle cx="202.15" cy="334.90" r="1.4" fill="#222"/>
<circle cx="184.19" cy="346.60" r="1.4" fill="#222"/>
<circle cx="189.06" cy="346.60" r="1.4" fill="#222"/>
<circle cx="193.94" cy="346.60" r="1.4" fill="#222"/>
<circle cx="198.81" cy="346.60" r="1.4" fill="#222"/>
<circle cx="178.19" cy="358.90" r="1.4" fill="#222"/>
<circle cx="183.06" cy="358.90" r="1.4" fill="#222"/>
<circle cx="187.94" cy="358.90" r="1.4" fill="#222"/>
<circle cx="192.81" cy="358.90" r="1.4" fill="#222"/>
<text x="176.55" y="322.90" font-size="10.3" fill="#222" textLength="35.90" lengthAdjust="spacingAndGlyphs">ATTRwt</text>
<text x="42.60" y="462.20" font-size="8.7" fill="#444" textLength="24.9" lengthAdjust="spacingAndGlyphs" >AT-02</text>
<line x1="73.30" y1="458.40" x2="77.90" y2="458.40" stroke="#5a5a5a" stroke-width="0.9"/>
<line x1="85.26" y1="458.40" x2="89.26" y2="458.40" stroke="#5a5a5a" stroke-width="0.9"/>
<line x1="87.26" y1="456.50" x2="87.26" y2="460.30" stroke="#5a5a5a" stroke-width="0.9"/>
<line x1="96.92" y1="458.40" x2="100.92" y2="458.40" stroke="#5a5a5a" stroke-width="0.9"/>
<line x1="98.92" y1="456.50" x2="98.92" y2="460.30" stroke="#5a5a5a" stroke-width="0.9"/>
<line x1="108.58" y1="458.40" x2="112.58" y2="458.40" stroke="#5a5a5a" stroke-width="0.9"/>
<line x1="110.58" y1="456.50" x2="110.58" y2="460.30" stroke="#5a5a5a" stroke-width="0.9"/>
<line x1="120.24" y1="458.40" x2="124.24" y2="458.40" stroke="#5a5a5a" stroke-width="0.9"/>
<line x1="122.24" y1="456.50" x2="122.24" y2="460.30" stroke="#5a5a5a" stroke-width="0.9"/>
<line x1="131.90" y1="458.40" x2="135.90" y2="458.40" stroke="#5a5a5a" stroke-width="0.9"/>
<line x1="133.90" y1="456.50" x2="133.90" y2="460.30" stroke="#5a5a5a" stroke-width="0.9"/>
<line x1="165.10" y1="458.40" x2="169.70" y2="458.40" stroke="#5a5a5a" stroke-width="0.9"/>
<line x1="177.34" y1="458.40" x2="181.34" y2="458.40" stroke="#5a5a5a" stroke-width="0.9"/>
<line x1="179.34" y1="456.50" x2="179.34" y2="460.30" stroke="#5a5a5a" stroke-width="0.9"/>
<line x1="189.28" y1="458.40" x2="193.28" y2="458.40" stroke="#5a5a5a" stroke-width="0.9"/>
<line x1="191.28" y1="456.50" x2="191.28" y2="460.30" stroke="#5a5a5a" stroke-width="0.9"/>
<line x1="201.22" y1="458.40" x2="205.22" y2="458.40" stroke="#5a5a5a" stroke-width="0.9"/>
<line x1="203.22" y1="456.50" x2="203.22" y2="460.30" stroke="#5a5a5a" stroke-width="0.9"/>
<line x1="213.16" y1="458.40" x2="217.16" y2="458.40" stroke="#5a5a5a" stroke-width="0.9"/>
<line x1="215.16" y1="456.50" x2="215.16" y2="460.30" stroke="#5a5a5a" stroke-width="0.9"/>
<line x1="225.10" y1="458.40" x2="229.10" y2="458.40" stroke="#5a5a5a" stroke-width="0.9"/>
<line x1="227.10" y1="456.50" x2="227.10" y2="460.30" stroke="#5a5a5a" stroke-width="0.9"/>
<text x="28.10" y="472.90" font-size="8.7" fill="#444" textLength="38.8" lengthAdjust="spacingAndGlyphs" >hIgG agg.</text>
<line x1="73.30" y1="471.30" x2="77.90" y2="471.30" stroke="#5a5a5a" stroke-width="0.9"/>
<line x1="84.96" y1="471.30" x2="89.56" y2="471.30" stroke="#5a5a5a" stroke-width="0.9"/>
<line x1="96.92" y1="471.30" x2="100.92" y2="471.30" stroke="#5a5a5a" stroke-width="0.9"/>
<line x1="98.92" y1="469.40" x2="98.92" y2="473.20" stroke="#5a5a5a" stroke-width="0.9"/>
<line x1="108.28" y1="471.30" x2="112.88" y2="471.30" stroke="#5a5a5a" stroke-width="0.9"/>
<line x1="119.94" y1="471.30" x2="124.54" y2="471.30" stroke="#5a5a5a" stroke-width="0.9"/>
<line x1="131.60" y1="471.30" x2="136.20" y2="471.30" stroke="#5a5a5a" stroke-width="0.9"/>
<line x1="165.10" y1="471.30" x2="169.70" y2="471.30" stroke="#5a5a5a" stroke-width="0.9"/>
<line x1="177.04" y1="471.30" x2="181.64" y2="471.30" stroke="#5a5a5a" stroke-width="0.9"/>
<line x1="189.28" y1="471.30" x2="193.28" y2="471.30" stroke="#5a5a5a" stroke-width="0.9"/>
<line x1="191.28" y1="469.40" x2="191.28" y2="473.20" stroke="#5a5a5a" stroke-width="0.9"/>
<line x1="200.92" y1="471.30" x2="205.52" y2="471.30" stroke="#5a5a5a" stroke-width="0.9"/>
<line x1="212.86" y1="471.30" x2="217.46" y2="471.30" stroke="#5a5a5a" stroke-width="0.9"/>
<line x1="224.80" y1="471.30" x2="229.40" y2="471.30" stroke="#5a5a5a" stroke-width="0.9"/>
<text x="17.70" y="484.60" font-size="8.7" fill="#444" textLength="48.6" lengthAdjust="spacingAndGlyphs" >FcR block 1</text>
<line x1="73.30" y1="482.00" x2="77.90" y2="482.00" stroke="#5a5a5a" stroke-width="0.9"/>
<line x1="84.96" y1="482.00" x2="89.56" y2="482.00" stroke="#5a5a5a" stroke-width="0.9"/>
<line x1="96.62" y1="482.00" x2="101.22" y2="482.00" stroke="#5a5a5a" stroke-width="0.9"/>
<line x1="108.58" y1="482.00" x2="112.58" y2="482.00" stroke="#5a5a5a" stroke-width="0.9"/>
<line x1="110.58" y1="480.10" x2="110.58" y2="483.90" stroke="#5a5a5a" stroke-width="0.9"/>
<line x1="119.94" y1="482.00" x2="124.54" y2="482.00" stroke="#5a5a5a" stroke-width="0.9"/>
<line x1="131.60" y1="482.00" x2="136.20" y2="482.00" stroke="#5a5a5a" stroke-width="0.9"/>
<line x1="165.10" y1="482.00" x2="169.70" y2="482.00" stroke="#5a5a5a" stroke-width="0.9"/>
<line x1="177.04" y1="482.00" x2="181.64" y2="482.00" stroke="#5a5a5a" stroke-width="0.9"/>
<line x1="188.98" y1="482.00" x2="193.58" y2="482.00" stroke="#5a5a5a" stroke-width="0.9"/>
<line x1="201.22" y1="482.00" x2="205.22" y2="482.00" stroke="#5a5a5a" stroke-width="0.9"/>
<line x1="203.22" y1="480.10" x2="203.22" y2="483.90" stroke="#5a5a5a" stroke-width="0.9"/>
<line x1="212.86" y1="482.00" x2="217.46" y2="482.00" stroke="#5a5a5a" stroke-width="0.9"/>
<line x1="224.80" y1="482.00" x2="229.40" y2="482.00" stroke="#5a5a5a" stroke-width="0.9"/>
<text x="17.70" y="496.00" font-size="8.7" fill="#444" textLength="49.4" lengthAdjust="spacingAndGlyphs" >FcR block 2</text>
<line x1="73.30" y1="492.80" x2="77.90" y2="492.80" stroke="#5a5a5a" stroke-width="0.9"/>
<line x1="84.96" y1="492.80" x2="89.56" y2="492.80" stroke="#5a5a5a" stroke-width="0.9"/>
<line x1="96.62" y1="492.80" x2="101.22" y2="492.80" stroke="#5a5a5a" stroke-width="0.9"/>
<line x1="108.28" y1="492.80" x2="112.88" y2="492.80" stroke="#5a5a5a" stroke-width="0.9"/>
<line x1="120.24" y1="492.80" x2="124.24" y2="492.80" stroke="#5a5a5a" stroke-width="0.9"/>
<line x1="122.24" y1="490.90" x2="122.24" y2="494.70" stroke="#5a5a5a" stroke-width="0.9"/>
<line x1="131.60" y1="492.80" x2="136.20" y2="492.80" stroke="#5a5a5a" stroke-width="0.9"/>
<line x1="165.10" y1="492.80" x2="169.70" y2="492.80" stroke="#5a5a5a" stroke-width="0.9"/>
<line x1="177.04" y1="492.80" x2="181.64" y2="492.80" stroke="#5a5a5a" stroke-width="0.9"/>
<line x1="188.98" y1="492.80" x2="193.58" y2="492.80" stroke="#5a5a5a" stroke-width="0.9"/>
<line x1="200.92" y1="492.80" x2="205.52" y2="492.80" stroke="#5a5a5a" stroke-width="0.9"/>
<line x1="213.16" y1="492.80" x2="217.16" y2="492.80" stroke="#5a5a5a" stroke-width="0.9"/>
<line x1="215.16" y1="490.90" x2="215.16" y2="494.70" stroke="#5a5a5a" stroke-width="0.9"/>
<line x1="224.80" y1="492.80" x2="229.40" y2="492.80" stroke="#5a5a5a" stroke-width="0.9"/>
<text x="1.40" y="506.90" font-size="8.7" fill="#444" textLength="66.1" lengthAdjust="spacingAndGlyphs" >Cytochalasin D</text>
<line x1="73.30" y1="504.10" x2="77.90" y2="504.10" stroke="#5a5a5a" stroke-width="0.9"/>
<line x1="84.96" y1="504.10" x2="89.56" y2="504.10" stroke="#5a5a5a" stroke-width="0.9"/>
<line x1="96.62" y1="504.10" x2="101.22" y2="504.10" stroke="#5a5a5a" stroke-width="0.9"/>
<line x1="108.28" y1="504.10" x2="112.88" y2="504.10" stroke="#5a5a5a" stroke-width="0.9"/>
<line x1="119.94" y1="504.10" x2="124.54" y2="504.10" stroke="#5a5a5a" stroke-width="0.9"/>
<line x1="131.90" y1="504.10" x2="135.90" y2="504.10" stroke="#5a5a5a" stroke-width="0.9"/>
<line x1="133.90" y1="502.20" x2="133.90" y2="506.00" stroke="#5a5a5a" stroke-width="0.9"/>
<line x1="165.10" y1="504.10" x2="169.70" y2="504.10" stroke="#5a5a5a" stroke-width="0.9"/>
<line x1="177.04" y1="504.10" x2="181.64" y2="504.10" stroke="#5a5a5a" stroke-width="0.9"/>
<line x1="188.98" y1="504.10" x2="193.58" y2="504.10" stroke="#5a5a5a" stroke-width="0.9"/>
<line x1="200.92" y1="504.10" x2="205.52" y2="504.10" stroke="#5a5a5a" stroke-width="0.9"/>
<line x1="212.86" y1="504.10" x2="217.46" y2="504.10" stroke="#5a5a5a" stroke-width="0.9"/>
<line x1="225.10" y1="504.10" x2="229.10" y2="504.10" stroke="#5a5a5a" stroke-width="0.9"/>
<line x1="227.10" y1="502.20" x2="227.10" y2="506.00" stroke="#5a5a5a" stroke-width="0.9"/>
<line x1="285.30" y1="347.10" x2="285.30" y2="418.20" stroke="#555" stroke-width="1.0"/>
<line x1="284.80" y1="417.70" x2="388.80" y2="417.70" stroke="#555" stroke-width="1.0"/>
<line x1="282.50" y1="417.70" x2="285.30" y2="417.70" stroke="#555" stroke-width="0.9"/>
<text x="278.05" y="419.50" font-size="5.0" fill="#555" stroke="#555" stroke-width="0.12" textLength="2.95" lengthAdjust="spacingAndGlyphs">0</text>
<line x1="282.50" y1="400.12" x2="285.30" y2="400.12" stroke="#555" stroke-width="0.9"/>
<text x="263.32" y="401.93" font-size="5.0" fill="#555" stroke="#555" stroke-width="0.12" textLength="17.68" lengthAdjust="spacingAndGlyphs">100000</text>
<line x1="282.50" y1="382.55" x2="285.30" y2="382.55" stroke="#555" stroke-width="0.9"/>
<text x="263.32" y="384.35" font-size="5.0" fill="#555" stroke="#555" stroke-width="0.12" textLength="17.68" lengthAdjust="spacingAndGlyphs">200000</text>
<line x1="282.50" y1="364.97" x2="285.30" y2="364.97" stroke="#555" stroke-width="0.9"/>
<text x="263.32" y="366.77" font-size="5.0" fill="#555" stroke="#555" stroke-width="0.12" textLength="17.68" lengthAdjust="spacingAndGlyphs">300000</text>
<line x1="282.50" y1="347.40" x2="285.30" y2="347.40" stroke="#555" stroke-width="0.9"/>
<text x="263.32" y="349.20" font-size="5.0" fill="#555" stroke="#555" stroke-width="0.12" textLength="17.68" lengthAdjust="spacingAndGlyphs">400000</text>
<line x1="296.75" y1="417.70" x2="296.75" y2="420.30" stroke="#555" stroke-width="0.9"/>
<rect x="288.00" y="417.00" width="7.00" height="0.70" fill="#d9d9d9" stroke="#333" stroke-width="0.8"/>
<circle cx="289.90" cy="417.00" r="1.25" fill="#fff" stroke="#444" stroke-width="0.6"/>
<circle cx="291.50" cy="417.00" r="1.25" fill="#fff" stroke="#444" stroke-width="0.6"/>
<circle cx="293.10" cy="417.00" r="1.25" fill="#fff" stroke="#444" stroke-width="0.6"/>
<rect x="298.50" y="417.00" width="7.00" height="0.70" fill="#565656" stroke="#333" stroke-width="0.8"/>
<circle cx="300.40" cy="417.00" r="1.25" fill="#fff" stroke="#444" stroke-width="0.6"/>
<circle cx="302.00" cy="417.00" r="1.25" fill="#fff" stroke="#444" stroke-width="0.6"/>
<circle cx="303.60" cy="417.00" r="1.25" fill="#fff" stroke="#444" stroke-width="0.6"/>
<path d="M291.50,413.40 L291.50,356.30 L302.00,356.30 L302.00,413.40" fill="none" stroke="#444" stroke-width="0.8"/>
<text x="293.79" y="352.90" font-size="5.4" fill="#444" stroke="#444" stroke-width="0.05" textLength="5.91" lengthAdjust="spacingAndGlyphs">ns</text>
<text x="290.10" y="431.00" font-size="9.3" fill="#444" textLength="14.31" lengthAdjust="spacingAndGlyphs">0%</text>
<line x1="324.20" y1="417.70" x2="324.20" y2="420.30" stroke="#555" stroke-width="0.9"/>
<rect x="315.30" y="415.59" width="7.00" height="2.11" fill="#d9d9d9" stroke="#333" stroke-width="0.8"/>
<circle cx="317.20" cy="415.59" r="1.25" fill="#fff" stroke="#444" stroke-width="0.6"/>
<circle cx="318.80" cy="415.06" r="1.25" fill="#fff" stroke="#444" stroke-width="0.6"/>
<circle cx="320.40" cy="415.77" r="1.25" fill="#fff" stroke="#444" stroke-width="0.6"/>
<rect x="326.10" y="408.56" width="7.00" height="9.14" fill="#565656" stroke="#333" stroke-width="0.8"/>
<circle cx="328.00" cy="408.91" r="1.25" fill="#fff" stroke="#444" stroke-width="0.6"/>
<circle cx="329.60" cy="407.86" r="1.25" fill="#fff" stroke="#444" stroke-width="0.6"/>
<circle cx="331.20" cy="409.26" r="1.25" fill="#fff" stroke="#444" stroke-width="0.6"/>
<path d="M318.80,411.50 L318.80,356.30 L329.60,356.30 L329.60,404.80" fill="none" stroke="#444" stroke-width="0.8"/>
<circle cx="317.45" cy="351.30" r="1.25" fill="#222"/>
<circle cx="322.15" cy="351.30" r="1.25" fill="#222"/>
<circle cx="326.85" cy="351.30" r="1.25" fill="#222"/>
<circle cx="331.55" cy="351.30" r="1.25" fill="#222"/>
<text x="317.55" y="431.00" font-size="9.3" fill="#444" textLength="14.31" lengthAdjust="spacingAndGlyphs">1%</text>
<line x1="351.85" y1="417.70" x2="351.85" y2="420.30" stroke="#555" stroke-width="0.9"/>
<rect x="343.20" y="405.05" width="7.00" height="12.65" fill="#d9d9d9" stroke="#333" stroke-width="0.8"/>
<circle cx="345.10" cy="405.05" r="1.25" fill="#fff" stroke="#444" stroke-width="0.6"/>
<circle cx="346.70" cy="404.69" r="1.25" fill="#fff" stroke="#444" stroke-width="0.6"/>
<circle cx="348.30" cy="405.40" r="1.25" fill="#fff" stroke="#444" stroke-width="0.6"/>
<rect x="353.50" y="387.82" width="7.00" height="29.88" fill="#565656" stroke="#333" stroke-width="0.8"/>
<circle cx="355.40" cy="388.17" r="1.25" fill="#fff" stroke="#444" stroke-width="0.6"/>
<circle cx="357.00" cy="387.47" r="1.25" fill="#fff" stroke="#444" stroke-width="0.6"/>
<circle cx="358.60" cy="388.70" r="1.25" fill="#fff" stroke="#444" stroke-width="0.6"/>
<path d="M346.70,400.80 L346.70,356.30 L357.00,356.30 L357.00,383.60" fill="none" stroke="#444" stroke-width="0.8"/>
<circle cx="345.10" cy="351.30" r="1.25" fill="#222"/>
<circle cx="349.80" cy="351.30" r="1.25" fill="#222"/>
<circle cx="354.50" cy="351.30" r="1.25" fill="#222"/>
<circle cx="359.20" cy="351.30" r="1.25" fill="#222"/>
<text x="345.20" y="431.00" font-size="9.3" fill="#444" textLength="14.31" lengthAdjust="spacingAndGlyphs">5%</text>
<line x1="379.15" y1="417.70" x2="379.15" y2="420.30" stroke="#555" stroke-width="0.9"/>
<rect x="370.70" y="391.34" width="7.00" height="26.36" fill="#d9d9d9" stroke="#333" stroke-width="0.8"/>
<circle cx="372.60" cy="391.34" r="1.25" fill="#fff" stroke="#444" stroke-width="0.6"/>
<circle cx="374.20" cy="390.99" r="1.25" fill="#fff" stroke="#444" stroke-width="0.6"/>
<circle cx="375.80" cy="391.69" r="1.25" fill="#fff" stroke="#444" stroke-width="0.6"/>
<rect x="380.60" y="364.62" width="7.00" height="53.08" fill="#565656" stroke="#333" stroke-width="0.8"/>
<circle cx="382.50" cy="364.10" r="1.25" fill="#fff" stroke="#444" stroke-width="0.6"/>
<circle cx="384.10" cy="365.85" r="1.25" fill="#fff" stroke="#444" stroke-width="0.6"/>
<circle cx="385.70" cy="364.97" r="1.25" fill="#fff" stroke="#444" stroke-width="0.6"/>
<path d="M374.20,386.20 L374.20,356.30 L384.10,356.30 L384.10,360.70" fill="none" stroke="#444" stroke-width="0.8"/>
<circle cx="372.40" cy="351.30" r="1.25" fill="#222"/>
<circle cx="377.10" cy="351.30" r="1.25" fill="#222"/>
<circle cx="381.80" cy="351.30" r="1.25" fill="#222"/>
<circle cx="386.50" cy="351.30" r="1.25" fill="#222"/>
<text x="369.74" y="431.00" font-size="9.3" fill="#444" textLength="19.81" lengthAdjust="spacingAndGlyphs">10%</text>
<text x="304.14" y="445.40" font-size="10.7" fill="#444" textLength="65.72" lengthAdjust="spacingAndGlyphs">Plasma conc.</text>
<text x="315.27" y="337.30" font-size="11.3" fill="#222" textLength="44.86" lengthAdjust="spacingAndGlyphs">rVλ6WIL</text>
<line x1="414.30" y1="348.20" x2="414.30" y2="417.90" stroke="#555" stroke-width="1.0"/>
<line x1="413.80" y1="417.40" x2="516.00" y2="417.40" stroke="#555" stroke-width="1.0"/>
<line x1="411.50" y1="417.40" x2="414.30" y2="417.40" stroke="#555" stroke-width="0.9"/>
<text x="407.05" y="419.20" font-size="5.0" fill="#555" stroke="#555" stroke-width="0.12" textLength="2.95" lengthAdjust="spacingAndGlyphs">0</text>
<line x1="411.50" y1="400.17" x2="414.30" y2="400.17" stroke="#555" stroke-width="0.9"/>
<text x="395.26" y="401.97" font-size="5.0" fill="#555" stroke="#555" stroke-width="0.12" textLength="14.74" lengthAdjust="spacingAndGlyphs">10000</text>
<line x1="411.50" y1="382.95" x2="414.30" y2="382.95" stroke="#555" stroke-width="0.9"/>
<text x="395.26" y="384.75" font-size="5.0" fill="#555" stroke="#555" stroke-width="0.12" textLength="14.74" lengthAdjust="spacingAndGlyphs">20000</text>
<line x1="411.50" y1="365.73" x2="414.30" y2="365.73" stroke="#555" stroke-width="0.9"/>
<text x="395.26" y="367.53" font-size="5.0" fill="#555" stroke="#555" stroke-width="0.12" textLength="14.74" lengthAdjust="spacingAndGlyphs">30000</text>
<line x1="411.50" y1="348.50" x2="414.30" y2="348.50" stroke="#555" stroke-width="0.9"/>
<text x="395.26" y="350.30" font-size="5.0" fill="#555" stroke="#555" stroke-width="0.12" textLength="14.74" lengthAdjust="spacingAndGlyphs">40000</text>
<line x1="424.90" y1="417.40" x2="424.90" y2="420.00" stroke="#555" stroke-width="0.9"/>
<rect x="416.50" y="414.13" width="7.00" height="3.27" fill="#d9d9d9" stroke="#333" stroke-width="0.8"/>
<circle cx="418.40" cy="414.13" r="1.25" fill="#fff" stroke="#444" stroke-width="0.6"/>
<circle cx="420.00" cy="413.78" r="1.25" fill="#fff" stroke="#444" stroke-width="0.6"/>
<circle cx="421.60" cy="414.30" r="1.25" fill="#fff" stroke="#444" stroke-width="0.6"/>
<rect x="426.30" y="413.09" width="7.00" height="4.31" fill="#565656" stroke="#333" stroke-width="0.8"/>
<circle cx="428.20" cy="413.09" r="1.25" fill="#fff" stroke="#444" stroke-width="0.6"/>
<circle cx="429.80" cy="413.44" r="1.25" fill="#fff" stroke="#444" stroke-width="0.6"/>
<circle cx="431.40" cy="412.75" r="1.25" fill="#fff" stroke="#444" stroke-width="0.6"/>
<path d="M420.00,408.20 L420.00,346.00 L429.80,346.00 L429.80,407.20" fill="none" stroke="#444" stroke-width="0.8"/>
<text x="421.94" y="342.80" font-size="5.4" fill="#444" stroke="#444" stroke-width="0.05" textLength="5.91" lengthAdjust="spacingAndGlyphs">ns</text>
<text x="418.25" y="431.00" font-size="9.3" fill="#444" textLength="14.31" lengthAdjust="spacingAndGlyphs">0%</text>
<line x1="451.30" y1="417.40" x2="451.30" y2="420.00" stroke="#555" stroke-width="0.9"/>
<rect x="442.90" y="413.44" width="7.00" height="3.96" fill="#d9d9d9" stroke="#333" stroke-width="0.8"/>
<circle cx="444.80" cy="413.44" r="1.25" fill="#fff" stroke="#444" stroke-width="0.6"/>
<circle cx="446.40" cy="412.92" r="1.25" fill="#fff" stroke="#444" stroke-width="0.6"/>
<circle cx="448.00" cy="413.95" r="1.25" fill="#fff" stroke="#444" stroke-width="0.6"/>
<rect x="452.70" y="411.03" width="7.00" height="6.37" fill="#565656" stroke="#333" stroke-width="0.8"/>
<circle cx="454.60" cy="411.03" r="1.25" fill="#fff" stroke="#444" stroke-width="0.6"/>
<circle cx="456.20" cy="410.17" r="1.25" fill="#fff" stroke="#444" stroke-width="0.6"/>
<circle cx="457.80" cy="411.37" r="1.25" fill="#fff" stroke="#444" stroke-width="0.6"/>
<path d="M446.40,407.80 L446.40,346.00 L456.20,346.00 L456.20,405.30" fill="none" stroke="#444" stroke-width="0.8"/>
<text x="448.34" y="342.80" font-size="5.4" fill="#444" stroke="#444" stroke-width="0.05" textLength="5.91" lengthAdjust="spacingAndGlyphs">ns</text>
<text x="444.65" y="431.00" font-size="9.3" fill="#444" textLength="14.31" lengthAdjust="spacingAndGlyphs">1%</text>
<line x1="477.80" y1="417.40" x2="477.80" y2="420.00" stroke="#555" stroke-width="0.9"/>
<rect x="469.30" y="404.83" width="7.00" height="12.57" fill="#d9d9d9" stroke="#333" stroke-width="0.8"/>
<circle cx="471.20" cy="404.83" r="1.25" fill="#fff" stroke="#444" stroke-width="0.6"/>
<circle cx="472.80" cy="404.31" r="1.25" fill="#fff" stroke="#444" stroke-width="0.6"/>
<circle cx="474.40" cy="405.34" r="1.25" fill="#fff" stroke="#444" stroke-width="0.6"/>
<rect x="479.30" y="393.46" width="7.00" height="23.94" fill="#565656" stroke="#333" stroke-width="0.8"/>
<circle cx="481.20" cy="393.46" r="1.25" fill="#fff" stroke="#444" stroke-width="0.6"/>
<circle cx="482.80" cy="392.77" r="1.25" fill="#fff" stroke="#444" stroke-width="0.6"/>
<circle cx="484.40" cy="394.15" r="1.25" fill="#fff" stroke="#444" stroke-width="0.6"/>
<path d="M472.80,400.00 L472.80,346.00 L482.80,346.00 L482.80,389.00" fill="none" stroke="#444" stroke-width="0.8"/>
<circle cx="473.40" cy="341.20" r="1.25" fill="#222"/>
<circle cx="478.10" cy="341.20" r="1.25" fill="#222"/>
<circle cx="482.80" cy="341.20" r="1.25" fill="#222"/>
<text x="471.15" y="431.00" font-size="9.3" fill="#444" textLength="14.31" lengthAdjust="spacingAndGlyphs">5%</text>
<line x1="504.35" y1="417.40" x2="504.35" y2="420.00" stroke="#555" stroke-width="0.9"/>
<rect x="495.70" y="382.95" width="7.00" height="34.45" fill="#d9d9d9" stroke="#333" stroke-width="0.8"/>
<circle cx="497.60" cy="382.61" r="1.25" fill="#fff" stroke="#444" stroke-width="0.6"/>
<circle cx="499.20" cy="382.09" r="1.25" fill="#fff" stroke="#444" stroke-width="0.6"/>
<circle cx="500.80" cy="383.29" r="1.25" fill="#fff" stroke="#444" stroke-width="0.6"/>
<line x1="509.50" y1="361.59" x2="509.50" y2="354.36" stroke="#333" stroke-width="0.8"/>
<line x1="508.00" y1="354.36" x2="511.00" y2="354.36" stroke="#333" stroke-width="0.8"/>
<rect x="506.00" y="361.59" width="7.00" height="55.81" fill="#565656" stroke="#333" stroke-width="0.8"/>
<circle cx="507.90" cy="355.39" r="1.25" fill="#fff" stroke="#444" stroke-width="0.6"/>
<circle cx="509.50" cy="365.73" r="1.25" fill="#fff" stroke="#444" stroke-width="0.6"/>
<circle cx="511.10" cy="357.11" r="1.25" fill="#fff" stroke="#444" stroke-width="0.6"/>
<path d="M499.20,378.80 L499.20,346.00 L509.50,346.00 L509.50,349.90" fill="none" stroke="#444" stroke-width="0.8"/>
<circle cx="497.60" cy="341.20" r="1.25" fill="#222"/>
<circle cx="502.30" cy="341.20" r="1.25" fill="#222"/>
<circle cx="507.00" cy="341.20" r="1.25" fill="#222"/>
<circle cx="511.70" cy="341.20" r="1.25" fill="#222"/>
<text x="494.94" y="431.00" font-size="9.3" fill="#444" textLength="19.81" lengthAdjust="spacingAndGlyphs">10%</text>
<text x="438.44" y="445.40" font-size="10.7" fill="#444" textLength="65.72" lengthAdjust="spacingAndGlyphs">Plasma conc.</text>
<text x="462.48" y="337.10" font-size="10.9" fill="#222" textLength="19.64" lengthAdjust="spacingAndGlyphs">ALλ</text>
<line x1="545.70" y1="345.70" x2="545.70" y2="418.10" stroke="#555" stroke-width="1.0"/>
<line x1="545.20" y1="417.60" x2="651.60" y2="417.60" stroke="#555" stroke-width="1.0"/>
<line x1="542.90" y1="417.60" x2="545.70" y2="417.60" stroke="#555" stroke-width="0.9"/>
<text x="538.45" y="419.40" font-size="5.0" fill="#555" stroke="#555" stroke-width="0.12" textLength="2.95" lengthAdjust="spacingAndGlyphs">0</text>
<line x1="542.90" y1="393.73" x2="545.70" y2="393.73" stroke="#555" stroke-width="0.9"/>
<text x="523.72" y="395.53" font-size="5.0" fill="#555" stroke="#555" stroke-width="0.12" textLength="17.68" lengthAdjust="spacingAndGlyphs">500000</text>
<line x1="542.90" y1="369.87" x2="545.70" y2="369.87" stroke="#555" stroke-width="0.9"/>
<text x="520.77" y="371.67" font-size="5.0" fill="#555" stroke="#555" stroke-width="0.12" textLength="20.63" lengthAdjust="spacingAndGlyphs">1000000</text>
<line x1="542.90" y1="346.00" x2="545.70" y2="346.00" stroke="#555" stroke-width="0.9"/>
<text x="520.77" y="347.80" font-size="5.0" fill="#555" stroke="#555" stroke-width="0.12" textLength="20.63" lengthAdjust="spacingAndGlyphs">1500000</text>
<line x1="557.30" y1="417.60" x2="557.30" y2="420.20" stroke="#555" stroke-width="0.9"/>
<rect x="548.30" y="417.00" width="7.00" height="0.60" fill="#d9d9d9" stroke="#333" stroke-width="0.8"/>
<circle cx="550.20" cy="417.60" r="1.25" fill="#fff" stroke="#444" stroke-width="0.6"/>
<circle cx="551.80" cy="417.60" r="1.25" fill="#fff" stroke="#444" stroke-width="0.6"/>
<circle cx="553.40" cy="417.60" r="1.25" fill="#fff" stroke="#444" stroke-width="0.6"/>
<rect x="559.30" y="417.00" width="7.00" height="0.60" fill="#565656" stroke="#333" stroke-width="0.8"/>
<circle cx="561.20" cy="417.60" r="1.25" fill="#fff" stroke="#444" stroke-width="0.6"/>
<circle cx="562.80" cy="417.60" r="1.25" fill="#fff" stroke="#444" stroke-width="0.6"/>
<circle cx="564.40" cy="417.60" r="1.25" fill="#fff" stroke="#444" stroke-width="0.6"/>
<path d="M551.80,416.00 L551.80,352.20 L562.80,352.20 L562.80,416.00" fill="none" stroke="#444" stroke-width="0.8"/>
<text x="554.34" y="349.10" font-size="5.4" fill="#444" stroke="#444" stroke-width="0.05" textLength="5.91" lengthAdjust="spacingAndGlyphs">ns</text>
<text x="550.65" y="431.00" font-size="9.3" fill="#444" textLength="14.31" lengthAdjust="spacingAndGlyphs">0%</text>
<line x1="585.25" y1="417.60" x2="585.25" y2="420.20" stroke="#555" stroke-width="0.9"/>
<line x1="579.90" y1="382.28" x2="579.90" y2="375.12" stroke="#333" stroke-width="0.8"/>
<line x1="578.40" y1="375.12" x2="581.40" y2="375.12" stroke="#333" stroke-width="0.8"/>
<rect x="576.40" y="382.28" width="7.00" height="35.32" fill="#d9d9d9" stroke="#333" stroke-width="0.8"/>
<circle cx="578.30" cy="382.28" r="1.25" fill="#fff" stroke="#444" stroke-width="0.6"/>
<circle cx="579.90" cy="375.12" r="1.25" fill="#fff" stroke="#444" stroke-width="0.6"/>
<circle cx="581.50" cy="386.57" r="1.25" fill="#fff" stroke="#444" stroke-width="0.6"/>
<rect x="587.10" y="371.59" width="7.00" height="46.01" fill="#565656" stroke="#333" stroke-width="0.8"/>
<circle cx="589.00" cy="371.30" r="1.25" fill="#fff" stroke="#444" stroke-width="0.6"/>
<circle cx="590.60" cy="371.78" r="1.25" fill="#fff" stroke="#444" stroke-width="0.6"/>
<circle cx="592.20" cy="371.06" r="1.25" fill="#fff" stroke="#444" stroke-width="0.6"/>
<path d="M579.90,372.40 L579.90,352.20 L590.60,352.20 L590.60,368.30" fill="none" stroke="#444" stroke-width="0.8"/>
<circle cx="580.85" cy="347.50" r="1.25" fill="#222"/>
<circle cx="585.55" cy="347.50" r="1.25" fill="#222"/>
<circle cx="590.25" cy="347.50" r="1.25" fill="#222"/>
<text x="578.60" y="431.00" font-size="9.3" fill="#444" textLength="14.31" lengthAdjust="spacingAndGlyphs">1%</text>
<line x1="612.70" y1="417.60" x2="612.70" y2="420.20" stroke="#555" stroke-width="0.9"/>
<rect x="604.00" y="385.28" width="7.00" height="32.32" fill="#d9d9d9" stroke="#333" stroke-width="0.8"/>
<circle cx="605.90" cy="384.19" r="1.25" fill="#fff" stroke="#444" stroke-width="0.6"/>
<circle cx="607.50" cy="386.57" r="1.25" fill="#fff" stroke="#444" stroke-width="0.6"/>
<circle cx="609.10" cy="384.66" r="1.25" fill="#fff" stroke="#444" stroke-width="0.6"/>
<rect x="614.40" y="367.48" width="7.00" height="50.12" fill="#565656" stroke="#333" stroke-width="0.8"/>
<circle cx="616.30" cy="367.00" r="1.25" fill="#fff" stroke="#444" stroke-width="0.6"/>
<circle cx="617.90" cy="367.96" r="1.25" fill="#fff" stroke="#444" stroke-width="0.6"/>
<circle cx="619.50" cy="366.53" r="1.25" fill="#fff" stroke="#444" stroke-width="0.6"/>
<path d="M607.50,380.20 L607.50,352.20 L617.90,352.20 L617.90,363.80" fill="none" stroke="#444" stroke-width="0.8"/>
<circle cx="605.95" cy="347.50" r="1.25" fill="#222"/>
<circle cx="610.65" cy="347.50" r="1.25" fill="#222"/>
<circle cx="615.35" cy="347.50" r="1.25" fill="#222"/>
<circle cx="620.05" cy="347.50" r="1.25" fill="#222"/>
<text x="606.05" y="431.00" font-size="9.3" fill="#444" textLength="14.31" lengthAdjust="spacingAndGlyphs">5%</text>
<line x1="640.10" y1="417.60" x2="640.10" y2="420.20" stroke="#555" stroke-width="0.9"/>
<rect x="631.20" y="381.18" width="7.00" height="36.42" fill="#d9d9d9" stroke="#333" stroke-width="0.8"/>
<circle cx="633.10" cy="380.85" r="1.25" fill="#fff" stroke="#444" stroke-width="0.6"/>
<circle cx="634.70" cy="381.32" r="1.25" fill="#fff" stroke="#444" stroke-width="0.6"/>
<circle cx="636.30" cy="381.08" r="1.25" fill="#fff" stroke="#444" stroke-width="0.6"/>
<line x1="645.50" y1="363.80" x2="645.50" y2="357.93" stroke="#333" stroke-width="0.8"/>
<line x1="644.00" y1="357.93" x2="647.00" y2="357.93" stroke="#333" stroke-width="0.8"/>
<rect x="642.00" y="363.80" width="7.00" height="53.80" fill="#565656" stroke="#333" stroke-width="0.8"/>
<circle cx="643.90" cy="360.32" r="1.25" fill="#fff" stroke="#444" stroke-width="0.6"/>
<circle cx="645.50" cy="365.09" r="1.25" fill="#fff" stroke="#444" stroke-width="0.6"/>
<circle cx="647.10" cy="357.93" r="1.25" fill="#fff" stroke="#444" stroke-width="0.6"/>
<path d="M634.70,377.10 L634.70,352.20 L645.50,352.20 L645.50,356.70" fill="none" stroke="#444" stroke-width="0.8"/>
<circle cx="633.35" cy="347.50" r="1.25" fill="#222"/>
<circle cx="638.05" cy="347.50" r="1.25" fill="#222"/>
<circle cx="642.75" cy="347.50" r="1.25" fill="#222"/>
<circle cx="647.45" cy="347.50" r="1.25" fill="#222"/>
<text x="630.69" y="431.00" font-size="9.3" fill="#444" textLength="19.81" lengthAdjust="spacingAndGlyphs">10%</text>
<text x="574.34" y="445.40" font-size="10.7" fill="#444" textLength="65.72" lengthAdjust="spacingAndGlyphs">Plasma conc.</text>
<text x="587.02" y="337.70" font-size="10.6" fill="#222" textLength="39.96" lengthAdjust="spacingAndGlyphs">ATTRwt</text>
<text x="245.20" y="381.50" font-size="9.8" fill="#444" text-anchor="middle" textLength="80.0" lengthAdjust="spacingAndGlyphs" transform="rotate(-90 245.20 381.50)" >C5b9 deposition</text>
<text x="258.00" y="383.40" font-size="9.8" fill="#444" text-anchor="middle" textLength="74.4" lengthAdjust="spacingAndGlyphs" transform="rotate(-90 258.00 383.40)" >(Fluorescence)</text>
</svg></body></html>
